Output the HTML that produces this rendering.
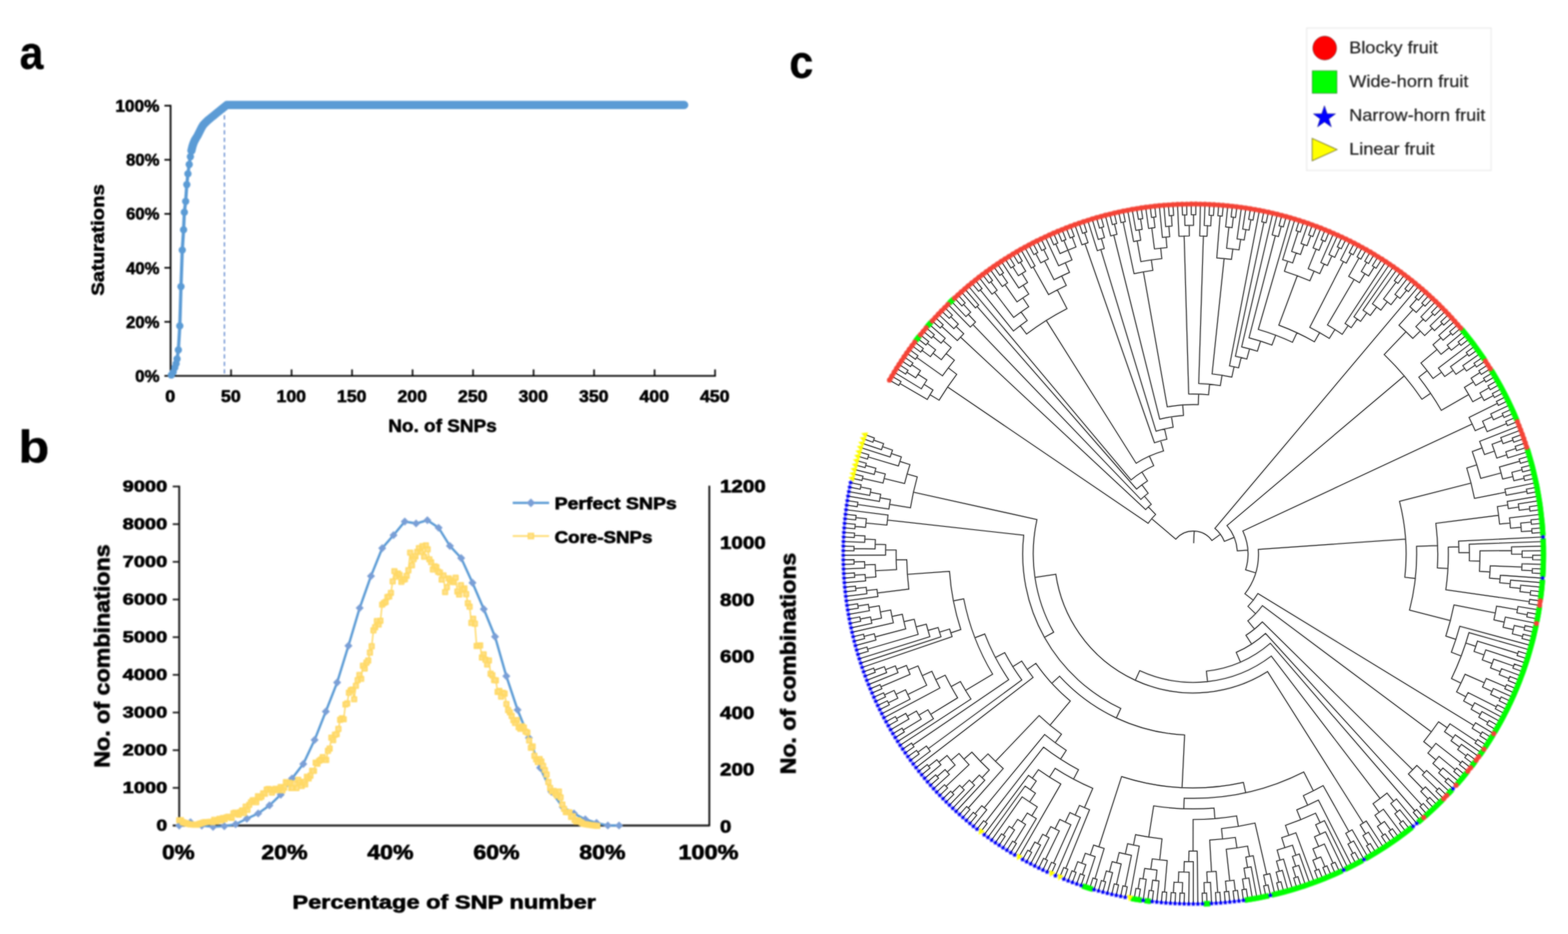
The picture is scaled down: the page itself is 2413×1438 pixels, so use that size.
<!DOCTYPE html>
<html lang="en">
<head>
<meta charset="utf-8">
<title>Figure: SNP saturation, combinations and phylogenetic tree</title>
<style>
html,body{margin:0;padding:0;background:#fff;}
body{width:2413px;height:1438px;overflow:hidden;}
svg{display:block;font-family:"Liberation Sans", Arial, Helvetica, sans-serif;}
.soft{filter:blur(0.8px);}
</style>
</head>
<body>
<svg width="2413" height="1438" viewBox="0 0 2413 1438">
<defs><path id="tl" d="M1809.4,830.1A35.4,35.4 0 0 1 1865.0,832.2M1809.4,830.1L1772.3,798.6M1766.9,805.7A84.1,84.1 0 0 1 1778.4,792.1M1766.9,805.7L1458.2,595.8M1445.2,616.1A457.4,457.4 0 0 1 1472.3,576.3M1445.2,616.1L1431.3,607.7M1427.0,615.0A473.6,473.6 0 0 1 1435.8,600.4M1427.0,615.0L1384.9,590.5M1383.2,593.4A522.3,522.3 0 0 1 1386.6,587.5M1383.2,593.4L1369.1,585.4M1386.6,587.5L1372.6,579.3M1435.8,600.4L1422.1,591.8M1417.9,598.6A489.8,489.8 0 0 1 1426.4,585.0M1417.9,598.6L1376.3,573.3M1426.4,585.0L1412.8,576.2M1409.2,581.7A506.0,506.0 0 0 1 1416.5,570.6M1409.2,581.7L1395.5,573.0M1393.7,575.9A522.3,522.3 0 0 1 1397.4,570.1M1393.7,575.9L1379.9,567.3M1397.4,570.1L1383.7,561.3M1416.5,570.6L1403.0,561.6M1401.1,564.4A522.3,522.3 0 0 1 1404.9,558.8M1401.1,564.4L1387.6,555.5M1404.9,558.8L1391.5,549.6M1472.3,576.3L1459.4,566.4M1450.4,578.6A473.6,473.6 0 0 1 1468.7,554.6M1450.4,578.6L1410.7,550.4M1408.8,553.2A522.3,522.3 0 0 1 1412.7,547.6M1408.8,553.2L1395.5,543.8M1412.7,547.6L1399.6,538.1M1468.7,554.6L1456.1,544.4M1448.6,553.8A489.8,489.8 0 0 1 1463.7,535.1M1448.6,553.8L1435.8,543.8M1431.8,549.1A506.0,506.0 0 0 1 1439.8,538.6M1431.8,549.1L1418.8,539.4M1416.8,542.1A522.3,522.3 0 0 1 1420.9,536.6M1416.8,542.1L1403.7,532.4M1420.9,536.6L1407.9,526.8M1439.8,538.6L1427.1,528.6M1425.0,531.2A522.3,522.3 0 0 1 1429.3,525.9M1425.0,531.2L1412.2,521.2M1429.3,525.9L1416.6,515.7M1463.7,535.1L1451.4,524.6M1448.2,528.4A506.0,506.0 0 0 1 1454.6,520.8M1448.2,528.4L1435.7,518.0M1433.6,520.6A522.3,522.3 0 0 1 1437.9,515.4M1433.6,520.6L1421.0,510.3M1437.9,515.4L1425.6,504.9M1454.6,520.8L1430.1,499.5M1778.4,792.1L1767.2,780.4M1763.0,784.6A100.3,100.3 0 0 1 1771.7,776.4M1763.0,784.6L1478.1,519.0M1473.2,524.3A489.8,489.8 0 0 1 1483.1,513.8M1473.2,524.3L1449.2,502.5M1446.9,505.1A522.3,522.3 0 0 1 1451.5,500.0M1446.9,505.1L1434.8,494.3M1451.5,500.0L1439.5,489.0M1483.1,513.8L1471.3,502.6M1467.9,506.1A506.0,506.0 0 0 1 1474.8,499.0M1467.9,506.1L1444.3,483.9M1474.8,499.0L1463.2,487.6M1460.8,490.1A522.3,522.3 0 0 1 1465.6,485.2M1460.8,490.1L1449.1,478.8M1465.6,485.2L1454.1,473.8M1771.7,776.4L1761.2,764.0M1755.7,768.9A116.5,116.5 0 0 1 1766.9,759.4M1755.7,768.9L1497.2,499.7M1493.2,503.6A489.8,489.8 0 0 1 1501.2,495.8M1493.2,503.6L1459.1,468.8M1501.2,495.8L1490.1,484.0M1486.5,487.4A506.0,506.0 0 0 1 1493.8,480.6M1486.5,487.4L1464.1,463.9M1493.8,480.6L1482.8,468.7M1480.3,471.0A522.3,522.3 0 0 1 1485.3,466.4M1480.3,471.0L1469.2,459.1M1485.3,466.4L1474.4,454.3M1766.9,759.4L1757.3,746.4M1749.1,753.0A132.8,132.8 0 0 1 1765.9,740.5M1749.1,753.0L1503.6,471.8M1501.1,474.0A506.0,506.0 0 0 1 1506.1,469.6M1501.1,474.0L1479.6,449.6M1506.1,469.6L1484.9,445.0M1765.9,740.5L1757.3,726.8M1740.6,738.9A149.0,149.0 0 0 1 1775.5,717.0M1740.6,738.9L1490.3,440.5M1775.5,717.0L1768.8,702.2M1748.4,713.2A165.2,165.2 0 0 1 1790.6,694.3M1748.4,713.2L1610.1,493.4M1579.8,514.3A424.9,424.9 0 0 1 1642.0,475.2M1579.8,514.3L1570.0,501.4M1559.6,509.6A441.1,441.1 0 0 1 1580.8,493.5M1559.6,509.6L1508.6,446.4M1506.0,448.5A522.3,522.3 0 0 1 1511.3,444.3M1506.0,448.5L1495.7,436.0M1511.3,444.3L1501.2,431.6M1580.8,493.5L1571.4,480.3M1559.9,488.7A457.4,457.4 0 0 1 1583.1,472.2M1559.9,488.7L1530.5,449.9M1526.6,452.9A506.0,506.0 0 0 1 1534.5,446.9M1526.6,452.9L1506.7,427.2M1534.5,446.9L1524.8,433.9M1522.1,435.9A522.3,522.3 0 0 1 1527.5,431.8M1522.1,435.9L1512.3,423.0M1527.5,431.8L1517.9,418.8M1583.1,472.2L1574.1,458.7M1565.1,464.8A473.6,473.6 0 0 1 1583.2,452.8M1565.1,464.8L1546.5,438.2M1542.5,441.1A506.0,506.0 0 0 1 1550.6,435.4M1542.5,441.1L1523.6,414.6M1550.6,435.4L1541.5,422.0M1538.6,423.9A522.3,522.3 0 0 1 1544.3,420.1M1538.6,423.9L1529.4,410.6M1544.3,420.1L1535.2,406.6M1583.2,452.8L1574.5,439.1M1567.8,443.4A489.8,489.8 0 0 1 1581.3,434.9M1567.8,443.4L1541.1,402.7M1581.3,434.9L1572.8,421.0M1567.2,424.5A506.0,506.0 0 0 1 1578.5,417.6M1567.2,424.5L1558.6,410.8M1555.7,412.6A522.3,522.3 0 0 1 1561.5,409.0M1555.7,412.6L1547.0,398.9M1561.5,409.0L1552.9,395.2M1578.5,417.6L1570.2,403.7M1567.3,405.4A522.3,522.3 0 0 1 1573.1,401.9M1567.3,405.4L1558.9,391.5M1573.1,401.9L1565.0,387.9M1642.0,475.2L1627.1,446.3M1613.7,453.6A457.4,457.4 0 0 1 1640.9,439.6M1613.7,453.6L1589.9,411.0M1587.1,412.7A506.0,506.0 0 0 1 1592.8,409.4M1587.1,412.7L1571.1,384.4M1592.8,409.4L1577.2,381.0M1640.9,439.6L1633.9,424.9M1622.1,430.7A473.6,473.6 0 0 1 1645.9,419.4M1622.1,430.7L1607.4,401.7M1601.6,404.7A506.0,506.0 0 0 1 1613.4,398.8M1601.6,404.7L1594.0,390.4M1591.0,392.0A522.3,522.3 0 0 1 1597.1,388.8M1591.0,392.0L1583.4,377.6M1597.1,388.8L1589.6,374.4M1613.4,398.8L1606.2,384.2M1603.1,385.7A522.3,522.3 0 0 1 1609.3,382.7M1603.1,385.7L1595.9,371.2M1609.3,382.7L1602.2,368.1M1645.9,419.4L1639.4,404.6M1629.2,409.2A489.8,489.8 0 0 1 1649.7,400.2M1629.2,409.2L1608.6,365.1M1649.7,400.2L1643.5,385.2M1631.3,390.4A506.0,506.0 0 0 1 1655.8,380.3M1631.3,390.4L1624.7,375.5M1621.6,376.9A522.3,522.3 0 0 1 1627.9,374.2M1621.6,376.9L1615.0,362.1M1627.9,374.2L1621.4,359.3M1643.5,385.2L1637.3,370.2M1634.1,371.5A522.3,522.3 0 0 1 1640.4,368.9M1634.1,371.5L1627.8,356.5M1640.4,368.9L1634.4,353.8M1655.8,380.3L1650.0,365.1M1646.8,366.4A522.3,522.3 0 0 1 1653.2,363.9M1646.8,366.4L1640.9,351.2M1653.2,363.9L1647.5,348.7M1790.6,694.3L1786.1,678.7M1776.6,681.7A181.4,181.4 0 0 1 1795.7,676.2M1776.6,681.7L1669.7,375.2M1665.0,376.9A506.0,506.0 0 0 1 1674.4,373.6M1665.0,376.9L1654.1,346.3M1674.4,373.6L1669.2,358.2M1666.0,359.3A522.3,522.3 0 0 1 1672.4,357.1M1666.0,359.3L1660.7,344.0M1672.4,357.1L1667.4,341.7M1795.7,676.2L1792.1,660.4M1779.0,663.9A197.7,197.7 0 0 1 1805.4,657.8M1779.0,663.9L1694.1,384.3M1688.7,386.0A489.8,489.8 0 0 1 1699.4,382.7M1688.7,386.0L1674.0,339.6M1699.4,382.7L1694.9,367.1M1690.1,368.6A506.0,506.0 0 0 1 1699.7,365.8M1690.1,368.6L1680.8,337.5M1699.7,365.8L1695.3,350.2M1692.0,351.1A522.3,522.3 0 0 1 1698.6,349.2M1692.0,351.1L1687.5,335.5M1698.6,349.2L1694.3,333.6M1805.4,657.8L1802.8,641.7M1784.7,645.4A213.9,213.9 0 0 1 1821.3,639.6M1784.7,645.4L1714.0,362.0M1709.2,363.2A506.0,506.0 0 0 1 1718.9,360.8M1709.2,363.2L1701.1,331.8M1718.9,360.8L1715.1,345.0M1711.8,345.8A522.3,522.3 0 0 1 1718.4,344.2M1711.8,345.8L1707.9,330.1M1718.4,344.2L1714.7,328.4M1821.3,639.6L1820.1,623.4M1796.3,626.4A230.1,230.1 0 0 1 1844.1,623.0M1796.3,626.4L1759.6,418.6M1745.2,421.4A441.1,441.1 0 0 1 1774.1,416.3M1745.2,421.4L1728.4,342.0M1725.1,342.7A522.3,522.3 0 0 1 1731.7,341.3M1725.1,342.7L1721.6,326.9M1731.7,341.3L1728.5,325.4M1774.1,416.3L1771.8,400.2M1755.7,402.8A457.4,457.4 0 0 1 1787.9,398.2M1755.7,402.8L1750.0,370.9M1744.5,371.9A489.8,489.8 0 0 1 1755.5,369.9M1744.5,371.9L1735.4,324.1M1755.5,369.9L1752.9,353.9M1748.0,354.7A506.0,506.0 0 0 1 1757.7,353.1M1748.0,354.7L1742.3,322.8M1757.7,353.1L1755.2,337.1M1751.9,337.6A522.3,522.3 0 0 1 1758.6,336.6M1751.9,337.6L1749.2,321.6M1758.6,336.6L1756.2,320.5M1787.9,398.2L1786.2,382.1M1776.6,383.2A473.6,473.6 0 0 1 1795.8,381.2M1776.6,383.2L1772.5,351.0M1767.6,351.7A506.0,506.0 0 0 1 1777.4,350.4M1767.6,351.7L1763.1,319.5M1777.4,350.4L1775.5,334.3M1772.1,334.7A522.3,522.3 0 0 1 1778.9,333.9M1772.1,334.7L1770.1,318.6M1778.9,333.9L1777.1,317.8M1795.8,381.2L1794.4,365.0M1788.8,365.5A489.8,489.8 0 0 1 1800.0,364.5M1788.8,365.5L1784.1,317.0M1800.0,364.5L1798.8,348.4M1793.8,348.8A506.0,506.0 0 0 1 1803.7,348.0M1793.8,348.8L1791.1,316.4M1803.7,348.0L1802.7,331.8M1799.3,332.1A522.3,522.3 0 0 1 1806.1,331.6M1799.3,332.1L1798.1,315.9M1806.1,331.6L1805.1,315.4M1844.1,623.0L1844.6,606.8M1829.3,606.7A246.4,246.4 0 0 1 1859.9,607.8M1829.3,606.7L1822.3,363.4M1814.3,363.7A489.8,489.8 0 0 1 1830.3,363.2M1814.3,363.7L1812.1,315.0M1830.3,363.2L1830.1,347.0M1823.5,347.1A506.0,506.0 0 0 1 1836.7,347.0M1823.5,347.1L1823.1,330.9M1819.7,331.0A522.3,522.3 0 0 1 1826.5,330.8M1819.7,331.0L1819.2,314.8M1826.5,330.8L1826.2,314.6M1836.7,347.0L1836.7,330.7M1833.3,330.7A522.3,522.3 0 0 1 1840.2,330.7M1833.3,330.7L1833.2,314.5M1840.2,330.7L1840.3,314.5M1859.9,607.8L1861.4,591.6M1844.7,590.5A262.6,262.6 0 0 1 1878.0,593.7M1844.7,590.5L1851.9,363.4M1846.3,363.3A489.8,489.8 0 0 1 1857.5,363.6M1846.3,363.3L1847.3,314.6M1857.5,363.6L1858.2,347.4M1853.2,347.2A506.0,506.0 0 0 1 1863.2,347.7M1853.2,347.2L1854.3,314.8M1863.2,347.7L1864.0,331.5M1860.6,331.3A522.3,522.3 0 0 1 1867.4,331.7M1860.6,331.3L1861.4,315.1M1867.4,331.7L1868.4,315.5M1878.0,593.7L1880.6,577.7M1865.3,575.7A278.8,278.8 0 0 1 1895.7,580.6M1865.3,575.7L1883.8,398.1M1872.5,397.1A457.4,457.4 0 0 1 1895.1,399.4M1872.5,397.1L1877.6,332.4M1874.2,332.1A522.3,522.3 0 0 1 1881.0,332.6M1874.2,332.1L1875.4,315.9M1881.0,332.6L1882.4,316.5M1895.1,399.4L1897.2,383.3M1887.6,382.2A473.6,473.6 0 0 1 1906.8,384.7M1887.6,382.2L1891.1,349.9M1886.2,349.4A506.0,506.0 0 0 1 1896.1,350.5M1886.2,349.4L1889.4,317.1M1896.1,350.5L1898.0,334.4M1894.6,334.0A522.3,522.3 0 0 1 1901.4,334.8M1894.6,334.0L1896.4,317.9M1901.4,334.8L1903.4,318.7M1906.8,384.7L1909.2,368.6M1903.7,367.8A489.8,489.8 0 0 1 1914.7,369.5M1903.7,367.8L1910.4,319.6M1914.7,369.5L1917.3,353.5M1912.4,352.7A506.0,506.0 0 0 1 1922.2,354.3M1912.4,352.7L1917.3,320.6M1922.2,354.3L1925.0,338.3M1921.6,337.7A522.3,522.3 0 0 1 1928.3,338.9M1921.6,337.7L1924.3,321.7M1928.3,338.9L1931.2,322.9M1895.7,580.6L1899.1,564.7M1892.1,563.3A295.0,295.0 0 0 1 1906.1,566.3M1892.1,563.3L1938.1,324.2M1906.1,566.3L1910.0,550.5M1901.2,548.5A311.3,311.3 0 0 1 1918.7,552.8M1901.2,548.5L1945.1,342.2M1941.7,341.5A522.3,522.3 0 0 1 1948.4,342.9M1941.7,341.5L1945.0,325.6M1948.4,342.9L1951.9,327.0M1918.7,552.8L1923.0,537.1M1910.8,534.1A327.5,327.5 0 0 1 1935.0,540.7M1910.8,534.1L1958.7,328.6M1935.0,540.7L1939.9,525.2M1922.1,520.1A343.7,343.7 0 0 1 1957.4,531.3M1922.1,520.1L1962.6,363.0M1957.8,361.7A506.0,506.0 0 0 1 1967.4,364.2M1957.8,361.7L1965.6,330.2M1967.4,364.2L1971.6,348.5M1968.3,347.7A522.3,522.3 0 0 1 1974.9,349.4M1968.3,347.7L1972.4,332.0M1974.9,349.4L1979.2,333.8M1957.4,531.3L1963.1,516.1M1936.4,507.2A360.0,360.0 0 0 1 1989.0,527.0M1936.4,507.2L1986.0,335.7M1989.0,527.0L1995.9,512.3M1968.0,500.6A376.2,376.2 0 0 1 2022.8,526.2M1968.0,500.6L1996.4,424.5M1976.6,417.7A457.4,457.4 0 0 1 2015.8,432.3M1976.6,417.7L1981.6,402.2M1973.9,399.8A473.6,473.6 0 0 1 1989.3,404.8M1973.9,399.8L1992.7,337.7M1989.3,404.8L1994.6,389.4M1987.7,387.2A489.8,489.8 0 0 1 2001.4,391.8M1987.7,387.2L1997.8,356.3M1994.5,355.2A522.3,522.3 0 0 1 2001.0,357.3M1994.5,355.2L1999.4,339.8M2001.0,357.3L2006.1,341.9M2001.4,391.8L2006.8,376.5M2002.1,374.9A506.0,506.0 0 0 1 2011.5,378.2M2002.1,374.9L2012.8,344.2M2011.5,378.2L2017.1,363.0M2013.9,361.8A522.3,522.3 0 0 1 2020.3,364.2M2013.9,361.8L2019.4,346.5M2020.3,364.2L2026.0,349.0M2015.8,432.3L2022.2,417.4M2013.2,413.7A473.6,473.6 0 0 1 2031.0,421.3M2013.2,413.7L2025.4,383.6M2020.7,381.7A506.0,506.0 0 0 1 2029.9,385.4M2020.7,381.7L2032.6,351.5M2029.9,385.4L2036.1,370.4M2033.0,369.1A522.3,522.3 0 0 1 2039.3,371.8M2033.0,369.1L2039.1,354.1M2039.3,371.8L2045.6,356.8M2031.0,421.3L2037.7,406.5M2032.6,404.2A489.8,489.8 0 0 1 2042.8,408.8M2032.6,404.2L2052.1,359.6M2042.8,408.8L2049.6,394.1M2045.1,392.0A506.0,506.0 0 0 1 2054.1,396.2M2045.1,392.0L2058.5,362.4M2054.1,396.2L2061.1,381.5M2058.0,380.1A522.3,522.3 0 0 1 2064.1,383.0M2058.0,380.1L2064.9,365.4M2064.1,383.0L2071.2,368.4M2022.8,526.2L2030.8,512.1M2015.6,503.9A392.4,392.4 0 0 1 2045.7,521.0M2015.6,503.9L2067.4,402.8M2063.0,400.5A506.0,506.0 0 0 1 2071.8,405.1M2063.0,400.5L2077.5,371.5M2071.8,405.1L2079.4,390.7M2076.3,389.1A522.3,522.3 0 0 1 2082.4,392.3M2076.3,389.1L2083.8,374.7M2082.4,392.3L2090.0,378.0M2045.7,521.0L2054.3,507.3M2042.8,500.3A408.7,408.7 0 0 1 2065.6,514.7M2042.8,500.3L2083.8,430.3M2075.5,425.5A489.8,489.8 0 0 1 2092.1,435.2M2075.5,425.5L2091.4,397.2M2088.4,395.5A522.3,522.3 0 0 1 2094.3,398.9M2088.4,395.5L2096.2,381.3M2094.3,398.9L2102.3,384.8M2092.1,435.2L2100.5,421.4M2094.9,418.0A506.0,506.0 0 0 1 2106.2,424.9M2094.9,418.0L2103.2,404.0M2100.2,402.3A522.3,522.3 0 0 1 2106.1,405.8M2100.2,402.3L2108.4,388.3M2106.1,405.8L2114.5,391.9M2106.2,424.9L2114.8,411.1M2111.9,409.3A522.3,522.3 0 0 1 2117.7,413.0M2111.9,409.3L2120.5,395.5M2117.7,413.0L2126.4,399.3M2065.6,514.7L2074.7,501.2M2069.9,498.0A424.9,424.9 0 0 1 2079.4,504.5M2069.9,498.0L2132.3,403.1M2079.4,504.5L2088.7,491.2M2083.6,487.7A441.1,441.1 0 0 1 2093.8,494.8M2083.6,487.7L2138.2,407.0M2093.8,494.8L2103.3,481.6M2097.6,477.6A457.4,457.4 0 0 1 2108.8,485.7M2097.6,477.6L2144.0,411.0M2108.8,485.7L2118.5,472.6M2112.0,467.8A473.6,473.6 0 0 1 2125.0,477.5M2112.0,467.8L2149.7,415.0M2125.0,477.5L2134.9,464.6M2129.1,460.3A489.8,489.8 0 0 1 2140.6,469.1M2129.1,460.3L2148.5,434.3M2145.8,432.2A522.3,522.3 0 0 1 2151.3,436.3M2145.8,432.2L2155.4,419.2M2151.3,436.3L2161.1,423.4M2140.6,469.1L2150.6,456.4M2146.7,453.3A506.0,506.0 0 0 1 2154.5,459.4M2146.7,453.3L2166.6,427.7M2154.5,459.4L2164.7,446.8M2162.1,444.7A522.3,522.3 0 0 1 2167.4,449.0M2162.1,444.7L2172.2,432.0M2167.4,449.0L2177.6,436.4M1865.0,832.2L1878.1,822.6M1869.6,813.5A51.6,51.6 0 0 1 1884.2,833.5M1869.6,813.5L2183.1,440.9M1884.2,833.5L1899.2,827.4M1888.2,809.2A67.8,67.8 0 0 1 1904.1,848.1M1888.2,809.2L2161.0,578.8M2130.1,545.9A424.9,424.9 0 0 1 2188.2,614.7M2130.1,545.9L2163.7,510.7M2152.9,500.7A473.6,473.6 0 0 1 2174.2,521.0M2152.9,500.7L2174.6,476.6M2169.7,472.2A506.0,506.0 0 0 1 2179.5,481.0M2169.7,472.2L2180.4,460.0M2177.8,457.8A522.3,522.3 0 0 1 2182.9,462.3M2177.8,457.8L2188.4,445.5M2182.9,462.3L2193.7,450.1M2179.5,481.0L2190.5,469.1M2188.0,466.8A522.3,522.3 0 0 1 2193.0,471.4M2188.0,466.8L2198.9,454.8M2193.0,471.4L2204.1,459.6M2174.2,521.0L2185.7,509.7M2178.9,502.9A489.8,489.8 0 0 1 2192.4,516.6M2178.9,502.9L2190.3,491.3M2186.7,487.8A506.0,506.0 0 0 1 2193.8,494.8M2186.7,487.8L2209.2,464.4M2193.8,494.8L2205.3,483.3M2202.9,480.9A522.3,522.3 0 0 1 2207.7,485.7M2202.9,480.9L2214.2,469.3M2207.7,485.7L2219.2,474.3M2192.4,516.6L2204.2,505.4M2200.8,501.8A506.0,506.0 0 0 1 2207.6,509.0M2200.8,501.8L2224.1,479.3M2207.6,509.0L2219.5,498.0M2217.2,495.5A522.3,522.3 0 0 1 2221.8,500.5M2217.2,495.5L2229.0,484.4M2221.8,500.5L2233.8,489.6M2188.2,614.7L2201.6,605.6M2183.4,580.7A441.1,441.1 0 0 1 2218.0,631.8M2183.4,580.7L2196.2,570.7M2186.7,558.9A457.4,457.4 0 0 1 2205.3,582.7M2186.7,558.9L2211.5,538.1M2205.3,530.8A489.8,489.8 0 0 1 2217.6,545.5M2205.3,530.8L2217.5,520.1M2214.2,516.4A506.0,506.0 0 0 1 2220.8,523.8M2214.2,516.4L2238.5,494.8M2220.8,523.8L2233.1,513.3M2230.9,510.7A522.3,522.3 0 0 1 2235.3,515.9M2230.9,510.7L2243.1,500.1M2235.3,515.9L2247.7,505.4M2217.6,545.5L2230.3,535.3M2227.1,531.4A506.0,506.0 0 0 1 2233.4,539.2M2227.1,531.4L2252.2,510.8M2233.4,539.2L2246.1,529.1M2244.0,526.4A522.3,522.3 0 0 1 2248.2,531.8M2244.0,526.4L2256.6,516.3M2248.2,531.8L2261.0,521.8M2205.3,582.7L2218.4,573.1M2213.6,566.6A473.6,473.6 0 0 1 2223.2,579.7M2213.6,566.6L2265.3,527.4M2223.2,579.7L2236.4,570.4M2232.2,564.5A489.8,489.8 0 0 1 2240.5,576.3M2232.2,564.5L2258.5,545.4M2256.4,542.6A522.3,522.3 0 0 1 2260.5,548.1M2256.4,542.6L2269.5,533.0M2260.5,548.1L2273.6,538.7M2240.5,576.3L2253.9,567.1M2251.1,563.0A506.0,506.0 0 0 1 2256.7,571.2M2251.1,563.0L2277.7,544.4M2256.7,571.2L2270.2,562.2M2268.3,559.3A522.3,522.3 0 0 1 2272.1,565.0M2268.3,559.3L2281.7,550.2M2272.1,565.0L2285.6,556.0M2218.0,631.8L2260.2,607.4M2253.6,596.4A489.8,489.8 0 0 1 2266.4,618.5M2253.6,596.4L2267.4,587.9M2263.9,582.3A506.0,506.0 0 0 1 2270.9,593.5M2263.9,582.3L2277.6,573.6M2275.8,570.7A522.3,522.3 0 0 1 2279.5,576.5M2275.8,570.7L2289.5,561.9M2279.5,576.5L2293.2,567.9M2270.9,593.5L2284.8,585.2M2283.0,582.3A522.3,522.3 0 0 1 2286.5,588.1M2283.0,582.3L2296.9,573.9M2286.5,588.1L2300.5,579.9M2266.4,618.5L2280.7,610.7M2277.5,605.0A506.0,506.0 0 0 1 2283.8,616.6M2277.5,605.0L2291.6,597.0M2289.9,594.0A522.3,522.3 0 0 1 2293.3,600.0M2289.9,594.0L2304.0,586.0M2293.3,600.0L2307.5,592.1M2283.8,616.6L2298.2,609.0M2296.6,606.0A522.3,522.3 0 0 1 2299.7,612.0M2296.6,606.0L2310.9,598.3M2299.7,612.0L2314.1,604.5M1904.1,848.1L1920.2,847.0M1912.6,817.5A84.1,84.1 0 0 1 1916.9,877.3M1912.6,817.5L2265.6,652.8M2260.7,642.7A473.6,473.6 0 0 1 2270.2,663.1M2260.7,642.7L2304.4,621.1M2302.8,618.1A522.3,522.3 0 0 1 2305.9,624.2M2302.8,618.1L2317.3,610.8M2305.9,624.2L2320.5,617.1M2270.2,663.1L2285.1,656.5M2281.5,648.5A489.8,489.8 0 0 1 2288.5,664.6M2281.5,648.5L2296.2,641.7M2294.1,637.3A506.0,506.0 0 0 1 2298.3,646.3M2294.1,637.3L2323.5,623.4M2298.3,646.3L2313.1,639.6M2311.7,636.5A522.3,522.3 0 0 1 2314.5,642.8M2311.7,636.5L2326.5,629.8M2314.5,642.8L2329.3,636.2M2288.5,664.6L2318.5,652.2M2317.2,649.0A522.3,522.3 0 0 1 2319.8,655.3M2317.2,649.0L2332.1,642.7M2319.8,655.3L2334.8,649.2M1916.9,877.3L1932.4,882.0M1936.4,845.9A100.3,100.3 0 0 1 1915.8,914.2M1936.4,845.9L2163.1,830.0M2153.7,771.9A327.5,327.5 0 0 1 2161.9,888.8M2153.7,771.9L2263.8,743.8M2257.2,720.6A441.1,441.1 0 0 1 2269.1,767.3M2257.2,720.6L2272.6,715.7M2265.7,695.2A457.4,457.4 0 0 1 2278.7,736.5M2265.7,695.2L2280.9,689.6M2277.0,679.5A473.6,473.6 0 0 1 2284.5,699.8M2277.0,679.5L2337.5,655.7M2284.5,699.8L2299.9,694.5M2296.1,684.0A489.8,489.8 0 0 1 2303.4,705.2M2296.1,684.0L2311.4,678.4M2309.6,673.7A506.0,506.0 0 0 1 2313.0,683.1M2309.6,673.7L2340.0,662.3M2313.0,683.1L2328.3,677.6M2327.2,674.4A522.3,522.3 0 0 1 2329.5,680.8M2327.2,674.4L2342.4,668.8M2329.5,680.8L2344.8,675.5M2303.4,705.2L2318.8,700.3M2317.3,695.6A506.0,506.0 0 0 1 2320.3,705.0M2317.3,695.6L2332.8,690.5M2331.7,687.3A522.3,522.3 0 0 1 2333.8,693.8M2331.7,687.3L2347.1,682.1M2333.8,693.8L2349.3,688.8M2320.3,705.0L2351.4,695.5M2278.7,736.5L2310.0,728.2M2307.5,719.0A489.8,489.8 0 0 1 2312.4,737.5M2307.5,719.0L2338.7,710.1M2337.8,706.8A522.3,522.3 0 0 1 2339.7,713.4M2337.8,706.8L2353.4,702.3M2339.7,713.4L2355.3,709.0M2312.4,737.5L2328.2,733.7M2326.6,727.3A506.0,506.0 0 0 1 2329.7,740.1M2326.6,727.3L2342.3,723.2M2341.4,719.9A522.3,522.3 0 0 1 2343.1,726.6M2341.4,719.9L2357.1,715.8M2343.1,726.6L2358.9,722.6M2329.7,740.1L2345.5,736.5M2344.7,733.2A522.3,522.3 0 0 1 2346.3,739.8M2344.7,733.2L2360.5,729.5M2346.3,739.8L2362.1,736.3M2269.1,767.3L2316.9,757.8M2315.9,753.1A489.8,489.8 0 0 1 2317.8,762.5M2315.9,753.1L2363.6,743.2M2317.8,762.5L2349.7,756.5M2349.0,753.2A522.3,522.3 0 0 1 2350.3,759.9M2349.0,753.2L2365.0,750.1M2350.3,759.9L2366.3,757.0M2161.9,888.8L2178.1,890.6M2179.9,841.1A343.7,343.7 0 0 1 2169.1,939.3M2179.9,841.1L2212.4,840.0M2209.6,805.7A376.2,376.2 0 0 1 2212.0,874.4M2209.6,805.7L2306.2,793.4M2304.3,780.0A473.6,473.6 0 0 1 2307.7,806.8M2304.3,780.0L2320.4,777.5M2319.5,772.0A489.8,489.8 0 0 1 2321.2,783.0M2319.5,772.0L2367.5,763.9M2321.2,783.0L2337.3,780.7M2336.5,775.8A506.0,506.0 0 0 1 2337.9,785.6M2336.5,775.8L2368.6,770.9M2337.9,785.6L2354.0,783.5M2353.6,780.1A522.3,522.3 0 0 1 2354.5,786.9M2353.6,780.1L2369.6,777.8M2354.5,786.9L2370.6,784.8M2307.7,806.8L2323.9,805.3M2323.0,797.3A489.8,489.8 0 0 1 2324.6,813.2M2323.0,797.3L2371.4,791.8M2324.6,813.2L2340.8,811.9M2340.2,805.3A506.0,506.0 0 0 1 2341.3,818.5M2340.2,805.3L2356.3,803.8M2356.0,800.4A522.3,522.3 0 0 1 2356.7,807.2M2356.0,800.4L2372.2,798.8M2356.7,807.2L2372.8,805.8M2341.3,818.5L2357.5,817.4M2357.2,814.0A522.3,522.3 0 0 1 2357.7,820.8M2357.2,814.0L2373.4,812.8M2357.7,820.8L2373.9,819.8M2212.0,874.4L2228.2,875.3M2228.7,842.4A392.4,392.4 0 0 1 2225.0,908.0M2228.7,842.4L2244.9,841.9M2244.6,833.1A408.7,408.7 0 0 1 2245.1,850.8M2244.6,833.1L2374.3,826.8M2245.1,850.8L2261.3,850.7M2261.0,837.9A424.9,424.9 0 0 1 2261.2,863.5M2261.0,837.9L2374.6,833.8M2261.2,863.5L2277.4,863.9M2277.5,848.1A441.1,441.1 0 0 1 2276.7,879.6M2277.5,848.1L2326.2,847.6M2326.1,842.0A489.8,489.8 0 0 1 2326.2,853.2M2326.1,842.0L2374.8,840.9M2326.2,853.2L2342.4,853.2M2342.4,848.2A506.0,506.0 0 0 1 2342.4,858.1M2342.4,848.2L2374.9,847.9M2342.4,858.1L2358.6,858.3M2358.7,854.9A522.3,522.3 0 0 1 2358.6,861.7M2358.7,854.9L2374.9,854.9M2358.6,861.7L2374.8,862.0M2276.7,879.6L2292.9,880.6M2293.4,871.1A457.4,457.4 0 0 1 2292.2,890.1M2293.4,871.1L2342.0,873.0M2342.2,868.0A506.0,506.0 0 0 1 2341.8,877.9M2342.2,868.0L2374.7,869.0M2341.8,877.9L2358.0,878.7M2358.2,875.3A522.3,522.3 0 0 1 2357.9,882.2M2358.2,875.3L2374.4,876.0M2357.9,882.2L2374.1,883.1M2292.2,890.1L2308.4,891.4M2308.9,885.6A473.6,473.6 0 0 1 2307.9,897.2M2308.9,885.6L2373.6,890.1M2307.9,897.2L2324.1,898.7M2324.6,893.1A489.8,489.8 0 0 1 2323.5,904.2M2324.6,893.1L2373.1,897.1M2323.5,904.2L2339.7,905.9M2340.2,901.0A506.0,506.0 0 0 1 2339.1,910.9M2340.2,901.0L2372.5,904.1M2339.1,910.9L2355.2,912.7M2355.6,909.3A522.3,522.3 0 0 1 2354.8,916.1M2355.6,909.3L2371.8,911.1M2354.8,916.1L2371.0,918.1M2225.0,908.0L2353.5,926.3M2354.0,922.9A522.3,522.3 0 0 1 2353.0,929.6M2354.0,922.9L2370.1,925.1M2353.0,929.6L2369.1,932.0M2169.1,939.3L2232.0,955.5M2237.5,931.4A408.7,408.7 0 0 1 2225.0,979.3M2237.5,931.4L2301.2,943.8M2303.1,933.2A473.6,473.6 0 0 1 2299.0,954.4M2303.1,933.2L2335.1,938.7M2336.0,933.8A506.0,506.0 0 0 1 2334.3,943.6M2336.0,933.8L2368.0,939.0M2334.3,943.6L2350.2,946.5M2350.8,943.1A522.3,522.3 0 0 1 2349.6,949.8M2350.8,943.1L2366.8,945.9M2349.6,949.8L2365.6,952.8M2299.0,954.4L2314.8,957.9M2316.5,950.1A489.8,489.8 0 0 1 2313.1,965.7M2316.5,950.1L2364.2,959.7M2313.1,965.7L2328.9,969.4M2330.3,963.0A506.0,506.0 0 0 1 2327.3,975.8M2330.3,963.0L2346.2,966.5M2346.9,963.2A522.3,522.3 0 0 1 2345.4,969.8M2346.9,963.2L2362.8,966.6M2345.4,969.8L2361.3,973.5M2327.3,975.8L2343.0,979.8M2343.9,976.5A522.3,522.3 0 0 1 2342.2,983.1M2343.9,976.5L2359.6,980.3M2342.2,983.1L2357.9,987.1M2225.0,979.3L2240.5,984.4M2246.5,964.2A424.9,424.9 0 0 1 2233.5,1004.2M2246.5,964.2L2356.1,993.9M2233.5,1004.2L2248.7,1010.0M2260.6,974.0A441.1,441.1 0 0 1 2233.7,1044.7M2260.6,974.0L2354.2,1000.7M2255.7,990.0L2271.1,995.1M2273.7,987.0A457.4,457.4 0 0 1 2268.4,1003.0M2273.7,987.0L2335.7,1006.1M2336.7,1002.8A522.3,522.3 0 0 1 2334.7,1009.3M2336.7,1002.8L2352.3,1007.5M2334.7,1009.3L2350.2,1014.2M2268.4,1003.0L2283.8,1008.3M2286.4,1000.6A473.6,473.6 0 0 1 2281.1,1016.0M2286.4,1000.6L2348.1,1020.9M2281.1,1016.0L2296.3,1021.6M2298.7,1014.8A489.8,489.8 0 0 1 2293.8,1028.3M2298.7,1014.8L2329.4,1025.5M2330.5,1022.3A522.3,522.3 0 0 1 2328.2,1028.7M2330.5,1022.3L2345.8,1027.6M2328.2,1028.7L2343.5,1034.2M2293.8,1028.3L2308.9,1034.1M2310.7,1029.5A506.0,506.0 0 0 1 2307.1,1038.7M2310.7,1029.5L2341.1,1040.8M2307.1,1038.7L2322.2,1044.7M2323.5,1041.5A522.3,522.3 0 0 1 2321.0,1047.9M2323.5,1041.5L2338.6,1047.4M2321.0,1047.9L2336.0,1053.9M2233.7,1044.7L2248.3,1051.8M2254.6,1038.1A457.4,457.4 0 0 1 2241.5,1065.3M2254.6,1038.1L2284.3,1051.2M2287.2,1044.6A489.8,489.8 0 0 1 2281.4,1057.8M2287.2,1044.6L2317.0,1057.3M2318.4,1054.2A522.3,522.3 0 0 1 2315.7,1060.4M2318.4,1054.2L2333.3,1060.4M2315.7,1060.4L2330.6,1066.9M2281.4,1057.8L2296.1,1064.6M2298.1,1060.0A506.0,506.0 0 0 1 2294.0,1069.1M2298.1,1060.0L2327.8,1073.3M2294.0,1069.1L2308.7,1076.0M2310.1,1072.9A522.3,522.3 0 0 1 2307.2,1079.1M2310.1,1072.9L2324.8,1079.7M2307.2,1079.1L2321.8,1086.1M2241.5,1065.3L2255.9,1072.8M2259.2,1066.3A473.6,473.6 0 0 1 2252.4,1079.3M2259.2,1066.3L2302.7,1088.2M2304.2,1085.2A522.3,522.3 0 0 1 2301.1,1091.3M2304.2,1085.2L2318.8,1092.4M2301.1,1091.3L2315.6,1098.7M2252.4,1079.3L2266.7,1087.1M2269.3,1082.1A489.8,489.8 0 0 1 2264.0,1092.0M2269.3,1082.1L2312.3,1104.9M2264.0,1092.0L2278.1,1099.9M2280.5,1095.6A506.0,506.0 0 0 1 2275.7,1104.2M2280.5,1095.6L2309.0,1111.1M2275.7,1104.2L2289.8,1112.3M2291.5,1109.3A522.3,522.3 0 0 1 2288.1,1115.2M2291.5,1109.3L2305.6,1117.3M2288.1,1115.2L2302.1,1123.4M1915.8,914.2L1928.7,924.1M1935.8,913.8A116.5,116.5 0 0 1 1920.5,933.6M1935.8,913.8L2268.1,1117.0M2270.7,1112.8A506.0,506.0 0 0 1 2265.5,1121.2M2270.7,1112.8L2298.5,1129.4M2265.5,1121.2L2279.3,1129.8M2281.1,1126.9A522.3,522.3 0 0 1 2277.5,1132.7M2281.1,1126.9L2294.9,1135.4M2277.5,1132.7L2291.2,1141.4M1920.5,933.6L1932.2,944.9M1942.7,932.5A132.8,132.8 0 0 1 1920.3,955.9M1942.7,932.5L2202.7,1126.8M2213.8,1111.3A457.4,457.4 0 0 1 2191.0,1141.8M2213.8,1111.3L2227.2,1120.5M2231.3,1114.4A473.6,473.6 0 0 1 2223.0,1126.5M2231.3,1114.4L2271.9,1141.3M2273.8,1138.5A522.3,522.3 0 0 1 2270.0,1144.1M2273.8,1138.5L2287.4,1147.3M2270.0,1144.1L2283.5,1153.2M2223.0,1126.5L2236.2,1135.9M2239.4,1131.3A489.8,489.8 0 0 1 2233.0,1140.5M2239.4,1131.3L2279.5,1159.0M2233.0,1140.5L2246.1,1150.0M2249.0,1146.0A506.0,506.0 0 0 1 2243.2,1154.0M2249.0,1146.0L2275.5,1164.8M2243.2,1154.0L2256.2,1163.6M2258.3,1160.9A522.3,522.3 0 0 1 2254.2,1166.4M2258.3,1160.9L2271.4,1170.5M2254.2,1166.4L2267.2,1176.1M2191.0,1141.8L2203.6,1152.1M2209.6,1144.5A473.6,473.6 0 0 1 2197.4,1159.5M2209.6,1144.5L2248.0,1174.5M2250.1,1171.8A522.3,522.3 0 0 1 2245.9,1177.2M2250.1,1171.8L2262.9,1181.7M2245.9,1177.2L2258.6,1187.3M2197.4,1159.5L2209.8,1170.0M2214.4,1164.5A489.8,489.8 0 0 1 2205.1,1175.5M2214.4,1164.5L2239.4,1185.1M2241.6,1182.5A522.3,522.3 0 0 1 2237.3,1187.8M2241.6,1182.5L2254.2,1192.7M2237.3,1187.8L2249.7,1198.2M2205.1,1175.5L2217.3,1186.2M2220.5,1182.4A506.0,506.0 0 0 1 2214.0,1189.9M2220.5,1182.4L2245.2,1203.5M2214.0,1189.9L2226.1,1200.7M2228.4,1198.1A522.3,522.3 0 0 1 2223.8,1203.2M2228.4,1198.1L2240.6,1208.9M2223.8,1203.2L2235.9,1214.1M1920.3,955.9L1930.5,968.5M1942.6,957.5A149.0,149.0 0 0 1 1917.4,978.1M1942.6,957.5L2173.9,1185.2M2180.4,1178.5A473.6,473.6 0 0 1 2167.4,1191.7M2180.4,1178.5L2192.2,1189.7M2195.4,1186.2A489.8,489.8 0 0 1 2188.9,1193.1M2195.4,1186.2L2231.1,1219.3M2188.9,1193.1L2212.2,1215.7M2214.6,1213.2A522.3,522.3 0 0 1 2209.8,1218.1M2214.6,1213.2L2226.3,1224.4M2209.8,1218.1L2221.4,1229.5M2167.4,1191.7L2190.0,1215.0M2193.6,1211.5A506.0,506.0 0 0 1 2186.5,1218.4M2193.6,1211.5L2216.5,1234.5M2186.5,1218.4L2197.7,1230.1M2200.2,1227.8A522.3,522.3 0 0 1 2195.2,1232.5M2200.2,1227.8L2211.5,1239.4M2195.2,1232.5L2206.4,1244.3M1917.4,978.1L1926.2,991.7M1947.5,975.2A165.2,165.2 0 0 1 1902.4,1004.4M1947.5,975.2L2187.7,1239.4M2190.3,1237.1A522.3,522.3 0 0 1 2185.2,1241.7M2190.3,1237.1L2201.3,1249.1M2185.2,1241.7L2196.0,1253.8M1902.4,1004.4L1908.9,1019.3M1954.9,990.4A181.4,181.4 0 0 1 1856.5,1033.3M1954.9,990.4L2177.5,1248.5M2180.1,1246.2A522.3,522.3 0 0 1 2174.9,1250.7M2180.1,1246.2L2190.8,1258.5M2174.9,1250.7L2185.5,1263.0M1856.5,1033.3L1858.3,1049.5M1956.4,1010.1A197.7,197.7 0 0 1 1753.9,1032.6M1956.4,1010.1L2123.8,1229.4M2134.5,1221.0A473.6,473.6 0 0 1 2113.0,1237.4M2134.5,1221.0L2144.7,1233.6M2149.0,1230.1A489.8,489.8 0 0 1 2140.3,1237.1M2149.0,1230.1L2180.1,1267.6M2140.3,1237.1L2150.4,1249.9M2154.2,1246.8A506.0,506.0 0 0 1 2146.5,1252.9M2154.2,1246.8L2174.6,1272.0M2146.5,1252.9L2156.4,1265.7M2159.1,1263.6A522.3,522.3 0 0 1 2153.7,1267.8M2159.1,1263.6L2169.1,1276.4M2153.7,1267.8L2163.6,1280.7M2113.0,1237.4L2122.4,1250.6M2128.9,1245.9A489.8,489.8 0 0 1 2115.9,1255.2M2128.9,1245.9L2158.0,1285.0M2115.9,1255.2L2125.2,1268.6M2130.6,1264.8A506.0,506.0 0 0 1 2119.7,1272.3M2130.6,1264.8L2140.0,1278.0M2142.8,1276.0A522.3,522.3 0 0 1 2137.2,1279.9M2142.8,1276.0L2152.3,1289.1M2137.2,1279.9L2146.6,1293.2M2119.7,1272.3L2128.8,1285.7M2131.6,1283.8A522.3,522.3 0 0 1 2126.0,1287.6M2131.6,1283.8L2140.8,1297.2M2126.0,1287.6L2135.0,1301.2M1753.9,1032.6L1747.1,1047.4M1950.6,1033.9A213.9,213.9 0 0 1 1624.8,884.2M1950.6,1033.9L2097.9,1267.2M2102.6,1264.1A489.8,489.8 0 0 1 2093.2,1270.1M2102.6,1264.1L2129.1,1305.0M2093.2,1270.1L2101.7,1283.9M2105.9,1281.3A506.0,506.0 0 0 1 2097.4,1286.5M2105.9,1281.3L2123.2,1308.8M2097.4,1286.5L2105.8,1300.4M2108.7,1298.7A522.3,522.3 0 0 1 2102.9,1302.2M2108.7,1298.7L2117.2,1312.5M2102.9,1302.2L2111.2,1316.1M1624.8,884.2L1592.7,889.0M1621.5,973.4A246.4,246.4 0 0 1 1595.8,799.9M1621.5,973.4L1607.3,981.3M1724.8,1090.7A262.6,262.6 0 0 1 1575.4,824.0M1724.8,1090.7L1717.9,1105.4M1823.0,1131.5A278.8,278.8 0 0 1 1630.6,1041.1M1823.0,1131.5L1819.1,1212.6M1913.5,1204.6A360.0,360.0 0 0 1 1726.0,1195.6M1913.5,1204.6L1917.0,1220.5M2006.4,1188.6A376.2,376.2 0 0 1 1822.4,1228.9M2006.4,1188.6L2021.1,1217.5M2036.2,1209.5A408.7,408.7 0 0 1 2005.7,1225.0M2036.2,1209.5L2075.9,1280.3M2080.8,1277.5A489.8,489.8 0 0 1 2071.0,1283.0M2080.8,1277.5L2105.1,1319.7M2071.0,1283.0L2078.8,1297.2M2083.1,1294.8A506.0,506.0 0 0 1 2074.4,1299.6M2083.1,1294.8L2099.0,1323.2M2074.4,1299.6L2082.1,1313.9M2085.1,1312.3A522.3,522.3 0 0 1 2079.1,1315.5M2085.1,1312.3L2092.8,1326.5M2079.1,1315.5L2086.6,1329.8M2005.7,1225.0L2012.4,1239.7M2028.9,1231.8A424.9,424.9 0 0 1 1995.6,1246.9M2028.9,1231.8L2080.3,1333.1M1995.6,1246.9L2001.7,1262.0M2024.6,1252.0A441.1,441.1 0 0 1 1978.2,1270.7M2024.6,1252.0L2031.5,1266.6M2038.2,1263.4A457.4,457.4 0 0 1 2024.7,1269.8M2038.2,1263.4L2074.1,1336.2M2024.7,1269.8L2031.4,1284.6M2039.8,1280.7A473.6,473.6 0 0 1 2022.9,1288.3M2039.8,1280.7L2067.7,1339.3M2022.9,1288.3L2029.3,1303.2M2038.1,1299.4A489.8,489.8 0 0 1 2020.5,1306.9M2038.1,1299.4L2051.5,1328.9M2054.6,1327.5A522.3,522.3 0 0 1 2048.4,1330.3M2054.6,1327.5L2061.4,1342.3M2048.4,1330.3L2054.9,1345.2M2020.5,1306.9L2026.6,1321.9M2032.7,1319.4A506.0,506.0 0 0 1 2020.4,1324.4M2032.7,1319.4L2039.0,1334.4M2042.1,1333.1A522.3,522.3 0 0 1 2035.8,1335.7M2042.1,1333.1L2048.5,1348.0M2035.8,1335.7L2042.0,1350.7M2020.4,1324.4L2026.3,1339.5M2029.5,1338.3A522.3,522.3 0 0 1 2023.1,1340.7M2029.5,1338.3L2035.5,1353.3M2023.1,1340.7L2028.9,1355.9M1978.2,1270.7L1983.4,1286.1M1994.3,1282.2A457.4,457.4 0 0 1 1972.4,1289.7M1994.3,1282.2L2022.4,1358.4M1972.4,1289.7L1977.3,1305.1M1989.0,1301.3A473.6,473.6 0 0 1 1965.4,1308.7M1989.0,1301.3L1994.2,1316.7M1999.5,1314.8A489.8,489.8 0 0 1 1988.9,1318.5M1999.5,1314.8L2015.7,1360.8M1988.9,1318.5L1994.0,1333.9M1998.7,1332.3A506.0,506.0 0 0 1 1989.3,1335.4M1998.7,1332.3L2009.1,1363.1M1989.3,1335.4L1994.2,1350.9M1997.4,1349.8A522.3,522.3 0 0 1 1990.9,1351.9M1997.4,1349.8L2002.4,1365.3M1990.9,1351.9L1995.7,1367.4M1965.4,1308.7L1969.8,1324.3M1975.2,1322.7A489.8,489.8 0 0 1 1964.4,1325.8M1975.2,1322.7L1989.0,1369.4M1964.4,1325.8L1968.7,1341.4M1973.4,1340.1A506.0,506.0 0 0 1 1963.9,1342.7M1973.4,1340.1L1982.2,1371.4M1963.9,1342.7L1968.0,1358.4M1971.3,1357.6A522.3,522.3 0 0 1 1964.7,1359.3M1971.3,1357.6L1975.5,1373.2M1964.7,1359.3L1968.6,1375.0M1822.4,1228.9L1821.7,1245.2M1868.3,1244.1A392.4,392.4 0 0 1 1775.4,1240.7M1868.3,1244.1L1869.6,1260.3M1903.0,1256.2A408.7,408.7 0 0 1 1836.1,1261.7M1903.0,1256.2L1905.7,1272.2M1931.3,1267.2A424.9,424.9 0 0 1 1879.8,1275.7M1931.3,1267.2L1949.4,1346.3M1954.3,1345.1A506.0,506.0 0 0 1 1944.6,1347.3M1954.3,1345.1L1961.8,1376.7M1944.6,1347.3L1948.1,1363.2M1951.4,1362.5A522.3,522.3 0 0 1 1944.7,1363.9M1951.4,1362.5L1955.0,1378.3M1944.7,1363.9L1948.1,1379.8M1879.8,1275.7L1881.4,1291.8M1901.1,1289.3A441.1,441.1 0 0 1 1861.6,1293.4M1901.1,1289.3L1903.5,1305.4M1919.9,1302.7A457.4,457.4 0 0 1 1887.1,1307.5M1919.9,1302.7L1922.9,1318.6M1928.6,1317.5A473.6,473.6 0 0 1 1917.2,1319.6M1928.6,1317.5L1941.2,1381.2M1917.2,1319.6L1919.9,1335.6M1925.4,1334.6A489.8,489.8 0 0 1 1914.4,1336.6M1925.4,1334.6L1934.3,1382.5M1914.4,1336.6L1917.0,1352.6M1921.9,1351.8A506.0,506.0 0 0 1 1912.1,1353.3M1921.9,1351.8L1927.4,1383.8M1912.1,1353.3L1914.5,1369.4M1917.9,1368.9A522.3,522.3 0 0 1 1911.2,1369.9M1917.9,1368.9L1920.4,1384.9M1911.2,1369.9L1913.5,1386.0M1887.1,1307.5L1892.4,1355.9M1899.0,1355.2A506.0,506.0 0 0 1 1885.9,1356.6M1899.0,1355.2L1901.0,1371.3M1904.4,1370.8A522.3,522.3 0 0 1 1897.6,1371.7M1904.4,1370.8L1906.5,1386.9M1897.6,1371.7L1899.5,1387.8M1885.9,1356.6L1887.5,1372.8M1890.9,1372.4A522.3,522.3 0 0 1 1884.1,1373.1M1890.9,1372.4L1892.5,1388.6M1884.1,1373.1L1885.5,1389.3M1861.6,1293.4L1864.4,1342.0M1871.5,1341.5A489.8,489.8 0 0 1 1857.2,1342.4M1871.5,1341.5L1873.9,1373.9M1877.3,1373.7A522.3,522.3 0 0 1 1870.5,1374.2M1877.3,1373.7L1878.5,1389.8M1870.5,1374.2L1871.5,1390.4M1857.2,1342.4L1857.9,1358.6M1862.8,1358.4A506.0,506.0 0 0 1 1852.9,1358.8M1862.8,1358.4L1864.5,1390.8M1852.9,1358.8L1853.4,1375.0M1856.8,1374.9A522.3,522.3 0 0 1 1850.0,1375.1M1856.8,1374.9L1857.5,1391.1M1850.0,1375.1L1850.5,1391.3M1836.1,1261.7L1836.0,1310.3M1842.4,1310.3A457.4,457.4 0 0 1 1829.7,1310.3M1842.4,1310.3L1843.4,1391.5M1829.7,1310.3L1829.4,1326.5M1836.4,1326.6A473.6,473.6 0 0 1 1822.5,1326.4M1836.4,1326.6L1836.4,1391.5M1822.5,1326.4L1822.0,1342.6M1830.0,1342.8A489.8,489.8 0 0 1 1814.0,1342.3M1830.0,1342.8L1829.4,1391.5M1814.0,1342.3L1813.3,1358.5M1819.9,1358.8A506.0,506.0 0 0 1 1806.7,1358.2M1819.9,1358.8L1819.3,1375.0M1822.7,1375.1A522.3,522.3 0 0 1 1815.9,1374.9M1822.7,1375.1L1822.3,1391.3M1815.9,1374.9L1815.3,1391.1M1806.7,1358.2L1805.7,1374.4M1809.1,1374.6A522.3,522.3 0 0 1 1802.3,1374.2M1809.1,1374.6L1808.3,1390.8M1802.3,1374.2L1801.2,1390.4M1775.4,1240.7L1767.8,1288.8M1788.2,1291.5A441.1,441.1 0 0 1 1747.5,1285.1M1788.2,1291.5L1784.7,1323.7M1796.2,1324.9A473.6,473.6 0 0 1 1773.2,1322.3M1796.2,1324.9L1792.1,1373.4M1795.5,1373.7A522.3,522.3 0 0 1 1788.7,1373.1M1795.5,1373.7L1794.2,1389.8M1788.7,1373.1L1787.2,1389.3M1773.2,1322.3L1771.0,1338.4M1780.5,1339.6A489.8,489.8 0 0 1 1761.5,1337.1M1780.5,1339.6L1778.7,1355.7M1783.6,1356.3A506.0,506.0 0 0 1 1773.8,1355.1M1783.6,1356.3L1780.2,1388.6M1773.8,1355.1L1771.8,1371.3M1775.1,1371.7A522.3,522.3 0 0 1 1768.4,1370.8M1775.1,1371.7L1773.2,1387.8M1768.4,1370.8L1766.3,1386.9M1761.5,1337.1L1759.0,1353.1M1763.9,1353.8A506.0,506.0 0 0 1 1754.1,1352.3M1763.9,1353.8L1759.3,1386.0M1754.1,1352.3L1751.5,1368.3M1754.9,1368.9A522.3,522.3 0 0 1 1748.1,1367.8M1754.9,1368.9L1752.3,1384.9M1748.1,1367.8L1745.4,1383.8M1747.5,1285.1L1744.3,1301.0M1753.2,1302.7A457.4,457.4 0 0 1 1735.3,1299.0M1753.2,1302.7L1738.5,1382.5M1735.3,1299.0L1731.7,1314.9M1741.2,1316.9A473.6,473.6 0 0 1 1722.3,1312.6M1741.2,1316.9L1731.4,1364.6M1734.7,1365.3A522.3,522.3 0 0 1 1728.0,1363.9M1734.7,1365.3L1731.6,1381.2M1728.0,1363.9L1724.7,1379.8M1722.3,1312.6L1718.4,1328.4M1725.4,1330.1A489.8,489.8 0 0 1 1711.4,1326.6M1725.4,1330.1L1718.1,1361.7M1721.4,1362.4A522.3,522.3 0 0 1 1714.7,1360.9M1721.4,1362.4L1717.8,1378.3M1714.7,1360.9L1711.0,1376.7M1711.4,1326.6L1707.3,1342.3M1712.1,1343.5A506.0,506.0 0 0 1 1702.5,1341.0M1712.1,1343.5L1704.1,1375.0M1702.5,1341.0L1698.2,1356.7M1701.5,1357.6A522.3,522.3 0 0 1 1694.9,1355.7M1701.5,1357.6L1697.3,1373.2M1694.9,1355.7L1690.5,1371.4M1726.0,1195.6L1691.1,1303.7M1699.2,1306.3A473.6,473.6 0 0 1 1683.0,1301.1M1699.2,1306.3L1685.1,1352.9M1688.4,1353.9A522.3,522.3 0 0 1 1681.9,1351.9M1688.4,1353.9L1683.8,1369.4M1681.9,1351.9L1677.1,1367.4M1683.0,1301.1L1677.8,1316.4M1685.4,1318.9A489.8,489.8 0 0 1 1670.2,1313.8M1685.4,1318.9L1670.3,1365.3M1670.2,1313.8L1664.7,1329.0M1671.0,1331.2A506.0,506.0 0 0 1 1658.5,1326.7M1671.0,1331.2L1665.7,1346.6M1668.9,1347.7A522.3,522.3 0 0 1 1662.4,1345.4M1668.9,1347.7L1663.7,1363.0M1662.4,1345.4L1657.0,1360.7M1658.5,1326.7L1652.8,1341.9M1656.0,1343.1A522.3,522.3 0 0 1 1649.6,1340.7M1656.0,1343.1L1650.4,1358.4M1649.6,1340.7L1643.8,1355.9M1630.6,1041.1L1618.6,1052.1M1647.1,1079.3A295.0,295.0 0 0 1 1594.1,1021.3M1647.1,1079.3L1615.8,1116.6M1633.5,1130.4A343.7,343.7 0 0 1 1599.1,1101.7M1633.5,1130.4L1623.9,1143.5M1640.9,1155.2A360.0,360.0 0 0 1 1607.6,1130.9M1640.9,1155.2L1632.1,1168.9M1659.7,1185.1A376.2,376.2 0 0 1 1605.9,1150.3M1659.7,1185.1L1652.1,1199.5M1681.7,1213.7A392.4,392.4 0 0 1 1623.8,1182.9M1681.7,1213.7L1668.9,1243.5M1676.7,1246.7A424.9,424.9 0 0 1 1661.2,1240.1M1676.7,1246.7L1640.1,1337.0M1643.3,1338.3A522.3,522.3 0 0 1 1637.0,1335.7M1643.3,1338.3L1637.3,1353.3M1637.0,1335.7L1630.8,1350.7M1661.2,1240.1L1654.5,1254.9M1662.6,1258.5A441.1,441.1 0 0 1 1646.4,1251.1M1662.6,1258.5L1624.3,1348.0M1646.4,1251.1L1639.4,1265.8M1648.0,1269.8A457.4,457.4 0 0 1 1630.9,1261.6M1648.0,1269.8L1621.3,1328.9M1624.4,1330.3A522.3,522.3 0 0 1 1618.2,1327.5M1624.4,1330.3L1617.8,1345.1M1618.2,1327.5L1611.4,1342.3M1630.9,1261.6L1623.6,1276.1M1630.2,1279.3A473.6,473.6 0 0 1 1617.0,1272.7M1630.2,1279.3L1608.9,1323.1M1612.0,1324.6A522.3,522.3 0 0 1 1605.9,1321.6M1612.0,1324.6L1605.1,1339.3M1605.9,1321.6L1598.7,1336.2M1617.0,1272.7L1609.5,1287.1M1614.5,1289.7A489.8,489.8 0 0 1 1604.6,1284.5M1614.5,1289.7L1592.4,1333.1M1604.6,1284.5L1596.9,1298.8M1601.3,1301.1A506.0,506.0 0 0 1 1592.5,1296.4M1601.3,1301.1L1586.2,1329.8M1592.5,1296.4L1584.7,1310.6M1587.7,1312.3A522.3,522.3 0 0 1 1581.7,1309.0M1587.7,1312.3L1580.0,1326.5M1581.7,1309.0L1573.8,1323.1M1623.8,1182.9L1615.0,1196.5M1632.5,1207.1A408.7,408.7 0 0 1 1598.1,1185.0M1632.5,1207.1L1567.7,1319.7M1598.1,1185.0L1588.7,1198.2M1594.7,1202.5A424.9,424.9 0 0 1 1582.7,1193.8M1594.7,1202.5L1585.5,1215.8M1593.5,1221.2A441.1,441.1 0 0 1 1577.6,1210.2M1593.5,1221.2L1584.5,1234.7M1596.3,1242.3A457.4,457.4 0 0 1 1573.0,1226.9M1596.3,1242.3L1587.8,1256.1M1594.8,1260.3A473.6,473.6 0 0 1 1580.9,1251.8M1594.8,1260.3L1561.6,1316.1M1580.9,1251.8L1572.2,1265.4M1578.3,1269.3A489.8,489.8 0 0 1 1566.1,1261.5M1578.3,1269.3L1561.2,1296.9M1564.1,1298.6A522.3,522.3 0 0 1 1558.3,1295.0M1564.1,1298.6L1555.6,1312.5M1558.3,1295.0L1549.6,1308.8M1566.1,1261.5L1557.2,1275.0M1561.3,1277.8A506.0,506.0 0 0 1 1553.1,1272.3M1561.3,1277.8L1543.7,1305.0M1553.1,1272.3L1544.0,1285.7M1546.8,1287.6A522.3,522.3 0 0 1 1541.2,1283.8M1546.8,1287.6L1537.8,1301.1M1541.2,1283.8L1532.0,1297.2M1573.0,1226.9L1526.2,1293.2M1577.6,1210.2L1520.5,1289.1M1582.7,1193.8L1514.8,1284.9M1605.9,1150.3L1516.4,1265.7M1519.1,1267.8A522.3,522.3 0 0 1 1513.7,1263.6M1519.1,1267.8L1509.2,1280.7M1513.7,1263.6L1503.7,1276.4M1607.6,1130.9L1514.7,1243.6M1518.5,1246.8A506.0,506.0 0 0 1 1510.9,1240.5M1518.5,1246.8L1498.2,1272.0M1510.9,1240.5L1500.4,1252.9M1503.1,1255.1A522.3,522.3 0 0 1 1497.8,1250.7M1503.1,1255.1L1492.7,1267.6M1497.8,1250.7L1487.3,1263.0M1599.1,1101.7L1531.9,1172.2M1543.9,1183.2A441.1,441.1 0 0 1 1520.4,1160.7M1543.9,1183.2L1490.1,1244.0M1492.7,1246.2A522.3,522.3 0 0 1 1487.6,1241.7M1492.7,1246.2L1482.0,1258.4M1487.6,1241.7L1476.7,1253.8M1520.4,1160.7L1508.7,1172.1M1522.4,1185.5A457.4,457.4 0 0 1 1495.6,1158.0M1522.4,1185.5L1511.3,1197.3M1515.5,1201.3A473.6,473.6 0 0 1 1507.1,1193.3M1515.5,1201.3L1471.5,1249.0M1507.1,1193.3L1495.8,1205.0M1499.8,1208.9A489.8,489.8 0 0 1 1491.8,1201.1M1499.8,1208.9L1466.4,1244.2M1491.8,1201.1L1480.4,1212.6M1483.9,1216.1A506.0,506.0 0 0 1 1476.9,1209.1M1483.9,1216.1L1461.3,1239.4M1476.9,1209.1L1465.3,1220.5M1467.8,1223.0A522.3,522.3 0 0 1 1463.0,1218.1M1467.8,1223.0L1456.3,1234.4M1463.0,1218.1L1451.3,1229.5M1495.6,1158.0L1483.5,1168.8M1491.3,1177.4A473.6,473.6 0 0 1 1475.9,1160.1M1491.3,1177.4L1455.9,1210.7M1458.2,1213.2A522.3,522.3 0 0 1 1453.5,1208.2M1458.2,1213.2L1446.5,1224.4M1453.5,1208.2L1441.6,1219.3M1475.9,1160.1L1463.5,1170.6M1469.8,1177.9A489.8,489.8 0 0 1 1457.4,1163.2M1469.8,1177.9L1457.7,1188.6M1461.0,1192.3A506.0,506.0 0 0 1 1454.4,1184.9M1461.0,1192.3L1436.9,1214.1M1454.4,1184.9L1442.2,1195.5M1444.4,1198.1A522.3,522.3 0 0 1 1439.9,1193.0M1444.4,1198.1L1432.2,1208.8M1439.9,1193.0L1427.6,1203.5M1457.4,1163.2L1444.8,1173.5M1448.0,1177.4A506.0,506.0 0 0 1 1441.7,1169.7M1448.0,1177.4L1423.1,1198.2M1441.7,1169.7L1429.0,1179.8M1431.2,1182.5A522.3,522.3 0 0 1 1426.9,1177.2M1431.2,1182.5L1418.6,1192.7M1426.9,1177.2L1414.2,1187.2M1594.1,1021.3L1580.8,1030.6M1589.8,1043.0A311.3,311.3 0 0 1 1572.3,1017.8M1589.8,1043.0L1409.9,1181.7M1572.3,1017.8L1558.5,1026.4M1572.5,1046.9A327.5,327.5 0 0 1 1546.2,1004.8M1572.5,1046.9L1428.6,1152.6M1431.6,1156.6A506.0,506.0 0 0 1 1425.7,1148.6M1431.6,1156.6L1405.6,1176.1M1425.7,1148.6L1412.5,1158.1M1414.5,1160.9A522.3,522.3 0 0 1 1410.5,1155.3M1414.5,1160.9L1401.4,1170.4M1410.5,1155.3L1397.3,1164.7M1546.2,1004.8L1531.8,1012.3M1552.3,1046.5A343.7,343.7 0 0 1 1515.5,976.1M1552.3,1046.5L1404.7,1146.9M1406.6,1149.8A522.3,522.3 0 0 1 1402.8,1144.1M1406.6,1149.8L1393.3,1159.0M1402.8,1144.1L1389.3,1153.2M1515.5,976.1L1500.3,981.9M1527.6,1038.0A360.0,360.0 0 0 1 1483.1,922.0M1527.6,1038.0L1485.8,1063.0M1494.2,1076.3A408.7,408.7 0 0 1 1478.0,1049.3M1494.2,1076.3L1385.4,1147.3M1478.0,1049.3L1463.8,1057.1M1473.7,1074.4A424.9,424.9 0 0 1 1454.6,1039.5M1473.7,1074.4L1432.2,1099.7M1436.5,1106.6A473.6,473.6 0 0 1 1428.0,1092.8M1436.5,1106.6L1381.6,1141.4M1428.0,1092.8L1414.0,1101.0M1417.7,1107.2A489.8,489.8 0 0 1 1410.4,1094.7M1417.7,1107.2L1389.9,1124.0M1391.7,1126.9A522.3,522.3 0 0 1 1388.2,1121.1M1391.7,1126.9L1377.9,1135.4M1388.2,1121.1L1374.3,1129.4M1410.4,1094.7L1396.3,1102.8M1398.8,1107.1A506.0,506.0 0 0 1 1393.9,1098.4M1398.8,1107.1L1370.7,1123.4M1393.9,1098.4L1379.7,1106.3M1381.3,1109.3A522.3,522.3 0 0 1 1378.0,1103.3M1381.3,1109.3L1367.2,1117.2M1378.0,1103.3L1363.8,1111.1M1454.6,1039.5L1440.0,1046.6M1446.5,1059.3A441.1,441.1 0 0 1 1434.0,1033.6M1446.5,1059.3L1360.5,1104.9M1434.0,1033.6L1419.2,1040.3M1426.1,1055.0A457.4,457.4 0 0 1 1412.8,1025.3M1426.1,1055.0L1396.9,1069.3M1400.5,1076.5A489.8,489.8 0 0 1 1393.5,1062.1M1400.5,1076.5L1357.2,1098.7M1393.5,1062.1L1378.8,1069.0M1381.7,1075.0A506.0,506.0 0 0 1 1376.0,1063.0M1381.7,1075.0L1367.1,1082.1M1368.6,1085.2A522.3,522.3 0 0 1 1365.6,1079.0M1368.6,1085.2L1354.0,1092.4M1365.6,1079.0L1350.9,1086.1M1376.0,1063.0L1361.2,1069.8M1362.7,1072.9A522.3,522.3 0 0 1 1359.8,1066.7M1362.7,1072.9L1347.9,1079.7M1359.8,1066.7L1345.0,1073.3M1412.8,1025.3L1397.7,1031.5M1400.6,1038.2A473.6,473.6 0 0 1 1395.0,1024.6M1400.6,1038.2L1355.7,1057.3M1357.1,1060.4A522.3,522.3 0 0 1 1354.4,1054.1M1357.1,1060.4L1342.2,1066.9M1354.4,1054.1L1339.4,1060.4M1395.0,1024.6L1379.9,1030.5M1382.0,1035.7A489.8,489.8 0 0 1 1377.9,1025.3M1382.0,1035.7L1336.8,1053.9M1377.9,1025.3L1362.7,1031.0M1364.5,1035.6A506.0,506.0 0 0 1 1361.0,1026.4M1364.5,1035.6L1334.2,1047.3M1361.0,1026.4L1345.7,1031.9M1346.9,1035.1A522.3,522.3 0 0 1 1344.6,1028.7M1346.9,1035.1L1331.7,1040.8M1344.6,1028.7L1329.3,1034.2M1483.1,922.0L1467.2,925.1M1478.6,969.3A376.2,376.2 0 0 1 1461.2,879.7M1478.6,969.3L1463.2,974.4M1465.2,980.2A392.4,392.4 0 0 1 1461.4,968.5M1465.2,980.2L1327.0,1027.5M1461.4,968.5L1445.8,973.3M1448.1,980.4A408.7,408.7 0 0 1 1443.7,966.1M1448.1,980.4L1324.7,1020.9M1443.7,966.1L1428.1,970.6M1431.0,980.2A424.9,424.9 0 0 1 1425.5,961.0M1431.0,980.2L1322.6,1014.2M1425.5,961.0L1409.8,965.1M1413.0,976.7A441.1,441.1 0 0 1 1406.9,953.4M1413.0,976.7L1335.1,999.5M1336.1,1002.8A522.3,522.3 0 0 1 1334.2,996.2M1336.1,1002.8L1320.5,1007.4M1334.2,996.2L1318.5,1000.7M1406.9,953.4L1391.1,957.1M1393.8,968.3A457.4,457.4 0 0 1 1388.6,945.8M1393.8,968.3L1346.7,980.6M1348.0,985.4A506.0,506.0 0 0 1 1345.5,975.8M1348.0,985.4L1316.7,993.9M1345.5,975.8L1329.7,979.8M1330.6,983.1A522.3,522.3 0 0 1 1328.9,976.5M1330.6,983.1L1314.9,987.1M1328.9,976.5L1313.2,980.3M1388.6,945.8L1372.7,949.1M1374.8,958.9A473.6,473.6 0 0 1 1370.7,939.2M1374.8,958.9L1311.5,973.4M1370.7,939.2L1354.8,942.2M1356.6,951.6A489.8,489.8 0 0 1 1353.1,932.7M1356.6,951.6L1340.7,954.9M1341.7,959.7A506.0,506.0 0 0 1 1339.7,950.0M1341.7,959.7L1310.0,966.6M1339.7,950.0L1323.8,953.1M1324.5,956.5A522.3,522.3 0 0 1 1323.2,949.8M1324.5,956.5L1308.6,959.7M1323.2,949.8L1307.2,952.8M1353.1,932.7L1337.1,935.4M1337.9,940.3A506.0,506.0 0 0 1 1336.3,930.5M1337.9,940.3L1306.0,945.9M1336.3,930.5L1320.3,933.0M1320.8,936.4A522.3,522.3 0 0 1 1319.8,929.6M1320.8,936.4L1304.8,938.9M1319.8,929.6L1303.7,932.0M1461.2,879.7L1396.4,884.3M1398.6,907.0A441.1,441.1 0 0 1 1395.4,861.6M1398.6,907.0L1350.3,913.0M1351.0,918.5A489.8,489.8 0 0 1 1349.6,907.4M1351.0,918.5L1302.7,925.0M1349.6,907.4L1333.5,909.2M1334.1,914.1A506.0,506.0 0 0 1 1333.0,904.3M1334.1,914.1L1301.8,918.1M1333.0,904.3L1316.8,905.9M1317.2,909.3A522.3,522.3 0 0 1 1316.5,902.5M1317.2,909.3L1301.0,911.1M1316.5,902.5L1300.3,904.1M1395.4,861.6L1379.1,861.9M1379.7,877.0A457.4,457.4 0 0 1 1379.1,846.8M1379.7,877.0L1347.3,878.7M1347.9,888.3A489.8,489.8 0 0 1 1346.9,869.1M1347.9,888.3L1331.7,889.5M1332.1,894.4A506.0,506.0 0 0 1 1331.3,884.5M1332.1,894.4L1299.7,897.1M1331.3,884.5L1315.1,885.5M1315.4,888.9A522.3,522.3 0 0 1 1314.9,882.1M1315.4,888.9L1299.2,890.1M1314.9,882.1L1298.7,883.0M1346.9,869.1L1330.6,869.7M1330.8,874.6A506.0,506.0 0 0 1 1330.5,864.7M1330.8,874.6L1298.4,876.0M1330.5,864.7L1314.3,865.1M1314.4,868.5A522.3,522.3 0 0 1 1314.2,861.7M1314.4,868.5L1298.1,869.0M1314.2,861.7L1298.0,861.9M1379.1,846.8L1362.9,846.6M1362.8,854.7A473.6,473.6 0 0 1 1363.0,838.5M1362.8,854.7L1297.9,854.9M1363.0,838.5L1346.8,838.0M1346.7,845.1A489.8,489.8 0 0 1 1347.1,830.8M1346.7,845.1L1314.2,844.6M1314.2,848.0A522.3,522.3 0 0 1 1314.3,841.2M1314.2,848.0L1297.9,847.9M1314.3,841.2L1298.0,840.9M1347.1,830.8L1330.9,830.0M1330.7,835.0A506.0,506.0 0 0 1 1331.1,825.1M1330.7,835.0L1298.2,833.8M1331.1,825.1L1314.9,824.2M1314.7,827.6A522.3,522.3 0 0 1 1315.1,820.8M1314.7,827.6L1298.5,826.8M1315.1,820.8L1298.9,819.8M1575.4,824.0L1365.7,800.7M1364.9,808.4A473.6,473.6 0 0 1 1366.6,793.0M1364.9,808.4L1332.6,805.3M1332.0,811.9A506.0,506.0 0 0 1 1333.3,798.7M1332.0,811.9L1315.9,810.6M1315.6,814.0A522.3,522.3 0 0 1 1316.1,807.2M1315.6,814.0L1299.4,812.8M1316.1,807.2L1300.0,805.7M1333.3,798.7L1317.1,797.0M1316.8,800.4A522.3,522.3 0 0 1 1317.5,793.6M1316.8,800.4L1300.6,798.7M1317.5,793.6L1301.4,791.8M1366.6,793.0L1302.2,784.8M1595.8,799.9L1405.7,757.8M1401.1,781.8A441.1,441.1 0 0 1 1411.6,734.2M1401.1,781.8L1369.0,776.5M1367.9,783.8A473.6,473.6 0 0 1 1370.3,769.3M1367.9,783.8L1319.7,776.7M1319.2,780.1A522.3,522.3 0 0 1 1320.2,773.3M1319.2,780.1L1303.2,777.8M1320.2,773.3L1304.2,770.8M1370.3,769.3L1354.3,766.4M1353.3,772.0A489.8,489.8 0 0 1 1355.3,760.9M1353.3,772.0L1305.3,763.9M1355.3,760.9L1339.4,757.9M1338.5,762.8A506.0,506.0 0 0 1 1340.3,753.0M1338.5,762.8L1306.5,757.0M1340.3,753.0L1324.4,749.8M1323.8,753.2A522.3,522.3 0 0 1 1325.1,746.5M1323.8,753.2L1307.8,750.1M1325.1,746.5L1309.2,743.2M1411.6,734.2L1396.0,729.8M1392.1,744.4A457.4,457.4 0 0 1 1400.3,715.3M1392.1,744.4L1360.6,736.7M1358.9,743.7A489.8,489.8 0 0 1 1362.4,729.7M1358.9,743.7L1327.3,736.5M1326.5,739.8A522.3,522.3 0 0 1 1328.1,733.2M1326.5,739.8L1310.7,736.3M1328.1,733.2L1312.3,729.4M1362.4,729.7L1346.6,725.7M1345.4,730.5A506.0,506.0 0 0 1 1347.9,720.9M1345.4,730.5L1313.9,722.6M1347.9,720.9L1332.2,716.6M1331.4,719.9A522.3,522.3 0 0 1 1333.1,713.3M1331.4,719.9L1315.7,715.8M1333.1,713.3L1317.5,709.0M1400.3,715.3L1384.8,710.4M1382.6,717.4A473.6,473.6 0 0 1 1387.1,703.4M1382.6,717.4L1336.0,703.5M1335.0,706.8A522.3,522.3 0 0 1 1337.0,700.2M1335.0,706.8L1319.4,702.2M1337.0,700.2L1321.4,695.5M1387.1,703.4L1371.7,698.3M1369.9,703.6A489.8,489.8 0 0 1 1373.5,693.0M1369.9,703.6L1323.5,688.8M1373.5,693.0L1358.1,687.7M1356.5,692.4A506.0,506.0 0 0 1 1359.8,683.0M1356.5,692.4L1325.7,682.1M1359.8,683.0L1344.5,677.6M1343.3,680.8A522.3,522.3 0 0 1 1345.6,674.4M1343.3,680.8L1328.0,675.4M1345.6,674.4L1330.4,668.8M1837.7,817.7L1837.0,835.6" fill="none" stroke-linecap="square"/></defs>
<rect width="2413" height="1438" fill="#fff"/>
<g class="soft">
<line x1="345.4" y1="166" x2="345.4" y2="578" stroke="#4472c4" stroke-width="1.6" stroke-dasharray="6.5,5"/>
<path d="M262.5,161.60000000000002 V579.9000000000001 M261.3,578.7 H1101.6000000000001" stroke="#000" stroke-width="2.6" fill="none"/>
<path d="M253.0,578.7 H262.5 M253.0,495.5 H262.5 M253.0,412.3 H262.5 M253.0,329.2 H262.5 M253.0,246.0 H262.5 M253.0,162.8 H262.5 M355.6,568.7 V578.7 M448.7,568.7 V578.7 M541.8,568.7 V578.7 M634.9,568.7 V578.7 M728.0,568.7 V578.7 M821.1,568.7 V578.7 M914.2,568.7 V578.7 M1007.3,568.7 V578.7 M1100.4,568.7 V578.7" stroke="#000" stroke-width="2.4" fill="none"/>
<path d="M263.7,577.5 L266.5,573.0 L269.0,566.0 L271.0,560.0 L272.5,552.5 L274.5,538.7 L276.7,501.7 L278.5,441.2 L280.5,385.0 L282.5,353.7 L283.7,326.7 L285.7,310.0 L287.5,284.2 L289.2,267.5 L291.2,253.2 L293.0,241.2 L294.6,232.0 L296.0,226.0 L297.6,221.0 L299.5,216.5 L301.5,213.0 L304.0,209.0 L306.0,205.0 L308.0,201.0 L310.0,197.0 L312.5,192.8 L315.0,190.0 L318.0,187.0 L321.0,184.3 L325.0,181.0 L329.0,177.8 L333.0,174.5 L337.0,171.3 L341.0,168.0 L345.0,164.8 L349.0,161.6 L1053,161.6" stroke="#5b9bd5" stroke-width="5" fill="none" stroke-linejoin="round" stroke-linecap="round"/>
<circle cx="263.7" cy="577.5" r="5.6" fill="#5b9bd5"/>
<circle cx="266.5" cy="573.0" r="5.6" fill="#5b9bd5"/>
<circle cx="269.0" cy="566.0" r="5.6" fill="#5b9bd5"/>
<circle cx="271.0" cy="560.0" r="5.6" fill="#5b9bd5"/>
<circle cx="272.5" cy="552.5" r="5.6" fill="#5b9bd5"/>
<circle cx="274.5" cy="538.7" r="5.6" fill="#5b9bd5"/>
<circle cx="276.7" cy="501.7" r="5.6" fill="#5b9bd5"/>
<circle cx="278.5" cy="441.2" r="5.6" fill="#5b9bd5"/>
<circle cx="280.5" cy="385.0" r="5.6" fill="#5b9bd5"/>
<circle cx="282.5" cy="353.7" r="5.6" fill="#5b9bd5"/>
<circle cx="283.7" cy="326.7" r="5.6" fill="#5b9bd5"/>
<circle cx="285.7" cy="310.0" r="5.6" fill="#5b9bd5"/>
<circle cx="287.5" cy="284.2" r="5.6" fill="#5b9bd5"/>
<circle cx="289.2" cy="267.5" r="5.6" fill="#5b9bd5"/>
<circle cx="291.2" cy="253.2" r="5.6" fill="#5b9bd5"/>
<circle cx="293.0" cy="241.2" r="5.6" fill="#5b9bd5"/>
<circle cx="294.6" cy="232.0" r="5.6" fill="#5b9bd5"/>
<circle cx="296.0" cy="226.0" r="5.6" fill="#5b9bd5"/>
<circle cx="297.6" cy="221.0" r="5.6" fill="#5b9bd5"/>
<circle cx="299.5" cy="216.5" r="5.6" fill="#5b9bd5"/>
<circle cx="301.5" cy="213.0" r="5.6" fill="#5b9bd5"/>
<circle cx="304.0" cy="209.0" r="5.6" fill="#5b9bd5"/>
<path d="M294.6,232.0 L296.0,226.0 L297.6,221.0 L299.5,216.5 L301.5,213.0 L304.0,209.0 L306.0,205.0 L308.0,201.0 L310.0,197.0 L312.5,192.8 L315.0,190.0 L318.0,187.0 L321.0,184.3 L325.0,181.0 L329.0,177.8 L333.0,174.5 L337.0,171.3 L341.0,168.0 L345.0,164.8 L349.0,161.6 L1053,161.6" stroke="#5b9bd5" stroke-width="12.6" fill="none" stroke-linejoin="round" stroke-linecap="round"/>
<text x="208.0" y="588.0" font-size="25" font-weight="bold" fill="#000" textLength="37.5" lengthAdjust="spacingAndGlyphs" stroke="#000" stroke-width="0.85" stroke-linejoin="round">0%</text>
<text x="194.0" y="504.8" font-size="25" font-weight="bold" fill="#000" textLength="51.5" lengthAdjust="spacingAndGlyphs" stroke="#000" stroke-width="0.85" stroke-linejoin="round">20%</text>
<text x="194.0" y="421.6" font-size="25" font-weight="bold" fill="#000" textLength="51.5" lengthAdjust="spacingAndGlyphs" stroke="#000" stroke-width="0.85" stroke-linejoin="round">40%</text>
<text x="194.0" y="338.4" font-size="25" font-weight="bold" fill="#000" textLength="51.5" lengthAdjust="spacingAndGlyphs" stroke="#000" stroke-width="0.85" stroke-linejoin="round">60%</text>
<text x="194.0" y="255.2" font-size="25" font-weight="bold" fill="#000" textLength="51.5" lengthAdjust="spacingAndGlyphs" stroke="#000" stroke-width="0.85" stroke-linejoin="round">80%</text>
<text x="177.5" y="172.1" font-size="25" font-weight="bold" fill="#000" textLength="68.0" lengthAdjust="spacingAndGlyphs" stroke="#000" stroke-width="0.85" stroke-linejoin="round">100%</text>
<text x="254.2" y="619.2" font-size="25" font-weight="bold" fill="#000" textLength="15.5" lengthAdjust="spacingAndGlyphs" stroke="#000" stroke-width="0.85" stroke-linejoin="round">0</text>
<text x="339.9" y="619.2" font-size="25" font-weight="bold" fill="#000" textLength="30.5" lengthAdjust="spacingAndGlyphs" stroke="#000" stroke-width="0.85" stroke-linejoin="round">50</text>
<text x="425.5" y="619.2" font-size="25" font-weight="bold" fill="#000" textLength="45.5" lengthAdjust="spacingAndGlyphs" stroke="#000" stroke-width="0.85" stroke-linejoin="round">100</text>
<text x="518.5" y="619.2" font-size="25" font-weight="bold" fill="#000" textLength="45.5" lengthAdjust="spacingAndGlyphs" stroke="#000" stroke-width="0.85" stroke-linejoin="round">150</text>
<text x="611.7" y="619.2" font-size="25" font-weight="bold" fill="#000" textLength="45.5" lengthAdjust="spacingAndGlyphs" stroke="#000" stroke-width="0.85" stroke-linejoin="round">200</text>
<text x="704.8" y="619.2" font-size="25" font-weight="bold" fill="#000" textLength="45.5" lengthAdjust="spacingAndGlyphs" stroke="#000" stroke-width="0.85" stroke-linejoin="round">250</text>
<text x="797.9" y="619.2" font-size="25" font-weight="bold" fill="#000" textLength="45.5" lengthAdjust="spacingAndGlyphs" stroke="#000" stroke-width="0.85" stroke-linejoin="round">300</text>
<text x="891.0" y="619.2" font-size="25" font-weight="bold" fill="#000" textLength="45.5" lengthAdjust="spacingAndGlyphs" stroke="#000" stroke-width="0.85" stroke-linejoin="round">350</text>
<text x="984.1" y="619.2" font-size="25" font-weight="bold" fill="#000" textLength="45.5" lengthAdjust="spacingAndGlyphs" stroke="#000" stroke-width="0.85" stroke-linejoin="round">400</text>
<text x="1077.2" y="619.2" font-size="25" font-weight="bold" fill="#000" textLength="45.5" lengthAdjust="spacingAndGlyphs" stroke="#000" stroke-width="0.85" stroke-linejoin="round">450</text>
<text x="597.5" y="665.3" font-size="28" font-weight="bold" fill="#000" textLength="167.0" lengthAdjust="spacingAndGlyphs" stroke="#000" stroke-width="0.85" stroke-linejoin="round">No. of SNPs</text>
<text x="160.3" y="455.2" font-size="28" font-weight="bold" fill="#000" textLength="171.5" lengthAdjust="spacingAndGlyphs" transform="rotate(-90 160.3 455.2)" stroke="#000" stroke-width="0.85" stroke-linejoin="round">Saturations</text>
<path d="M275.8,747.7 V1271.0 M265.8,1271.0 H1091.6 M1091.6,747.7 V1272.3" stroke="#111" stroke-width="2.8" fill="none"/>
<path d="M265.8,1213.0 H275.8 M265.8,1155.0 H275.8 M265.8,1097.0 H275.8 M265.8,1039.0 H275.8 M265.8,981.0 H275.8 M265.8,923.0 H275.8 M265.8,865.0 H275.8 M265.8,807.0 H275.8 M265.8,749.0 H275.8" stroke="#111" stroke-width="2.6" fill="none"/>
<path d="M275.8,1271.0 L293.2,1266.0 L310.5,1271.0 L327.9,1273.0 L345.2,1272.0 L362.6,1269.0 L379.9,1260.5 L397.3,1252.4 L414.7,1240.0 L432.0,1223.5 L449.4,1198.6 L466.7,1176.2 L484.1,1139.3 L501.4,1095.4 L518.8,1050.8 L536.2,994.3 L553.5,936.1 L570.9,886.9 L588.2,844.0 L605.6,823.9 L622.9,803.0 L640.3,805.9 L657.7,800.9 L675.0,812.6 L692.4,840.6 L709.7,859.3 L727.1,897.2 L744.5,937.7 L761.8,980.2 L779.2,1041.0 L796.5,1092.9 L813.9,1136.0 L831.2,1182.0 L848.6,1219.0 L866.0,1242.5 L883.3,1252.5 L900.7,1261.5 L918.0,1267.0 L935.4,1270.9 L952.7,1270.9" stroke="#5b9bd5" stroke-width="3.6" fill="none" stroke-linejoin="round"/>
<path d="M269.6,1271.0 L275.8,1264.8 L282.0,1271.0 L275.8,1277.2Z M287.0,1266.0 L293.2,1259.8 L299.4,1266.0 L293.2,1272.2Z M304.3,1271.0 L310.5,1264.8 L316.7,1271.0 L310.5,1277.2Z M321.7,1273.0 L327.9,1266.8 L334.1,1273.0 L327.9,1279.2Z M339.0,1272.0 L345.2,1265.8 L351.4,1272.0 L345.2,1278.2Z M356.4,1269.0 L362.6,1262.8 L368.8,1269.0 L362.6,1275.2Z M373.7,1260.5 L379.9,1254.3 L386.1,1260.5 L379.9,1266.7Z M391.1,1252.4 L397.3,1246.2 L403.5,1252.4 L397.3,1258.6Z M408.5,1240.0 L414.7,1233.8 L420.9,1240.0 L414.7,1246.2Z M425.8,1223.5 L432.0,1217.3 L438.2,1223.5 L432.0,1229.7Z M443.2,1198.6 L449.4,1192.4 L455.6,1198.6 L449.4,1204.8Z M460.5,1176.2 L466.7,1170.0 L472.9,1176.2 L466.7,1182.4Z M477.9,1139.3 L484.1,1133.1 L490.3,1139.3 L484.1,1145.5Z M495.2,1095.4 L501.4,1089.2 L507.6,1095.4 L501.4,1101.6Z M512.6,1050.8 L518.8,1044.6 L525.0,1050.8 L518.8,1057.0Z M530.0,994.3 L536.2,988.1 L542.4,994.3 L536.2,1000.5Z M547.3,936.1 L553.5,929.9 L559.7,936.1 L553.5,942.3Z M564.7,886.9 L570.9,880.7 L577.1,886.9 L570.9,893.1Z M582.0,844.0 L588.2,837.8 L594.4,844.0 L588.2,850.2Z M599.4,823.9 L605.6,817.7 L611.8,823.9 L605.6,830.1Z M616.7,803.0 L622.9,796.8 L629.1,803.0 L622.9,809.2Z M634.1,805.9 L640.3,799.7 L646.5,805.9 L640.3,812.1Z M651.5,800.9 L657.7,794.7 L663.9,800.9 L657.7,807.1Z M668.8,812.6 L675.0,806.4 L681.2,812.6 L675.0,818.8Z M686.2,840.6 L692.4,834.4 L698.6,840.6 L692.4,846.8Z M703.5,859.3 L709.7,853.1 L715.9,859.3 L709.7,865.5Z M720.9,897.2 L727.1,891.0 L733.3,897.2 L727.1,903.4Z M738.3,937.7 L744.5,931.5 L750.7,937.7 L744.5,943.9Z M755.6,980.2 L761.8,974.0 L768.0,980.2 L761.8,986.4Z M773.0,1041.0 L779.2,1034.8 L785.4,1041.0 L779.2,1047.2Z M790.3,1092.9 L796.5,1086.7 L802.7,1092.9 L796.5,1099.1Z M807.7,1136.0 L813.9,1129.8 L820.1,1136.0 L813.9,1142.2Z M825.0,1182.0 L831.2,1175.8 L837.4,1182.0 L831.2,1188.2Z M842.4,1219.0 L848.6,1212.8 L854.8,1219.0 L848.6,1225.2Z M859.8,1242.5 L866.0,1236.3 L872.2,1242.5 L866.0,1248.7Z M877.1,1252.5 L883.3,1246.3 L889.5,1252.5 L883.3,1258.7Z M894.5,1261.5 L900.7,1255.3 L906.9,1261.5 L900.7,1267.7Z M911.8,1267.0 L918.0,1260.8 L924.2,1267.0 L918.0,1273.2Z M929.2,1270.9 L935.4,1264.7 L941.6,1270.9 L935.4,1277.1Z M946.5,1270.9 L952.7,1264.7 L958.9,1270.9 L952.7,1277.1Z" fill="#7a9fd6"/>
<path d="M275.8,1262.9 L278.5,1262.8 L281.2,1265.8 L283.9,1266.7 L286.6,1267.5 L289.3,1268.4 L292.0,1269.1 L294.6,1269.3 L297.3,1269.6 L300.0,1269.8 L302.7,1269.8 L305.4,1268.9 L308.1,1268.0 L310.8,1267.1 L313.5,1266.2 L316.2,1265.8 L318.9,1265.6 L321.6,1265.4 L324.3,1265.2 L327.0,1265.9 L329.6,1262.1 L332.3,1264.8 L335.0,1263.2 L337.7,1260.7 L340.4,1263.0 L343.1,1259.4 L345.8,1261.4 L348.5,1258.4 L351.2,1257.4 L353.9,1258.0 L356.6,1259.2 L359.3,1252.1 L362.0,1251.1 L364.6,1252.8 L367.3,1254.4 L370.0,1250.3 L372.7,1247.8 L375.4,1251.8 L378.1,1241.9 L380.8,1246.8 L383.5,1239.1 L386.2,1235.1 L388.9,1232.3 L391.6,1231.9 L394.3,1235.0 L397.0,1226.0 L399.7,1228.1 L402.3,1226.5 L405.0,1221.4 L407.7,1222.0 L410.4,1215.7 L413.1,1214.8 L415.8,1215.7 L418.5,1220.4 L421.2,1216.7 L423.9,1214.5 L426.6,1216.8 L429.3,1214.4 L432.0,1211.6 L434.7,1216.7 L437.3,1212.8 L440.0,1204.2 L442.7,1205.4 L445.4,1205.2 L448.1,1213.2 L450.8,1213.3 L453.5,1206.3 L456.2,1213.3 L458.9,1200.8 L461.6,1204.7 L464.3,1210.1 L467.0,1203.7 L469.7,1207.5 L472.3,1196.0 L475.0,1198.6 L477.7,1194.3 L480.4,1186.8 L483.1,1186.9 L485.8,1174.3 L488.5,1175.7 L491.2,1171.4 L493.9,1169.5 L496.6,1165.8 L499.3,1170.1 L502.0,1170.0 L504.7,1156.0 L507.3,1152.5 L510.0,1135.7 L512.7,1139.5 L515.4,1131.3 L518.1,1130.4 L520.8,1122.3 L523.5,1108.2 L526.2,1106.0 L528.9,1107.4 L531.6,1084.6 L534.3,1083.0 L537.0,1066.5 L539.7,1062.9 L542.3,1061.7 L545.0,1076.6 L547.7,1055.9 L550.4,1047.2 L553.1,1039.2 L555.8,1045.1 L558.5,1025.0 L561.2,1029.3 L563.9,1020.3 L566.6,1017.0 L569.3,1004.8 L572.0,995.0 L574.7,970.5 L577.3,965.8 L580.0,956.2 L582.7,961.5 L585.4,955.8 L588.1,930.9 L590.8,928.4 L593.5,926.7 L596.2,919.1 L598.9,918.4 L601.6,912.9 L604.3,895.1 L607.0,879.4 L609.7,887.9 L612.4,883.0 L615.0,885.2 L617.7,895.9 L620.4,892.5 L623.1,891.8 L625.8,886.6 L628.5,878.0 L631.2,850.9 L633.9,870.4 L636.6,860.8 L639.3,856.5 L642.0,849.7 L644.7,844.0 L647.4,849.9 L650.0,840.9 L652.7,857.1 L655.4,839.6 L658.1,845.8 L660.8,861.1 L663.5,865.6 L666.2,876.8 L668.9,871.9 L671.6,873.1 L674.3,880.2 L677.0,881.5 L679.7,892.4 L682.4,885.9 L685.0,911.6 L687.7,904.0 L690.4,890.5 L693.1,893.3 L695.8,895.9 L698.5,896.2 L701.2,889.4 L703.9,910.8 L706.6,915.4 L709.3,900.9 L712.0,908.1 L714.7,905.9 L717.4,914.7 L720.0,928.7 L722.7,934.0 L725.4,959.0 L728.1,952.7 L730.8,960.2 L733.5,994.5 L736.2,994.4 L738.9,993.8 L741.6,1012.2 L744.3,1007.5 L747.0,1015.8 L749.7,1023.1 L752.4,1016.9 L755.0,1037.3 L757.7,1039.8 L760.4,1047.0 L763.1,1047.5 L765.8,1065.3 L768.5,1063.7 L771.2,1072.6 L773.9,1066.6 L776.6,1068.0 L779.3,1083.9 L782.0,1093.3 L784.7,1096.9 L787.4,1102.2 L790.1,1108.7 L792.7,1113.1 L795.4,1108.7 L798.1,1119.6 L800.8,1122.0 L803.5,1118.2 L806.2,1120.1 L808.9,1126.4 L811.6,1127.9 L814.3,1140.1 L817.0,1151.2 L819.7,1149.3 L822.4,1163.7 L825.1,1169.1 L827.7,1173.2 L830.4,1168.7 L833.1,1172.4 L835.8,1179.3 L838.5,1185.6 L841.2,1192.5 L843.9,1204.0 L846.6,1213.2 L849.3,1218.2 L852.0,1217.7 L854.7,1221.5 L857.4,1225.0 L860.1,1218.8 L862.7,1227.8 L865.4,1238.6 L868.1,1245.4 L870.8,1250.4 L873.5,1250.5 L876.2,1250.6 L878.9,1257.8 L881.6,1256.8 L884.3,1262.4 L887.0,1265.1 L889.7,1262.9 L892.4,1265.2 L895.1,1266.8 L897.7,1268.4 L900.4,1268.9 L903.1,1269.3 L905.8,1269.7 L908.5,1270.1 L911.2,1270.5 L913.9,1270.9 L916.6,1271.2 L919.3,1271.6" stroke="#ffd966" stroke-width="2.2" fill="none" stroke-linejoin="round"/>
<path d="M272.1,1259.2h7.4v7.4h-7.4z M274.8,1259.1h7.4v7.4h-7.4z M277.5,1262.1h7.4v7.4h-7.4z M280.2,1263.0h7.4v7.4h-7.4z M282.9,1263.8h7.4v7.4h-7.4z M285.6,1264.7h7.4v7.4h-7.4z M288.3,1265.4h7.4v7.4h-7.4z M290.9,1265.6h7.4v7.4h-7.4z M293.6,1265.9h7.4v7.4h-7.4z M296.3,1266.1h7.4v7.4h-7.4z M299.0,1266.1h7.4v7.4h-7.4z M301.7,1265.2h7.4v7.4h-7.4z M304.4,1264.3h7.4v7.4h-7.4z M307.1,1263.4h7.4v7.4h-7.4z M309.8,1262.5h7.4v7.4h-7.4z M312.5,1262.1h7.4v7.4h-7.4z M315.2,1261.9h7.4v7.4h-7.4z M317.9,1261.7h7.4v7.4h-7.4z M320.6,1261.5h7.4v7.4h-7.4z M323.3,1262.2h7.4v7.4h-7.4z M325.9,1258.4h7.4v7.4h-7.4z M328.6,1261.1h7.4v7.4h-7.4z M331.3,1259.5h7.4v7.4h-7.4z M334.0,1257.0h7.4v7.4h-7.4z M336.7,1259.3h7.4v7.4h-7.4z M339.4,1255.7h7.4v7.4h-7.4z M342.1,1257.7h7.4v7.4h-7.4z M344.8,1254.7h7.4v7.4h-7.4z M347.5,1253.7h7.4v7.4h-7.4z M350.2,1254.3h7.4v7.4h-7.4z M352.9,1255.5h7.4v7.4h-7.4z M355.6,1248.4h7.4v7.4h-7.4z M358.3,1247.4h7.4v7.4h-7.4z M360.9,1249.1h7.4v7.4h-7.4z M363.6,1250.7h7.4v7.4h-7.4z M366.3,1246.6h7.4v7.4h-7.4z M369.0,1244.1h7.4v7.4h-7.4z M371.7,1248.1h7.4v7.4h-7.4z M374.4,1238.2h7.4v7.4h-7.4z M377.1,1243.1h7.4v7.4h-7.4z M379.8,1235.4h7.4v7.4h-7.4z M382.5,1231.4h7.4v7.4h-7.4z M385.2,1228.6h7.4v7.4h-7.4z M387.9,1228.2h7.4v7.4h-7.4z M390.6,1231.3h7.4v7.4h-7.4z M393.3,1222.3h7.4v7.4h-7.4z M396.0,1224.4h7.4v7.4h-7.4z M398.6,1222.8h7.4v7.4h-7.4z M401.3,1217.7h7.4v7.4h-7.4z M404.0,1218.3h7.4v7.4h-7.4z M406.7,1212.0h7.4v7.4h-7.4z M409.4,1211.1h7.4v7.4h-7.4z M412.1,1212.0h7.4v7.4h-7.4z M414.8,1216.7h7.4v7.4h-7.4z M417.5,1213.0h7.4v7.4h-7.4z M420.2,1210.8h7.4v7.4h-7.4z M422.9,1213.1h7.4v7.4h-7.4z M425.6,1210.7h7.4v7.4h-7.4z M428.3,1207.9h7.4v7.4h-7.4z M431.0,1213.0h7.4v7.4h-7.4z M433.6,1209.1h7.4v7.4h-7.4z M436.3,1200.5h7.4v7.4h-7.4z M439.0,1201.7h7.4v7.4h-7.4z M441.7,1201.5h7.4v7.4h-7.4z M444.4,1209.5h7.4v7.4h-7.4z M447.1,1209.6h7.4v7.4h-7.4z M449.8,1202.6h7.4v7.4h-7.4z M452.5,1209.6h7.4v7.4h-7.4z M455.2,1197.1h7.4v7.4h-7.4z M457.9,1201.0h7.4v7.4h-7.4z M460.6,1206.4h7.4v7.4h-7.4z M463.3,1200.0h7.4v7.4h-7.4z M466.0,1203.8h7.4v7.4h-7.4z M468.6,1192.3h7.4v7.4h-7.4z M471.3,1194.9h7.4v7.4h-7.4z M474.0,1190.6h7.4v7.4h-7.4z M476.7,1183.1h7.4v7.4h-7.4z M479.4,1183.2h7.4v7.4h-7.4z M482.1,1170.6h7.4v7.4h-7.4z M484.8,1172.0h7.4v7.4h-7.4z M487.5,1167.7h7.4v7.4h-7.4z M490.2,1165.8h7.4v7.4h-7.4z M492.9,1162.1h7.4v7.4h-7.4z M495.6,1166.4h7.4v7.4h-7.4z M498.3,1166.3h7.4v7.4h-7.4z M501.0,1152.3h7.4v7.4h-7.4z M503.6,1148.8h7.4v7.4h-7.4z M506.3,1132.0h7.4v7.4h-7.4z M509.0,1135.8h7.4v7.4h-7.4z M511.7,1127.6h7.4v7.4h-7.4z M514.4,1126.7h7.4v7.4h-7.4z M517.1,1118.6h7.4v7.4h-7.4z M519.8,1104.5h7.4v7.4h-7.4z M522.5,1102.3h7.4v7.4h-7.4z M525.2,1103.7h7.4v7.4h-7.4z M527.9,1080.9h7.4v7.4h-7.4z M530.6,1079.3h7.4v7.4h-7.4z M533.3,1062.8h7.4v7.4h-7.4z M536.0,1059.2h7.4v7.4h-7.4z M538.6,1058.0h7.4v7.4h-7.4z M541.3,1072.9h7.4v7.4h-7.4z M544.0,1052.2h7.4v7.4h-7.4z M546.7,1043.5h7.4v7.4h-7.4z M549.4,1035.5h7.4v7.4h-7.4z M552.1,1041.4h7.4v7.4h-7.4z M554.8,1021.3h7.4v7.4h-7.4z M557.5,1025.6h7.4v7.4h-7.4z M560.2,1016.6h7.4v7.4h-7.4z M562.9,1013.3h7.4v7.4h-7.4z M565.6,1001.1h7.4v7.4h-7.4z M568.3,991.3h7.4v7.4h-7.4z M571.0,966.8h7.4v7.4h-7.4z M573.6,962.1h7.4v7.4h-7.4z M576.3,952.5h7.4v7.4h-7.4z M579.0,957.8h7.4v7.4h-7.4z M581.7,952.1h7.4v7.4h-7.4z M584.4,927.2h7.4v7.4h-7.4z M587.1,924.7h7.4v7.4h-7.4z M589.8,923.0h7.4v7.4h-7.4z M592.5,915.4h7.4v7.4h-7.4z M595.2,914.7h7.4v7.4h-7.4z M597.9,909.2h7.4v7.4h-7.4z M600.6,891.4h7.4v7.4h-7.4z M603.3,875.7h7.4v7.4h-7.4z M606.0,884.2h7.4v7.4h-7.4z M608.7,879.3h7.4v7.4h-7.4z M611.3,881.5h7.4v7.4h-7.4z M614.0,892.2h7.4v7.4h-7.4z M616.7,888.8h7.4v7.4h-7.4z M619.4,888.1h7.4v7.4h-7.4z M622.1,882.9h7.4v7.4h-7.4z M624.8,874.3h7.4v7.4h-7.4z M627.5,847.2h7.4v7.4h-7.4z M630.2,866.7h7.4v7.4h-7.4z M632.9,857.1h7.4v7.4h-7.4z M635.6,852.8h7.4v7.4h-7.4z M638.3,846.0h7.4v7.4h-7.4z M641.0,840.3h7.4v7.4h-7.4z M643.7,846.2h7.4v7.4h-7.4z M646.3,837.2h7.4v7.4h-7.4z M649.0,853.4h7.4v7.4h-7.4z M651.7,835.9h7.4v7.4h-7.4z M654.4,842.1h7.4v7.4h-7.4z M657.1,857.4h7.4v7.4h-7.4z M659.8,861.9h7.4v7.4h-7.4z M662.5,873.1h7.4v7.4h-7.4z M665.2,868.2h7.4v7.4h-7.4z M667.9,869.4h7.4v7.4h-7.4z M670.6,876.5h7.4v7.4h-7.4z M673.3,877.8h7.4v7.4h-7.4z M676.0,888.7h7.4v7.4h-7.4z M678.7,882.2h7.4v7.4h-7.4z M681.3,907.9h7.4v7.4h-7.4z M684.0,900.3h7.4v7.4h-7.4z M686.7,886.8h7.4v7.4h-7.4z M689.4,889.6h7.4v7.4h-7.4z M692.1,892.2h7.4v7.4h-7.4z M694.8,892.5h7.4v7.4h-7.4z M697.5,885.7h7.4v7.4h-7.4z M700.2,907.1h7.4v7.4h-7.4z M702.9,911.7h7.4v7.4h-7.4z M705.6,897.2h7.4v7.4h-7.4z M708.3,904.4h7.4v7.4h-7.4z M711.0,902.2h7.4v7.4h-7.4z M713.7,911.0h7.4v7.4h-7.4z M716.3,925.0h7.4v7.4h-7.4z M719.0,930.3h7.4v7.4h-7.4z M721.7,955.3h7.4v7.4h-7.4z M724.4,949.0h7.4v7.4h-7.4z M727.1,956.5h7.4v7.4h-7.4z M729.8,990.8h7.4v7.4h-7.4z M732.5,990.7h7.4v7.4h-7.4z M735.2,990.1h7.4v7.4h-7.4z M737.9,1008.5h7.4v7.4h-7.4z M740.6,1003.8h7.4v7.4h-7.4z M743.3,1012.1h7.4v7.4h-7.4z M746.0,1019.4h7.4v7.4h-7.4z M748.7,1013.2h7.4v7.4h-7.4z M751.3,1033.6h7.4v7.4h-7.4z M754.0,1036.1h7.4v7.4h-7.4z M756.7,1043.3h7.4v7.4h-7.4z M759.4,1043.8h7.4v7.4h-7.4z M762.1,1061.6h7.4v7.4h-7.4z M764.8,1060.0h7.4v7.4h-7.4z M767.5,1068.9h7.4v7.4h-7.4z M770.2,1062.9h7.4v7.4h-7.4z M772.9,1064.3h7.4v7.4h-7.4z M775.6,1080.2h7.4v7.4h-7.4z M778.3,1089.6h7.4v7.4h-7.4z M781.0,1093.2h7.4v7.4h-7.4z M783.7,1098.5h7.4v7.4h-7.4z M786.4,1105.0h7.4v7.4h-7.4z M789.0,1109.4h7.4v7.4h-7.4z M791.7,1105.0h7.4v7.4h-7.4z M794.4,1115.9h7.4v7.4h-7.4z M797.1,1118.3h7.4v7.4h-7.4z M799.8,1114.5h7.4v7.4h-7.4z M802.5,1116.4h7.4v7.4h-7.4z M805.2,1122.7h7.4v7.4h-7.4z M807.9,1124.2h7.4v7.4h-7.4z M810.6,1136.4h7.4v7.4h-7.4z M813.3,1147.5h7.4v7.4h-7.4z M816.0,1145.6h7.4v7.4h-7.4z M818.7,1160.0h7.4v7.4h-7.4z M821.4,1165.4h7.4v7.4h-7.4z M824.0,1169.5h7.4v7.4h-7.4z M826.7,1165.0h7.4v7.4h-7.4z M829.4,1168.7h7.4v7.4h-7.4z M832.1,1175.6h7.4v7.4h-7.4z M834.8,1181.9h7.4v7.4h-7.4z M837.5,1188.8h7.4v7.4h-7.4z M840.2,1200.3h7.4v7.4h-7.4z M842.9,1209.5h7.4v7.4h-7.4z M845.6,1214.5h7.4v7.4h-7.4z M848.3,1214.0h7.4v7.4h-7.4z M851.0,1217.8h7.4v7.4h-7.4z M853.7,1221.3h7.4v7.4h-7.4z M856.4,1215.1h7.4v7.4h-7.4z M859.0,1224.1h7.4v7.4h-7.4z M861.7,1234.9h7.4v7.4h-7.4z M864.4,1241.7h7.4v7.4h-7.4z M867.1,1246.7h7.4v7.4h-7.4z M869.8,1246.8h7.4v7.4h-7.4z M872.5,1246.9h7.4v7.4h-7.4z M875.2,1254.1h7.4v7.4h-7.4z M877.9,1253.1h7.4v7.4h-7.4z M880.6,1258.7h7.4v7.4h-7.4z M883.3,1261.4h7.4v7.4h-7.4z M886.0,1259.2h7.4v7.4h-7.4z M888.7,1261.5h7.4v7.4h-7.4z M891.4,1263.1h7.4v7.4h-7.4z M894.0,1264.7h7.4v7.4h-7.4z M896.7,1265.2h7.4v7.4h-7.4z M899.4,1265.6h7.4v7.4h-7.4z M902.1,1266.0h7.4v7.4h-7.4z M904.8,1266.4h7.4v7.4h-7.4z M907.5,1266.8h7.4v7.4h-7.4z M910.2,1267.2h7.4v7.4h-7.4z M912.9,1267.5h7.4v7.4h-7.4z M915.6,1267.9h7.4v7.4h-7.4z" fill="#ffe08a" stroke="#ffd966" stroke-width="2" stroke-linejoin="round"/>
<path d="M789,774.3 H845" stroke="#5b9bd5" stroke-width="3.6"/>
<path d="M810.3,774.3 L817,767.6 L823.7,774.3 L817,781 Z" fill="#7a9fd6"/>
<path d="M789,825.3 H845" stroke="#ffd966" stroke-width="2.6"/>
<rect x="813" y="821.3" width="8" height="8" fill="#ffe08a" stroke="#ffd966" stroke-width="2"/>
<text x="853.5" y="783.9" font-size="25.5" font-weight="bold" fill="#000" textLength="188.0" lengthAdjust="spacingAndGlyphs" stroke="#000" stroke-width="1.0" stroke-linejoin="round">Perfect SNPs</text>
<text x="853.5" y="836.1" font-size="25.5" font-weight="bold" fill="#000" textLength="150.5" lengthAdjust="spacingAndGlyphs" stroke="#000" stroke-width="1.0" stroke-linejoin="round">Core-SNPs</text>
<text x="240.8" y="1279.0" font-size="24.5" font-weight="bold" fill="#000" textLength="16.5" lengthAdjust="spacingAndGlyphs" stroke="#000" stroke-width="1.0" stroke-linejoin="round">0</text>
<text x="188.8" y="1221.0" font-size="24.5" font-weight="bold" fill="#000" textLength="68.5" lengthAdjust="spacingAndGlyphs" stroke="#000" stroke-width="1.0" stroke-linejoin="round">1000</text>
<text x="188.8" y="1163.0" font-size="24.5" font-weight="bold" fill="#000" textLength="68.5" lengthAdjust="spacingAndGlyphs" stroke="#000" stroke-width="1.0" stroke-linejoin="round">2000</text>
<text x="188.8" y="1105.0" font-size="24.5" font-weight="bold" fill="#000" textLength="68.5" lengthAdjust="spacingAndGlyphs" stroke="#000" stroke-width="1.0" stroke-linejoin="round">3000</text>
<text x="188.8" y="1047.0" font-size="24.5" font-weight="bold" fill="#000" textLength="68.5" lengthAdjust="spacingAndGlyphs" stroke="#000" stroke-width="1.0" stroke-linejoin="round">4000</text>
<text x="188.8" y="989.0" font-size="24.5" font-weight="bold" fill="#000" textLength="68.5" lengthAdjust="spacingAndGlyphs" stroke="#000" stroke-width="1.0" stroke-linejoin="round">5000</text>
<text x="188.8" y="931.0" font-size="24.5" font-weight="bold" fill="#000" textLength="68.5" lengthAdjust="spacingAndGlyphs" stroke="#000" stroke-width="1.0" stroke-linejoin="round">6000</text>
<text x="188.8" y="873.0" font-size="24.5" font-weight="bold" fill="#000" textLength="68.5" lengthAdjust="spacingAndGlyphs" stroke="#000" stroke-width="1.0" stroke-linejoin="round">7000</text>
<text x="188.8" y="815.0" font-size="24.5" font-weight="bold" fill="#000" textLength="68.5" lengthAdjust="spacingAndGlyphs" stroke="#000" stroke-width="1.0" stroke-linejoin="round">8000</text>
<text x="188.8" y="757.0" font-size="24.5" font-weight="bold" fill="#000" textLength="68.5" lengthAdjust="spacingAndGlyphs" stroke="#000" stroke-width="1.0" stroke-linejoin="round">9000</text>
<text x="1108.0" y="1281.7" font-size="27" font-weight="bold" fill="#000" textLength="17.5" lengthAdjust="spacingAndGlyphs" stroke="#000" stroke-width="1.0" stroke-linejoin="round">0</text>
<text x="1108.0" y="1194.4" font-size="27" font-weight="bold" fill="#000" textLength="53.0" lengthAdjust="spacingAndGlyphs" stroke="#000" stroke-width="1.0" stroke-linejoin="round">200</text>
<text x="1108.0" y="1107.1" font-size="27" font-weight="bold" fill="#000" textLength="53.0" lengthAdjust="spacingAndGlyphs" stroke="#000" stroke-width="1.0" stroke-linejoin="round">400</text>
<text x="1108.0" y="1019.8" font-size="27" font-weight="bold" fill="#000" textLength="53.0" lengthAdjust="spacingAndGlyphs" stroke="#000" stroke-width="1.0" stroke-linejoin="round">600</text>
<text x="1108.0" y="932.5" font-size="27" font-weight="bold" fill="#000" textLength="53.0" lengthAdjust="spacingAndGlyphs" stroke="#000" stroke-width="1.0" stroke-linejoin="round">800</text>
<text x="1108.0" y="845.2" font-size="27" font-weight="bold" fill="#000" textLength="70.5" lengthAdjust="spacingAndGlyphs" stroke="#000" stroke-width="1.0" stroke-linejoin="round">1000</text>
<text x="1108.0" y="758.0" font-size="27" font-weight="bold" fill="#000" textLength="70.5" lengthAdjust="spacingAndGlyphs" stroke="#000" stroke-width="1.0" stroke-linejoin="round">1200</text>
<text x="249.5" y="1323.2" font-size="30.5" font-weight="bold" fill="#000" textLength="50.0" lengthAdjust="spacingAndGlyphs" stroke="#000" stroke-width="1.0" stroke-linejoin="round">0%</text>
<text x="402.2" y="1323.2" font-size="30.5" font-weight="bold" fill="#000" textLength="71.0" lengthAdjust="spacingAndGlyphs" stroke="#000" stroke-width="1.0" stroke-linejoin="round">20%</text>
<text x="565.3" y="1323.2" font-size="30.5" font-weight="bold" fill="#000" textLength="71.0" lengthAdjust="spacingAndGlyphs" stroke="#000" stroke-width="1.0" stroke-linejoin="round">40%</text>
<text x="728.5" y="1323.2" font-size="30.5" font-weight="bold" fill="#000" textLength="71.0" lengthAdjust="spacingAndGlyphs" stroke="#000" stroke-width="1.0" stroke-linejoin="round">60%</text>
<text x="891.6" y="1323.2" font-size="30.5" font-weight="bold" fill="#000" textLength="71.0" lengthAdjust="spacingAndGlyphs" stroke="#000" stroke-width="1.0" stroke-linejoin="round">80%</text>
<text x="1044.0" y="1323.2" font-size="30.5" font-weight="bold" fill="#000" textLength="92.5" lengthAdjust="spacingAndGlyphs" stroke="#000" stroke-width="1.0" stroke-linejoin="round">100%</text>
<text x="450.0" y="1399.0" font-size="30" font-weight="bold" fill="#000" textLength="467.0" lengthAdjust="spacingAndGlyphs" stroke="#000" stroke-width="1.0" stroke-linejoin="round">Percentage of SNP number</text>
<text x="168.5" y="1182.0" font-size="33.5" font-weight="bold" fill="#000" textLength="344.0" lengthAdjust="spacingAndGlyphs" transform="rotate(-90 168.5 1182.0)" stroke="#000" stroke-width="1.0" stroke-linejoin="round">No. of combinations</text>
<text x="1224.3" y="1192.0" font-size="33" font-weight="bold" fill="#000" textLength="341.0" lengthAdjust="spacingAndGlyphs" transform="rotate(-90 1224.3 1192.0)" stroke="#000" stroke-width="1.0" stroke-linejoin="round">No. of combinations</text>
<text x="30.2" y="105.6" font-size="72.4" font-weight="bold" fill="#000" textLength="36.4" lengthAdjust="spacingAndGlyphs" stroke="#000" stroke-width="0.6" stroke-linejoin="round">a</text>
<text x="28.6" y="712.2" font-size="70" font-weight="bold" fill="#000" textLength="47.3" lengthAdjust="spacingAndGlyphs" stroke="#000" stroke-width="0.6" stroke-linejoin="round">b</text>
<text x="1214.8" y="120.3" font-size="71.4" font-weight="bold" fill="#000" textLength="36.8" lengthAdjust="spacingAndGlyphs" stroke="#000" stroke-width="0.6" stroke-linejoin="round">c</text>
<use href="#tl" stroke="#2a2a2a" stroke-width="1.3" opacity="0.7"/>
</g>
<use href="#tl" stroke="#484848" stroke-width="1.15"/>
<g class="soft">
<path d="M1408.9,525.1A538.8,538.8 0 0 1 1415.1,517.1M1426.6,503.2A538.8,538.8 0 0 1 1433.3,495.5M1460.3,467.2A538.8,538.8 0 0 1 1467.6,460.2M2249.2,506.7A538.8,538.8 0 0 1 2284.8,554.2M2294.5,569.4A538.8,538.8 0 0 1 2334.4,647.2M2350.1,690.6A538.8,538.8 0 0 1 2374.5,824.8M2374.7,828.8A538.8,538.8 0 0 1 2374.1,888.1M2373.8,892.1A538.8,538.8 0 0 1 2370.6,923.1M2369.1,934.0A538.8,538.8 0 0 1 2364.9,957.8M2364.1,961.7A538.8,538.8 0 0 1 2299.8,1127.9M2297.8,1131.3A538.8,538.8 0 0 1 2284.8,1151.7M2282.6,1155.0A538.8,538.8 0 0 1 2276.9,1163.3M2270.4,1172.2A538.8,538.8 0 0 1 2264.4,1180.3M2257.6,1189.0A538.8,538.8 0 0 1 2242.1,1207.6M2234.8,1215.8A538.8,538.8 0 0 1 2227.9,1223.2M2220.3,1231.1A538.8,538.8 0 0 1 2192.5,1257.4M2189.5,1260.0A538.8,538.8 0 0 1 2181.8,1266.5M2173.3,1273.5A538.8,538.8 0 0 1 2100.8,1322.4M2097.4,1324.4A538.8,538.8 0 0 1 2069.6,1338.7M2066.1,1340.4A538.8,538.8 0 0 1 1957.0,1378.1M1953.1,1379.0A538.8,538.8 0 0 1 1915.5,1386.0M1862.6,1391.2A538.8,538.8 0 0 1 1852.4,1391.6M1771.2,1387.8A538.8,538.8 0 0 1 1761.2,1386.5M1757.3,1386.0A538.8,538.8 0 0 1 1740.4,1383.2M1681.8,1369.1A538.8,538.8 0 0 1 1665.4,1364.0" fill="none" stroke="#00ff00" stroke-width="8.2"/>
<path d="M1368.2,586.5A538.8,538.8 0 0 1 1408.6,525.5M1415.5,516.6A538.8,538.8 0 0 1 1426.2,503.6M1433.6,495.1A538.8,538.8 0 0 1 1459.9,467.6M1468.0,459.8A538.8,538.8 0 0 1 2248.8,506.3M2285.1,554.7A538.8,538.8 0 0 1 2294.2,568.9M2334.6,647.7A538.8,538.8 0 0 1 2350.0,690.1M2370.5,923.7A538.8,538.8 0 0 1 2369.2,933.5M2364.8,958.4A538.8,538.8 0 0 1 2364.2,961.2M2299.5,1128.4A538.8,538.8 0 0 1 2298.1,1130.8M2284.5,1152.2A538.8,538.8 0 0 1 2282.9,1154.5M2276.5,1163.8A538.8,538.8 0 0 1 2270.8,1171.8M2264.0,1180.8A538.8,538.8 0 0 1 2258.0,1188.5M2241.7,1208.0A538.8,538.8 0 0 1 2239.9,1210.1M2227.5,1223.6A538.8,538.8 0 0 1 2220.7,1230.7M2192.0,1257.8A538.8,538.8 0 0 1 2189.9,1259.6" fill="none" stroke="#f44336" stroke-width="6.8"/>
<path d="M1411.3,515.4L1406.4,521.7L1412.7,526.7L1417.6,520.4ZM1429.5,493.7L1424.3,499.7L1430.3,505.0L1435.6,499.0ZM1464.0,458.1L1458.2,463.6L1463.8,469.4L1469.6,463.8ZM2258.1,511.2L2253.0,505.0L2246.8,510.1L2251.9,516.3ZM2262.5,516.7L2257.5,510.5L2251.2,515.5L2256.2,521.7ZM2266.8,522.3L2261.9,516.0L2255.6,520.9L2260.5,527.2ZM2271.1,527.9L2266.3,521.6L2259.9,526.4L2264.8,532.8ZM2275.3,533.7L2270.6,527.2L2264.1,532.0L2268.9,538.4ZM2279.5,539.4L2274.8,532.9L2268.3,537.6L2273.0,544.1ZM2283.5,545.2L2278.9,538.7L2272.4,543.3L2277.0,549.8ZM2287.5,551.1L2283.0,544.5L2276.4,549.0L2280.9,555.6ZM2302.7,575.1L2298.5,568.2L2291.7,572.4L2295.8,579.2ZM2306.2,581.2L2302.2,574.3L2295.3,578.3L2299.4,585.2ZM2309.8,587.3L2305.8,580.4L2298.8,584.4L2302.8,591.3ZM2313.2,593.5L2309.3,586.5L2302.3,590.4L2306.2,597.4ZM2316.5,599.8L2312.8,592.7L2305.7,596.5L2309.5,603.6ZM2319.8,606.1L2316.1,599.0L2309.0,602.7L2312.7,609.8ZM2323.0,612.4L2319.4,605.3L2312.2,608.9L2315.8,616.0ZM2326.1,618.8L2322.6,611.6L2315.4,615.1L2318.9,622.3ZM2329.1,625.2L2325.7,618.0L2318.5,621.4L2321.9,628.6ZM2332.0,631.7L2328.7,624.4L2321.4,627.7L2324.8,635.0ZM2334.9,638.1L2331.7,630.8L2324.3,634.0L2327.6,641.4ZM2337.6,644.7L2334.5,637.3L2327.2,640.4L2330.3,647.8ZM2356.6,698.1L2354.3,690.4L2346.7,692.8L2349.0,700.4ZM2358.6,704.9L2356.4,697.2L2348.7,699.5L2350.9,707.1ZM2360.5,711.7L2358.4,704.0L2350.7,706.2L2352.8,713.9ZM2362.3,718.6L2360.3,710.8L2352.5,712.9L2354.6,720.6ZM2364.0,725.5L2362.1,717.7L2354.3,719.6L2356.3,727.4ZM2365.6,732.4L2363.8,724.6L2356.0,726.4L2357.9,734.2ZM2367.2,739.3L2365.4,731.5L2357.6,733.2L2359.4,741.0ZM2368.6,746.2L2367.0,738.4L2359.1,740.0L2360.8,747.9ZM2370.0,753.2L2368.4,745.3L2360.6,746.9L2362.1,754.7ZM2371.2,760.2L2369.8,752.3L2361.9,753.7L2363.3,761.6ZM2372.4,767.2L2371.1,759.3L2363.2,760.6L2364.5,768.5ZM2373.5,774.2L2372.2,766.3L2364.3,767.5L2365.6,775.4ZM2374.4,781.2L2373.3,773.3L2365.4,774.4L2366.5,782.3ZM2375.3,788.2L2374.3,780.3L2366.4,781.3L2367.4,789.2ZM2376.1,795.3L2375.2,787.3L2367.3,788.2L2368.2,796.2ZM2376.8,802.3L2376.0,794.4L2368.1,795.2L2368.9,803.1ZM2377.5,809.4L2376.8,801.4L2368.8,802.1L2369.5,810.1ZM2378.0,816.4L2377.4,808.5L2369.4,809.1L2370.0,817.0ZM2378.4,823.5L2377.9,815.5L2369.9,816.0L2370.4,824.0ZM2379.0,837.7L2378.7,829.7L2370.7,830.0L2371.0,838.0ZM2379.2,844.8L2379.0,836.8L2371.0,837.0L2371.2,845.0ZM2379.2,851.9L2379.1,843.9L2371.1,843.9L2371.2,851.9ZM2379.2,859.0L2379.2,851.0L2371.2,850.9L2371.2,858.9ZM2379.1,866.0L2379.2,858.0L2371.2,857.9L2371.1,865.9ZM2378.8,873.1L2379.1,865.1L2371.1,864.9L2370.8,872.9ZM2378.5,880.2L2378.9,872.2L2370.9,871.9L2370.5,879.9ZM2378.1,887.3L2378.6,879.3L2370.6,878.9L2370.1,886.8ZM2377.1,901.4L2377.7,893.5L2369.7,892.8L2369.1,900.8ZM2376.4,908.5L2377.1,900.5L2369.2,899.8L2368.4,907.7ZM2375.6,915.5L2376.5,907.6L2368.5,906.7L2367.6,914.7ZM2374.7,922.6L2375.7,914.6L2367.8,913.7L2366.8,921.6ZM2371.6,943.6L2372.9,935.7L2365.0,934.4L2363.7,942.3ZM2370.4,950.6L2371.8,942.7L2363.9,941.3L2362.5,949.2ZM2369.1,957.5L2370.5,949.7L2362.7,948.2L2361.2,956.1ZM2366.1,971.4L2367.8,963.6L2360.0,961.9L2358.3,969.7ZM2364.5,978.3L2366.3,970.5L2358.5,968.7L2356.8,976.5ZM2362.9,985.2L2364.8,977.4L2357.0,975.6L2355.1,983.3ZM2361.1,992.1L2363.1,984.3L2355.3,982.3L2353.3,990.1ZM2359.2,998.9L2361.3,991.2L2353.6,989.1L2351.5,996.8ZM2357.3,1005.7L2359.5,998.0L2351.8,995.9L2349.6,1003.5ZM2355.2,1012.5L2357.5,1004.9L2349.9,1002.6L2347.6,1010.2ZM2353.1,1019.3L2355.5,1011.7L2347.9,1009.3L2345.5,1016.9ZM2350.9,1026.0L2353.4,1018.4L2345.8,1015.9L2343.3,1023.5ZM2348.6,1032.7L2351.2,1025.2L2343.6,1022.6L2341.0,1030.1ZM2346.2,1039.4L2348.9,1031.9L2341.4,1029.2L2338.7,1036.7ZM2343.7,1046.0L2346.5,1038.5L2339.0,1035.8L2336.2,1043.3ZM2341.2,1052.7L2344.1,1045.2L2336.6,1042.3L2333.7,1049.8ZM2338.5,1059.2L2341.5,1051.8L2334.1,1048.8L2331.1,1056.2ZM2335.8,1065.8L2338.9,1058.4L2331.5,1055.3L2328.4,1062.7ZM2333.0,1072.3L2336.1,1064.9L2328.8,1061.8L2325.6,1069.1ZM2330.0,1078.7L2333.3,1071.4L2326.0,1068.2L2322.7,1075.5ZM2327.1,1085.2L2330.4,1077.9L2323.2,1074.5L2319.8,1081.8ZM2324.0,1091.6L2327.4,1084.3L2320.2,1080.9L2316.8,1088.1ZM2320.8,1097.9L2324.4,1090.7L2317.2,1087.2L2313.7,1094.3ZM2317.6,1104.2L2321.2,1097.1L2314.1,1093.4L2310.5,1100.6ZM2314.3,1110.5L2318.0,1103.4L2310.9,1099.7L2307.2,1106.7ZM2310.9,1116.7L2314.7,1109.7L2307.7,1105.8L2303.8,1112.9ZM2307.4,1122.9L2311.3,1115.9L2304.3,1112.0L2300.4,1118.9ZM2303.8,1129.0L2307.8,1122.1L2300.9,1118.1L2296.9,1125.0ZM2296.4,1141.1L2300.6,1134.3L2293.8,1130.1L2289.6,1136.9ZM2292.6,1147.1L2296.9,1140.3L2290.2,1136.0L2285.9,1142.8ZM2288.8,1153.0L2293.1,1146.3L2286.4,1141.9L2282.1,1148.6ZM2280.8,1164.7L2285.3,1158.2L2278.7,1153.6L2274.2,1160.2ZM2268.2,1181.9L2273.0,1175.5L2266.6,1170.7L2261.8,1177.1ZM2255.0,1198.6L2260.1,1192.4L2253.9,1187.3L2248.8,1193.5ZM2250.5,1204.0L2255.6,1197.9L2249.4,1192.7L2244.3,1198.9ZM2245.8,1209.4L2251.0,1203.3L2245.0,1198.1L2239.8,1204.2ZM2231.6,1225.1L2237.0,1219.3L2231.1,1213.8L2225.7,1219.7ZM2216.7,1240.3L2222.4,1234.7L2216.7,1229.0L2211.0,1234.7ZM2211.6,1245.3L2217.3,1239.7L2211.8,1234.0L2206.0,1239.5ZM2206.4,1250.1L2212.3,1244.6L2206.8,1238.8L2200.9,1244.3ZM2201.2,1254.9L2207.1,1249.5L2201.7,1243.6L2195.8,1249.1ZM2195.9,1259.7L2201.9,1254.3L2196.6,1248.4L2190.6,1253.7ZM2185.2,1268.9L2191.3,1263.7L2186.1,1257.6L2180.0,1262.8ZM2168.6,1282.3L2174.9,1277.3L2170.0,1271.0L2163.7,1276.0ZM2163.0,1286.6L2169.4,1281.7L2164.5,1275.3L2158.1,1280.2ZM2157.3,1290.8L2163.7,1286.0L2159.0,1279.6L2152.5,1284.4ZM2151.6,1294.9L2158.1,1290.3L2153.4,1283.8L2146.9,1288.5ZM2145.8,1299.0L2152.3,1294.4L2147.7,1287.9L2141.2,1292.5ZM2139.9,1303.0L2146.5,1298.5L2142.0,1291.9L2135.4,1296.4ZM2134.0,1307.0L2140.7,1302.5L2136.2,1295.9L2129.6,1300.3ZM2128.1,1310.8L2134.8,1306.5L2130.4,1299.7L2123.7,1304.1ZM2122.1,1314.6L2128.8,1310.3L2124.6,1303.5L2117.8,1307.8ZM2116.0,1318.3L2122.8,1314.1L2118.7,1307.3L2111.8,1311.4ZM2109.9,1321.9L2116.8,1317.8L2112.7,1310.9L2105.8,1315.0ZM2103.8,1325.4L2110.7,1321.4L2106.7,1314.5L2099.8,1318.5ZM2091.3,1332.2L2098.4,1328.4L2094.6,1321.4L2087.5,1325.2ZM2085.1,1335.5L2092.1,1331.8L2088.4,1324.7L2081.3,1328.4ZM2078.7,1338.7L2085.9,1335.1L2082.2,1328.0L2075.1,1331.6ZM2072.4,1341.8L2079.5,1338.3L2076.0,1331.1L2068.8,1334.7ZM2059.5,1347.8L2066.8,1344.5L2063.4,1337.2L2056.2,1340.6ZM2053.0,1350.7L2060.3,1347.5L2057.1,1340.2L2049.8,1343.4ZM2046.5,1353.5L2053.9,1350.3L2050.7,1343.0L2043.4,1346.1ZM2040.0,1356.2L2047.4,1353.1L2044.3,1345.8L2036.9,1348.8ZM2033.4,1358.8L2040.8,1355.9L2037.8,1348.4L2030.4,1351.4ZM2026.8,1361.3L2034.2,1358.5L2031.4,1351.0L2023.9,1353.9ZM2020.1,1363.8L2027.6,1361.0L2024.8,1353.5L2017.3,1356.3ZM2013.4,1366.1L2021.0,1363.5L2018.3,1355.9L2010.7,1358.6ZM2006.7,1368.4L2014.3,1365.8L2011.7,1358.3L2004.1,1360.8ZM1999.9,1370.6L2007.6,1368.1L2005.1,1360.5L1997.5,1363.0ZM1993.2,1372.7L2000.8,1370.3L1998.4,1362.7L1990.8,1365.0ZM1986.4,1374.7L1994.0,1372.4L1991.8,1364.7L1984.1,1367.0ZM1979.5,1376.6L1987.2,1374.4L1985.1,1366.7L1977.4,1368.9ZM1972.7,1378.4L1980.4,1376.4L1978.4,1368.6L1970.6,1370.7ZM1965.8,1380.2L1973.6,1378.2L1971.6,1370.4L1963.9,1372.4ZM1958.9,1381.8L1966.7,1379.9L1964.8,1372.2L1957.1,1374.0ZM1945.1,1384.8L1952.9,1383.2L1951.2,1375.3L1943.4,1377.0ZM1938.1,1386.2L1946.0,1384.6L1944.4,1376.8L1936.6,1378.4ZM1931.1,1387.5L1939.0,1386.0L1937.6,1378.2L1929.7,1379.6ZM1924.2,1388.7L1932.0,1387.3L1930.7,1379.4L1922.8,1380.8ZM1917.2,1389.8L1925.1,1388.5L1923.8,1380.6L1915.9,1381.9ZM1853.7,1395.5L1861.6,1395.2L1861.3,1387.2L1853.3,1387.5ZM1761.7,1390.7L1769.7,1391.7L1770.7,1383.8L1762.8,1382.7ZM1747.7,1388.5L1755.6,1389.8L1756.9,1381.9L1749.0,1380.6ZM1740.7,1387.3L1748.6,1388.7L1750.0,1380.8L1742.1,1379.4ZM1672.0,1370.3L1679.6,1372.7L1682.0,1365.0L1674.3,1362.7ZM1665.2,1368.1L1672.8,1370.6L1675.3,1363.0L1667.7,1360.5Z" fill="#00ff00"/>
<path d="M2374.56,822.80 L2375.86,825.02 L2378.37,825.57 L2376.66,827.48 L2376.91,830.04 L2374.56,829.00 L2372.21,830.04 L2372.47,827.48 L2370.76,825.57 L2373.27,825.02ZM2373.92,886.10 L2375.21,888.32 L2377.73,888.86 L2376.01,890.78 L2376.27,893.33 L2373.92,892.30 L2371.57,893.33 L2371.83,890.78 L2370.12,888.86 L2372.63,888.32ZM2236.11,1210.30 L2237.40,1212.52 L2239.91,1213.06 L2238.20,1214.98 L2238.46,1217.54 L2236.11,1216.50 L2233.76,1217.54 L2234.02,1214.98 L2232.30,1213.06 L2234.82,1212.52ZM2180.26,1263.80 L2181.56,1266.02 L2184.07,1266.57 L2182.36,1268.48 L2182.62,1271.04 L2180.26,1270.00 L2177.91,1271.04 L2178.17,1268.48 L2176.46,1266.57 L2178.97,1266.02ZM2174.82,1268.26 L2176.11,1270.48 L2178.62,1271.02 L2176.91,1272.94 L2177.17,1275.50 L2174.82,1274.46 L2172.47,1275.50 L2172.73,1272.94 L2171.01,1271.02 L2173.53,1270.48ZM2099.11,1319.41 L2100.40,1321.63 L2102.92,1322.18 L2101.20,1324.09 L2101.46,1326.65 L2099.11,1325.61 L2096.76,1326.65 L2097.02,1324.09 L2095.31,1322.18 L2097.82,1321.63ZM2067.86,1335.55 L2069.15,1337.77 L2071.66,1338.32 L2069.95,1340.23 L2070.21,1342.79 L2067.86,1341.75 L2065.50,1342.79 L2065.76,1340.23 L2064.05,1338.32 L2066.56,1337.77ZM1955.03,1374.58 L1956.33,1376.80 L1958.84,1377.34 L1957.13,1379.26 L1957.38,1381.81 L1955.03,1380.78 L1952.68,1381.81 L1952.94,1379.26 L1951.23,1377.34 L1953.74,1376.80ZM1913.53,1382.25 L1914.82,1384.47 L1917.33,1385.02 L1915.62,1386.93 L1915.88,1389.49 L1913.53,1388.45 L1911.18,1389.49 L1911.43,1386.93 L1909.72,1385.02 L1912.23,1384.47ZM1906.56,1383.21 L1907.85,1385.43 L1910.36,1385.98 L1908.65,1387.89 L1908.91,1390.45 L1906.56,1389.41 L1904.21,1390.45 L1904.46,1387.89 L1902.75,1385.98 L1905.26,1385.43ZM1899.57,1384.08 L1900.87,1386.30 L1903.38,1386.85 L1901.67,1388.76 L1901.92,1391.32 L1899.57,1390.28 L1897.22,1391.32 L1897.48,1388.76 L1895.77,1386.85 L1898.28,1386.30ZM1892.58,1384.86 L1893.87,1387.08 L1896.38,1387.63 L1894.67,1389.54 L1894.93,1392.10 L1892.58,1391.06 L1890.23,1392.10 L1890.49,1389.54 L1888.78,1387.63 L1891.29,1387.08ZM1885.58,1385.55 L1886.87,1387.77 L1889.38,1388.32 L1887.67,1390.23 L1887.93,1392.79 L1885.58,1391.75 L1883.23,1392.79 L1883.48,1390.23 L1881.77,1388.32 L1884.28,1387.77ZM1878.57,1386.15 L1879.86,1388.37 L1882.37,1388.91 L1880.66,1390.83 L1880.92,1393.38 L1878.57,1392.35 L1876.21,1393.38 L1876.47,1390.83 L1874.76,1388.91 L1877.27,1388.37ZM1871.55,1386.65 L1872.84,1388.87 L1875.35,1389.42 L1873.64,1391.33 L1873.90,1393.89 L1871.55,1392.85 L1869.20,1393.89 L1869.45,1391.33 L1867.74,1389.42 L1870.25,1388.87ZM1864.52,1387.07 L1865.82,1389.29 L1868.33,1389.83 L1866.61,1391.75 L1866.87,1394.30 L1864.52,1393.27 L1862.17,1394.30 L1862.43,1391.75 L1860.72,1389.83 L1863.23,1389.29ZM1850.46,1387.62 L1851.75,1389.84 L1854.26,1390.38 L1852.55,1392.30 L1852.81,1394.85 L1850.46,1393.82 L1848.11,1394.85 L1848.37,1392.30 L1846.66,1390.38 L1849.17,1389.84ZM1843.42,1387.75 L1844.72,1389.97 L1847.23,1390.52 L1845.52,1392.43 L1845.78,1394.99 L1843.42,1393.95 L1841.07,1394.99 L1841.33,1392.43 L1839.62,1390.52 L1842.13,1389.97ZM1836.39,1387.80 L1837.68,1390.02 L1840.19,1390.56 L1838.48,1392.48 L1838.74,1395.04 L1836.39,1394.00 L1834.04,1395.04 L1834.30,1392.48 L1832.58,1390.56 L1835.09,1390.02ZM1829.35,1387.75 L1830.64,1389.97 L1833.16,1390.52 L1831.44,1392.43 L1831.70,1394.99 L1829.35,1393.95 L1827.00,1394.99 L1827.26,1392.43 L1825.55,1390.52 L1828.06,1389.97ZM1822.32,1387.62 L1823.61,1389.84 L1826.12,1390.38 L1824.41,1392.30 L1824.67,1394.85 L1822.32,1393.82 L1819.96,1394.85 L1820.22,1392.30 L1818.51,1390.38 L1821.02,1389.84ZM1815.28,1387.39 L1816.58,1389.61 L1819.09,1390.15 L1817.38,1392.07 L1817.63,1394.62 L1815.28,1393.59 L1812.93,1394.62 L1813.19,1392.07 L1811.48,1390.15 L1813.99,1389.61ZM1808.25,1387.06 L1809.55,1389.28 L1812.06,1389.83 L1810.35,1391.74 L1810.60,1394.30 L1808.25,1393.26 L1805.90,1394.30 L1806.16,1391.74 L1804.45,1389.83 L1806.96,1389.28ZM1801.23,1386.65 L1802.52,1388.87 L1805.03,1389.41 L1803.32,1391.33 L1803.58,1393.89 L1801.23,1392.85 L1798.88,1393.89 L1799.14,1391.33 L1797.42,1389.41 L1799.94,1388.87ZM1794.21,1386.15 L1795.50,1388.37 L1798.01,1388.91 L1796.30,1390.83 L1796.56,1393.38 L1794.21,1392.35 L1791.86,1393.38 L1792.12,1390.83 L1790.41,1388.91 L1792.92,1388.37ZM1787.20,1385.55 L1788.49,1387.77 L1791.00,1388.31 L1789.29,1390.23 L1789.55,1392.78 L1787.20,1391.75 L1784.85,1392.78 L1785.11,1390.23 L1783.39,1388.31 L1785.91,1387.77ZM1780.20,1384.86 L1781.49,1387.08 L1784.00,1387.62 L1782.29,1389.54 L1782.55,1392.10 L1780.20,1391.06 L1777.84,1392.10 L1778.10,1389.54 L1776.39,1387.62 L1778.90,1387.08ZM1773.20,1384.08 L1774.50,1386.30 L1777.01,1386.84 L1775.29,1388.76 L1775.55,1391.32 L1773.20,1390.28 L1770.85,1391.32 L1771.11,1388.76 L1769.40,1386.84 L1771.91,1386.30ZM1759.25,1382.25 L1760.54,1384.47 L1763.05,1385.01 L1761.34,1386.93 L1761.60,1389.48 L1759.25,1388.45 L1756.90,1389.48 L1757.16,1386.93 L1755.45,1385.01 L1757.96,1384.47ZM1731.51,1377.49 L1732.80,1379.71 L1735.31,1380.26 L1733.60,1382.17 L1733.86,1384.73 L1731.51,1383.69 L1729.16,1384.73 L1729.42,1382.17 L1727.71,1380.26 L1730.22,1379.71ZM1724.62,1376.08 L1725.91,1378.30 L1728.42,1378.84 L1726.71,1380.76 L1726.97,1383.31 L1724.62,1382.28 L1722.27,1383.31 L1722.52,1380.76 L1720.81,1378.84 L1723.32,1378.30ZM1717.74,1374.57 L1719.04,1376.79 L1721.55,1377.34 L1719.84,1379.25 L1720.09,1381.81 L1717.74,1380.77 L1715.39,1381.81 L1715.65,1379.25 L1713.94,1377.34 L1716.45,1376.79ZM1710.89,1372.98 L1712.18,1375.20 L1714.69,1375.74 L1712.98,1377.66 L1713.24,1380.21 L1710.89,1379.18 L1708.54,1380.21 L1708.80,1377.66 L1707.09,1375.74 L1709.60,1375.20ZM1704.06,1371.29 L1705.35,1373.51 L1707.86,1374.06 L1706.15,1375.97 L1706.41,1378.53 L1704.06,1377.49 L1701.71,1378.53 L1701.96,1375.97 L1700.25,1374.06 L1702.76,1373.51ZM1697.25,1369.52 L1698.54,1371.74 L1701.05,1372.28 L1699.34,1374.20 L1699.60,1376.76 L1697.25,1375.72 L1694.90,1376.76 L1695.15,1374.20 L1693.44,1372.28 L1695.95,1371.74ZM1690.46,1367.66 L1691.75,1369.88 L1694.27,1370.42 L1692.55,1372.34 L1692.81,1374.90 L1690.46,1373.86 L1688.11,1374.90 L1688.37,1372.34 L1686.66,1370.42 L1689.17,1369.88ZM1683.70,1365.71 L1684.99,1367.93 L1687.50,1368.47 L1685.79,1370.39 L1686.05,1372.95 L1683.70,1371.91 L1681.35,1372.95 L1681.61,1370.39 L1679.90,1368.47 L1682.41,1367.93ZM1663.58,1359.33 L1664.87,1361.55 L1667.38,1362.10 L1665.67,1364.01 L1665.93,1366.57 L1663.58,1365.53 L1661.23,1366.57 L1661.49,1364.01 L1659.77,1362.10 L1662.28,1361.55ZM1656.93,1357.03 L1658.22,1359.25 L1660.73,1359.79 L1659.02,1361.71 L1659.28,1364.27 L1656.93,1363.23 L1654.58,1364.27 L1654.84,1361.71 L1653.12,1359.79 L1655.63,1359.25ZM1650.31,1354.64 L1651.60,1356.86 L1654.11,1357.41 L1652.40,1359.32 L1652.66,1361.88 L1650.31,1360.84 L1647.96,1361.88 L1648.22,1359.32 L1646.50,1357.41 L1649.01,1356.86ZM1643.72,1352.17 L1645.01,1354.39 L1647.52,1354.93 L1645.81,1356.85 L1646.07,1359.41 L1643.72,1358.37 L1641.37,1359.41 L1641.63,1356.85 L1639.92,1354.93 L1642.43,1354.39ZM1637.17,1349.61 L1638.46,1351.83 L1640.97,1352.37 L1639.26,1354.29 L1639.52,1356.85 L1637.17,1355.81 L1634.81,1356.85 L1635.07,1354.29 L1633.36,1352.37 L1635.87,1351.83ZM1624.16,1344.24 L1625.45,1346.46 L1627.96,1347.00 L1626.25,1348.92 L1626.51,1351.47 L1624.16,1350.44 L1621.81,1351.47 L1622.07,1348.92 L1620.35,1347.00 L1622.87,1346.46ZM1611.30,1338.52 L1612.59,1340.74 L1615.10,1341.29 L1613.39,1343.20 L1613.65,1345.76 L1611.30,1344.72 L1608.95,1345.76 L1609.20,1343.20 L1607.49,1341.29 L1610.00,1340.74ZM1604.92,1335.54 L1606.22,1337.76 L1608.73,1338.31 L1607.02,1340.22 L1607.27,1342.78 L1604.92,1341.74 L1602.57,1342.78 L1602.83,1340.22 L1601.12,1338.31 L1603.63,1337.76ZM1598.59,1332.48 L1599.88,1334.70 L1602.39,1335.24 L1600.68,1337.16 L1600.94,1339.71 L1598.59,1338.68 L1596.24,1339.71 L1596.50,1337.16 L1594.78,1335.24 L1597.30,1334.70ZM1592.29,1329.33 L1593.59,1331.55 L1596.10,1332.10 L1594.39,1334.01 L1594.65,1336.57 L1592.29,1335.53 L1589.94,1336.57 L1590.20,1334.01 L1588.49,1332.10 L1591.00,1331.55ZM1586.04,1326.10 L1587.34,1328.32 L1589.85,1328.87 L1588.14,1330.78 L1588.39,1333.34 L1586.04,1332.30 L1583.69,1333.34 L1583.95,1330.78 L1582.24,1328.87 L1584.75,1328.32ZM1579.83,1322.79 L1581.13,1325.01 L1583.64,1325.56 L1581.93,1327.47 L1582.18,1330.03 L1579.83,1328.99 L1577.48,1330.03 L1577.74,1327.47 L1576.03,1325.56 L1578.54,1325.01ZM1573.67,1319.40 L1574.96,1321.62 L1577.47,1322.16 L1575.76,1324.08 L1576.02,1326.64 L1573.67,1325.60 L1571.32,1326.64 L1571.58,1324.08 L1569.86,1322.16 L1572.37,1321.62ZM1561.47,1312.38 L1562.76,1314.60 L1565.28,1315.14 L1563.56,1317.06 L1563.82,1319.61 L1561.47,1318.58 L1559.12,1319.61 L1559.38,1317.06 L1557.67,1315.14 L1560.18,1314.60ZM1555.44,1308.75 L1556.74,1310.97 L1559.25,1311.51 L1557.54,1313.43 L1557.79,1315.98 L1555.44,1314.95 L1553.09,1315.98 L1553.35,1313.43 L1551.64,1311.51 L1554.15,1310.97ZM1549.46,1305.04 L1550.76,1307.26 L1553.27,1307.80 L1551.56,1309.72 L1551.81,1312.28 L1549.46,1311.24 L1547.11,1312.28 L1547.37,1309.72 L1545.66,1307.80 L1548.17,1307.26ZM1543.53,1301.25 L1544.82,1303.47 L1547.34,1304.02 L1545.62,1305.93 L1545.88,1308.49 L1543.53,1307.45 L1541.18,1308.49 L1541.44,1305.93 L1539.73,1304.02 L1542.24,1303.47ZM1537.65,1297.39 L1538.94,1299.61 L1541.45,1300.15 L1539.74,1302.07 L1540.00,1304.63 L1537.65,1303.59 L1535.30,1304.63 L1535.56,1302.07 L1533.85,1300.15 L1536.36,1299.61ZM1531.82,1293.45 L1533.11,1295.67 L1535.62,1296.21 L1533.91,1298.13 L1534.17,1300.69 L1531.82,1299.65 L1529.47,1300.69 L1529.73,1298.13 L1528.02,1296.21 L1530.53,1295.67ZM1526.04,1289.44 L1527.33,1291.66 L1529.85,1292.20 L1528.13,1294.11 L1528.39,1296.67 L1526.04,1295.64 L1523.69,1296.67 L1523.95,1294.11 L1522.24,1292.20 L1524.75,1291.66ZM1520.32,1285.34 L1521.61,1287.56 L1524.12,1288.11 L1522.41,1290.02 L1522.67,1292.58 L1520.32,1291.54 L1517.96,1292.58 L1518.22,1290.02 L1516.51,1288.11 L1519.02,1287.56ZM1514.64,1281.18 L1515.94,1283.40 L1518.45,1283.94 L1516.74,1285.86 L1517.00,1288.42 L1514.64,1287.38 L1512.29,1288.42 L1512.55,1285.86 L1510.84,1283.94 L1513.35,1283.40ZM1503.47,1272.63 L1504.76,1274.85 L1507.27,1275.39 L1505.56,1277.31 L1505.82,1279.86 L1503.47,1278.83 L1501.12,1279.86 L1501.37,1277.31 L1499.66,1275.39 L1502.17,1274.85ZM1497.96,1268.24 L1499.26,1270.46 L1501.77,1271.01 L1500.06,1272.92 L1500.31,1275.48 L1497.96,1274.44 L1495.61,1275.48 L1495.87,1272.92 L1494.16,1271.01 L1496.67,1270.46ZM1492.52,1263.79 L1493.81,1266.01 L1496.32,1266.55 L1494.61,1268.47 L1494.87,1271.02 L1492.52,1269.99 L1490.17,1271.02 L1490.42,1268.47 L1488.71,1266.55 L1491.22,1266.01ZM1487.13,1259.26 L1488.42,1261.48 L1490.93,1262.03 L1489.22,1263.94 L1489.48,1266.50 L1487.13,1265.46 L1484.78,1266.50 L1485.04,1263.94 L1483.32,1262.03 L1485.84,1261.48ZM1481.80,1254.67 L1483.09,1256.89 L1485.60,1257.43 L1483.89,1259.35 L1484.15,1261.90 L1481.80,1260.87 L1479.45,1261.90 L1479.71,1259.35 L1478.00,1257.43 L1480.51,1256.89ZM1476.53,1250.00 L1477.83,1252.22 L1480.34,1252.76 L1478.63,1254.68 L1478.88,1257.24 L1476.53,1256.20 L1474.18,1257.24 L1474.44,1254.68 L1472.73,1252.76 L1475.24,1252.22ZM1471.33,1245.27 L1472.62,1247.49 L1475.13,1248.03 L1473.42,1249.95 L1473.68,1252.50 L1471.33,1251.47 L1468.98,1252.50 L1469.23,1249.95 L1467.52,1248.03 L1470.03,1247.49ZM1466.18,1240.46 L1467.48,1242.68 L1469.99,1243.23 L1468.27,1245.14 L1468.53,1247.70 L1466.18,1246.66 L1463.83,1247.70 L1464.09,1245.14 L1462.38,1243.23 L1464.89,1242.68ZM1461.10,1235.60 L1462.39,1237.82 L1464.91,1238.36 L1463.19,1240.28 L1463.45,1242.83 L1461.10,1241.80 L1458.75,1242.83 L1459.01,1240.28 L1457.30,1238.36 L1459.81,1237.82ZM1456.08,1230.66 L1457.38,1232.88 L1459.89,1233.43 L1458.18,1235.34 L1458.44,1237.90 L1456.08,1236.86 L1453.73,1237.90 L1453.99,1235.34 L1452.28,1233.43 L1454.79,1232.88ZM1451.13,1225.66 L1452.43,1227.88 L1454.94,1228.43 L1453.23,1230.34 L1453.48,1232.90 L1451.13,1231.86 L1448.78,1232.90 L1449.04,1230.34 L1447.33,1228.43 L1449.84,1227.88ZM1446.25,1220.60 L1447.54,1222.82 L1450.05,1223.36 L1448.34,1225.28 L1448.60,1227.84 L1446.25,1226.80 L1443.90,1227.84 L1444.15,1225.28 L1442.44,1223.36 L1444.95,1222.82ZM1441.43,1215.47 L1442.72,1217.69 L1445.23,1218.24 L1443.52,1220.15 L1443.78,1222.71 L1441.43,1221.67 L1439.08,1222.71 L1439.33,1220.15 L1437.62,1218.24 L1440.13,1217.69ZM1436.67,1210.28 L1437.97,1212.50 L1440.48,1213.05 L1438.77,1214.96 L1439.03,1217.52 L1436.67,1216.48 L1434.32,1217.52 L1434.58,1214.96 L1432.87,1213.05 L1435.38,1212.50ZM1431.99,1205.03 L1433.28,1207.25 L1435.79,1207.80 L1434.08,1209.71 L1434.34,1212.27 L1431.99,1211.23 L1429.64,1212.27 L1429.90,1209.71 L1428.19,1207.80 L1430.70,1207.25ZM1427.38,1199.72 L1428.67,1201.94 L1431.18,1202.48 L1429.47,1204.40 L1429.73,1206.96 L1427.38,1205.92 L1425.02,1206.96 L1425.28,1204.40 L1423.57,1202.48 L1426.08,1201.94ZM1422.83,1194.35 L1424.12,1196.57 L1426.63,1197.11 L1424.92,1199.03 L1425.18,1201.58 L1422.83,1200.55 L1420.48,1201.58 L1420.74,1199.03 L1419.03,1197.11 L1421.54,1196.57ZM1418.35,1188.92 L1419.65,1191.14 L1422.16,1191.68 L1420.45,1193.60 L1420.71,1196.15 L1418.35,1195.12 L1416.00,1196.15 L1416.26,1193.60 L1414.55,1191.68 L1417.06,1191.14ZM1413.95,1183.43 L1415.24,1185.65 L1417.76,1186.19 L1416.04,1188.11 L1416.30,1190.66 L1413.95,1189.63 L1411.60,1190.66 L1411.86,1188.11 L1410.15,1186.19 L1412.66,1185.65ZM1409.62,1177.88 L1410.91,1180.10 L1413.42,1180.65 L1411.71,1182.56 L1411.97,1185.12 L1409.62,1184.08 L1407.27,1185.12 L1407.53,1182.56 L1405.82,1180.65 L1408.33,1180.10ZM1405.36,1172.28 L1406.65,1174.50 L1409.17,1175.05 L1407.45,1176.96 L1407.71,1179.52 L1405.36,1178.48 L1403.01,1179.52 L1403.27,1176.96 L1401.56,1175.05 L1404.07,1174.50ZM1401.18,1166.62 L1402.47,1168.84 L1404.98,1169.39 L1403.27,1171.30 L1403.53,1173.86 L1401.18,1172.82 L1398.82,1173.86 L1399.08,1171.30 L1397.37,1169.39 L1399.88,1168.84ZM1397.06,1160.91 L1398.36,1163.13 L1400.87,1163.68 L1399.16,1165.59 L1399.42,1168.15 L1397.06,1167.11 L1394.71,1168.15 L1394.97,1165.59 L1393.26,1163.68 L1395.77,1163.13ZM1393.03,1155.15 L1394.32,1157.37 L1396.83,1157.91 L1395.12,1159.83 L1395.38,1162.39 L1393.03,1161.35 L1390.68,1162.39 L1390.94,1159.83 L1389.22,1157.91 L1391.74,1157.37ZM1389.07,1149.33 L1390.36,1151.55 L1392.87,1152.10 L1391.16,1154.01 L1391.42,1156.57 L1389.07,1155.53 L1386.72,1156.57 L1386.98,1154.01 L1385.26,1152.10 L1387.78,1151.55ZM1385.18,1143.47 L1386.48,1145.69 L1388.99,1146.23 L1387.28,1148.15 L1387.54,1150.70 L1385.18,1149.67 L1382.83,1150.70 L1383.09,1148.15 L1381.38,1146.23 L1383.89,1145.69ZM1381.38,1137.55 L1382.67,1139.77 L1385.18,1140.31 L1383.47,1142.23 L1383.73,1144.78 L1381.38,1143.75 L1379.03,1144.78 L1379.28,1142.23 L1377.57,1140.31 L1380.08,1139.77ZM1377.65,1131.58 L1378.94,1133.80 L1381.45,1134.34 L1379.74,1136.26 L1380.00,1138.82 L1377.65,1137.78 L1375.30,1138.82 L1375.56,1136.26 L1373.84,1134.34 L1376.35,1133.80ZM1374.00,1125.56 L1375.29,1127.79 L1377.80,1128.33 L1376.09,1130.24 L1376.35,1132.80 L1374.00,1131.76 L1371.65,1132.80 L1371.90,1130.24 L1370.19,1128.33 L1372.70,1127.79ZM1370.42,1119.50 L1371.72,1121.72 L1374.23,1122.27 L1372.52,1124.18 L1372.77,1126.74 L1370.42,1125.70 L1368.07,1126.74 L1368.33,1124.18 L1366.62,1122.27 L1369.13,1121.72ZM1366.93,1113.39 L1368.22,1115.61 L1370.74,1116.16 L1369.02,1118.07 L1369.28,1120.63 L1366.93,1119.59 L1364.58,1120.63 L1364.84,1118.07 L1363.13,1116.16 L1365.64,1115.61ZM1363.52,1107.24 L1364.81,1109.46 L1367.32,1110.00 L1365.61,1111.92 L1365.87,1114.48 L1363.52,1113.44 L1361.17,1114.48 L1361.43,1111.92 L1359.71,1110.00 L1362.22,1109.46ZM1360.19,1101.04 L1361.48,1103.26 L1363.99,1103.81 L1362.28,1105.72 L1362.54,1108.28 L1360.19,1107.24 L1357.83,1108.28 L1358.09,1105.72 L1356.38,1103.81 L1358.89,1103.26ZM1356.93,1094.80 L1358.23,1097.02 L1360.74,1097.57 L1359.03,1099.48 L1359.29,1102.04 L1356.93,1101.00 L1354.58,1102.04 L1354.84,1099.48 L1353.13,1097.57 L1355.64,1097.02ZM1353.77,1088.52 L1355.06,1090.74 L1357.57,1091.28 L1355.86,1093.20 L1356.12,1095.76 L1353.77,1094.72 L1351.41,1095.76 L1351.67,1093.20 L1349.96,1091.28 L1352.47,1090.74ZM1350.68,1082.20 L1351.97,1084.42 L1354.48,1084.96 L1352.77,1086.88 L1353.03,1089.43 L1350.68,1088.40 L1348.33,1089.43 L1348.59,1086.88 L1346.87,1084.96 L1349.39,1084.42ZM1347.67,1075.83 L1348.97,1078.05 L1351.48,1078.60 L1349.77,1080.51 L1350.03,1083.07 L1347.67,1082.03 L1345.32,1083.07 L1345.58,1080.51 L1343.87,1078.60 L1346.38,1078.05ZM1344.75,1069.43 L1346.05,1071.65 L1348.56,1072.19 L1346.85,1074.11 L1347.10,1076.67 L1344.75,1075.63 L1342.40,1076.67 L1342.66,1074.11 L1340.95,1072.19 L1343.46,1071.65ZM1341.92,1062.99 L1343.21,1065.21 L1345.72,1065.75 L1344.01,1067.67 L1344.27,1070.23 L1341.92,1069.19 L1339.57,1070.23 L1339.82,1067.67 L1338.11,1065.75 L1340.62,1065.21ZM1339.16,1056.51 L1340.46,1058.73 L1342.97,1059.28 L1341.26,1061.19 L1341.52,1063.75 L1339.16,1062.71 L1336.81,1063.75 L1337.07,1061.19 L1335.36,1059.28 L1337.87,1058.73ZM1336.50,1050.00 L1337.79,1052.22 L1340.30,1052.77 L1338.59,1054.68 L1338.85,1057.24 L1336.50,1056.20 L1334.15,1057.24 L1334.40,1054.68 L1332.69,1052.77 L1335.20,1052.22ZM1333.91,1043.46 L1335.21,1045.68 L1337.72,1046.22 L1336.01,1048.14 L1336.27,1050.69 L1333.91,1049.66 L1331.56,1050.69 L1331.82,1048.14 L1330.11,1046.22 L1332.62,1045.68ZM1331.42,1036.88 L1332.71,1039.10 L1335.22,1039.64 L1333.51,1041.56 L1333.77,1044.11 L1331.42,1043.08 L1329.07,1044.11 L1329.33,1041.56 L1327.61,1039.64 L1330.12,1039.10ZM1329.01,1030.27 L1330.30,1032.49 L1332.81,1033.03 L1331.10,1034.95 L1331.36,1037.50 L1329.01,1036.47 L1326.66,1037.50 L1326.91,1034.95 L1325.20,1033.03 L1327.71,1032.49ZM1326.68,1023.63 L1327.98,1025.85 L1330.49,1026.39 L1328.78,1028.31 L1329.03,1030.86 L1326.68,1029.83 L1324.33,1030.86 L1324.59,1028.31 L1322.88,1026.39 L1325.39,1025.85ZM1324.45,1016.95 L1325.74,1019.17 L1328.25,1019.72 L1326.54,1021.63 L1326.80,1024.19 L1324.45,1023.15 L1322.09,1024.19 L1322.35,1021.63 L1320.64,1019.72 L1323.15,1019.17ZM1322.30,1010.25 L1323.59,1012.47 L1326.10,1013.02 L1324.39,1014.93 L1324.65,1017.49 L1322.30,1016.45 L1319.95,1017.49 L1320.20,1014.93 L1318.49,1013.02 L1321.00,1012.47ZM1320.23,1003.53 L1321.53,1005.75 L1324.04,1006.29 L1322.33,1008.21 L1322.59,1010.76 L1320.23,1009.73 L1317.88,1010.76 L1318.14,1008.21 L1316.43,1006.29 L1318.94,1005.75ZM1318.26,996.77 L1319.55,998.99 L1322.06,999.54 L1320.35,1001.45 L1320.61,1004.01 L1318.26,1002.97 L1315.91,1004.01 L1316.17,1001.45 L1314.46,999.54 L1316.97,998.99ZM1316.37,989.99 L1317.67,992.21 L1320.18,992.76 L1318.47,994.67 L1318.73,997.23 L1316.37,996.19 L1314.02,997.23 L1314.28,994.67 L1312.57,992.76 L1315.08,992.21ZM1314.58,983.19 L1315.87,985.41 L1318.38,985.95 L1316.67,987.87 L1316.93,990.42 L1314.58,989.39 L1312.23,990.42 L1312.49,987.87 L1310.77,985.95 L1313.28,985.41ZM1312.87,976.36 L1314.16,978.58 L1316.67,979.13 L1314.96,981.04 L1315.22,983.60 L1312.87,982.56 L1310.52,983.60 L1310.78,981.04 L1309.07,979.13 L1311.58,978.58ZM1311.25,969.51 L1312.54,971.73 L1315.05,972.28 L1313.34,974.19 L1313.60,976.75 L1311.25,975.71 L1308.90,976.75 L1309.16,974.19 L1307.45,972.28 L1309.96,971.73ZM1309.72,962.65 L1311.01,964.87 L1313.53,965.41 L1311.81,967.33 L1312.07,969.88 L1309.72,968.85 L1307.37,969.88 L1307.63,967.33 L1305.92,965.41 L1308.43,964.87ZM1308.28,955.76 L1309.58,957.98 L1312.09,958.52 L1310.37,960.44 L1310.63,962.99 L1308.28,961.96 L1305.93,962.99 L1306.19,960.44 L1304.48,958.52 L1306.99,957.98ZM1306.93,948.85 L1308.23,951.07 L1310.74,951.62 L1309.03,953.53 L1309.28,956.09 L1306.93,955.05 L1304.58,956.09 L1304.84,953.53 L1303.13,951.62 L1305.64,951.07ZM1305.67,941.93 L1306.97,944.15 L1309.48,944.69 L1307.77,946.61 L1308.03,949.16 L1305.67,948.13 L1303.32,949.16 L1303.58,946.61 L1301.87,944.69 L1304.38,944.15ZM1304.51,934.99 L1305.80,937.21 L1308.31,937.75 L1306.60,939.67 L1306.86,942.23 L1304.51,941.19 L1302.15,942.23 L1302.41,939.67 L1300.70,937.75 L1303.21,937.21ZM1303.43,928.04 L1304.72,930.26 L1307.23,930.80 L1305.52,932.72 L1305.78,935.27 L1303.43,934.24 L1301.08,935.27 L1301.34,932.72 L1299.62,930.80 L1302.14,930.26ZM1302.44,921.07 L1303.73,923.29 L1306.25,923.83 L1304.53,925.75 L1304.79,928.30 L1302.44,927.27 L1300.09,928.30 L1300.35,925.75 L1298.64,923.83 L1301.15,923.29ZM1301.55,914.09 L1302.84,916.31 L1305.35,916.85 L1303.64,918.77 L1303.90,921.32 L1301.55,920.29 L1299.19,921.32 L1299.45,918.77 L1297.74,916.85 L1300.25,916.31ZM1300.74,907.10 L1302.03,909.32 L1304.55,909.86 L1302.83,911.78 L1303.09,914.33 L1300.74,913.30 L1298.39,914.33 L1298.65,911.78 L1296.94,909.86 L1299.45,909.32ZM1300.03,900.10 L1301.32,902.32 L1303.83,902.86 L1302.12,904.78 L1302.38,907.33 L1300.03,906.30 L1297.68,907.33 L1297.94,904.78 L1296.22,902.86 L1298.74,902.32ZM1299.41,893.09 L1300.70,895.31 L1303.21,895.85 L1301.50,897.77 L1301.76,900.32 L1299.41,899.29 L1297.06,900.32 L1297.31,897.77 L1295.60,895.85 L1298.11,895.31ZM1298.88,886.07 L1300.17,888.29 L1302.68,888.84 L1300.97,890.75 L1301.23,893.31 L1298.88,892.27 L1296.53,893.31 L1296.78,890.75 L1295.07,888.84 L1297.58,888.29ZM1298.44,879.05 L1299.73,881.27 L1302.24,881.81 L1300.53,883.73 L1300.79,886.28 L1298.44,885.25 L1296.09,886.28 L1296.35,883.73 L1294.63,881.81 L1297.15,881.27ZM1298.09,872.02 L1299.39,874.24 L1301.90,874.78 L1300.18,876.70 L1300.44,879.26 L1298.09,878.22 L1295.74,879.26 L1296.00,876.70 L1294.29,874.78 L1296.80,874.24ZM1297.84,864.99 L1299.13,867.21 L1301.64,867.75 L1299.93,869.67 L1300.19,872.22 L1297.84,871.19 L1295.49,872.22 L1295.74,869.67 L1294.03,867.75 L1296.54,867.21ZM1297.67,857.95 L1298.97,860.17 L1301.48,860.72 L1299.77,862.63 L1300.03,865.19 L1297.67,864.15 L1295.32,865.19 L1295.58,862.63 L1293.87,860.72 L1296.38,860.17ZM1297.60,850.92 L1298.90,853.14 L1301.41,853.68 L1299.70,855.60 L1299.95,858.15 L1297.60,857.12 L1295.25,858.15 L1295.51,855.60 L1293.80,853.68 L1296.31,853.14ZM1297.62,843.88 L1298.92,846.10 L1301.43,846.64 L1299.72,848.56 L1299.98,851.12 L1297.62,850.08 L1295.27,851.12 L1295.53,848.56 L1293.82,846.64 L1296.33,846.10ZM1297.74,836.84 L1299.03,839.06 L1301.54,839.61 L1299.83,841.52 L1300.09,844.08 L1297.74,843.04 L1295.39,844.08 L1295.64,841.52 L1293.93,839.61 L1296.44,839.06ZM1297.94,829.81 L1299.23,832.03 L1301.75,832.57 L1300.03,834.49 L1300.29,837.05 L1297.94,836.01 L1295.59,837.05 L1295.85,834.49 L1294.14,832.57 L1296.65,832.03ZM1298.24,822.78 L1299.53,825.00 L1302.04,825.54 L1300.33,827.46 L1300.59,830.02 L1298.24,828.98 L1295.89,830.02 L1296.15,827.46 L1294.43,825.54 L1296.95,825.00ZM1298.63,815.75 L1299.92,817.97 L1302.43,818.52 L1300.72,820.43 L1300.98,822.99 L1298.63,821.95 L1296.28,822.99 L1296.53,820.43 L1294.82,818.52 L1297.33,817.97ZM1299.11,808.73 L1300.40,810.95 L1302.91,811.50 L1301.20,813.41 L1301.46,815.97 L1299.11,814.93 L1296.76,815.97 L1297.01,813.41 L1295.30,811.50 L1297.81,810.95ZM1299.68,801.72 L1300.97,803.94 L1303.48,804.48 L1301.77,806.40 L1302.03,808.96 L1299.68,807.92 L1297.33,808.96 L1297.59,806.40 L1295.87,804.48 L1298.39,803.94ZM1300.34,794.71 L1301.63,796.93 L1304.15,797.48 L1302.43,799.39 L1302.69,801.95 L1300.34,800.91 L1297.99,801.95 L1298.25,799.39 L1296.54,797.48 L1299.05,796.93ZM1301.10,787.72 L1302.39,789.94 L1304.90,790.48 L1303.19,792.40 L1303.45,794.95 L1301.10,793.92 L1298.75,794.95 L1299.00,792.40 L1297.29,790.48 L1299.80,789.94ZM1301.94,780.73 L1303.24,782.95 L1305.75,783.50 L1304.03,785.41 L1304.29,787.97 L1301.94,786.93 L1299.59,787.97 L1299.85,785.41 L1298.14,783.50 L1300.65,782.95ZM1302.88,773.76 L1304.17,775.98 L1306.68,776.52 L1304.97,778.44 L1305.23,780.99 L1302.88,779.96 L1300.53,780.99 L1300.79,778.44 L1299.08,776.52 L1301.59,775.98ZM1303.91,766.80 L1305.20,769.02 L1307.71,769.56 L1306.00,771.48 L1306.26,774.03 L1303.91,773.00 L1301.56,774.03 L1301.82,771.48 L1300.10,769.56 L1302.61,769.02ZM1305.03,759.85 L1306.32,762.07 L1308.83,762.61 L1307.12,764.53 L1307.38,767.09 L1305.03,766.05 L1302.68,767.09 L1302.93,764.53 L1301.22,762.61 L1303.73,762.07ZM1306.24,752.92 L1307.53,755.14 L1310.04,755.68 L1308.33,757.60 L1308.59,760.15 L1306.24,759.12 L1303.88,760.15 L1304.14,757.60 L1302.43,755.68 L1304.94,755.14ZM1307.54,746.00 L1308.83,748.22 L1311.34,748.77 L1309.63,750.68 L1309.89,753.24 L1307.54,752.20 L1305.18,753.24 L1305.44,750.68 L1303.73,748.77 L1306.24,748.22ZM1308.93,739.10 L1310.22,741.32 L1312.73,741.87 L1311.02,743.78 L1311.28,746.34 L1308.93,745.30 L1306.58,746.34 L1306.83,743.78 L1305.12,741.87 L1307.63,741.32Z" fill="#0000ff"/>
<path d="M1737.5,1387.9L1734.5,1377.6L1743.9,1379.4ZM1628.7,1355.8L1627.9,1345.1L1636.8,1348.7ZM1615.6,1350.2L1615.1,1339.5L1623.9,1343.3ZM1565.0,1324.4L1565.6,1313.7L1573.9,1318.5ZM1505.9,1285.1L1507.9,1274.5L1515.5,1280.4ZM1305.3,735.1L1315.7,732.5L1313.7,741.9ZM1306.9,728.2L1317.4,725.7L1315.2,735.0ZM1308.6,721.3L1319.1,718.9L1316.7,728.3ZM1310.4,714.4L1320.9,712.2L1318.4,721.5ZM1312.2,707.5L1322.7,705.5L1320.2,714.7ZM1314.2,700.7L1324.7,698.8L1322.0,708.0ZM1316.2,693.9L1326.8,692.1L1324.0,701.3ZM1318.3,687.1L1328.9,685.5L1326.0,694.6ZM1320.5,680.4L1331.1,678.9L1328.1,688.0ZM1322.8,673.6L1333.5,672.3L1330.3,681.3ZM1325.2,666.9L1335.9,665.7L1332.6,674.7Z" fill="#ffff00"/>
<path d="M1364.9,585.2a3.9,3.9 0 1 0 7.8,0a3.9,3.9 0 1 0 -7.8,0zM1368.5,579.1a3.9,3.9 0 1 0 7.8,0a3.9,3.9 0 1 0 -7.8,0zM1372.1,573.1a3.9,3.9 0 1 0 7.8,0a3.9,3.9 0 1 0 -7.8,0zM1375.8,567.1a3.9,3.9 0 1 0 7.8,0a3.9,3.9 0 1 0 -7.8,0zM1379.6,561.2a3.9,3.9 0 1 0 7.8,0a3.9,3.9 0 1 0 -7.8,0zM1383.4,555.3a3.9,3.9 0 1 0 7.8,0a3.9,3.9 0 1 0 -7.8,0zM1387.3,549.5a3.9,3.9 0 1 0 7.8,0a3.9,3.9 0 1 0 -7.8,0zM1391.3,543.7a3.9,3.9 0 1 0 7.8,0a3.9,3.9 0 1 0 -7.8,0zM1395.4,537.9a3.9,3.9 0 1 0 7.8,0a3.9,3.9 0 1 0 -7.8,0zM1399.6,532.2a3.9,3.9 0 1 0 7.8,0a3.9,3.9 0 1 0 -7.8,0zM1403.8,526.6a3.9,3.9 0 1 0 7.8,0a3.9,3.9 0 1 0 -7.8,0zM1412.5,515.5a3.9,3.9 0 1 0 7.8,0a3.9,3.9 0 1 0 -7.8,0zM1416.9,510.1a3.9,3.9 0 1 0 7.8,0a3.9,3.9 0 1 0 -7.8,0zM1421.4,504.7a3.9,3.9 0 1 0 7.8,0a3.9,3.9 0 1 0 -7.8,0zM1430.7,494.1a3.9,3.9 0 1 0 7.8,0a3.9,3.9 0 1 0 -7.8,0zM1435.4,488.8a3.9,3.9 0 1 0 7.8,0a3.9,3.9 0 1 0 -7.8,0zM1440.2,483.7a3.9,3.9 0 1 0 7.8,0a3.9,3.9 0 1 0 -7.8,0zM1445.0,478.6a3.9,3.9 0 1 0 7.8,0a3.9,3.9 0 1 0 -7.8,0zM1450.0,473.6a3.9,3.9 0 1 0 7.8,0a3.9,3.9 0 1 0 -7.8,0zM1454.9,468.6a3.9,3.9 0 1 0 7.8,0a3.9,3.9 0 1 0 -7.8,0zM1465.1,458.9a3.9,3.9 0 1 0 7.8,0a3.9,3.9 0 1 0 -7.8,0zM1470.3,454.1a3.9,3.9 0 1 0 7.8,0a3.9,3.9 0 1 0 -7.8,0zM1475.5,449.4a3.9,3.9 0 1 0 7.8,0a3.9,3.9 0 1 0 -7.8,0zM1480.8,444.8a3.9,3.9 0 1 0 7.8,0a3.9,3.9 0 1 0 -7.8,0zM1486.2,440.2a3.9,3.9 0 1 0 7.8,0a3.9,3.9 0 1 0 -7.8,0zM1491.6,435.7a3.9,3.9 0 1 0 7.8,0a3.9,3.9 0 1 0 -7.8,0zM1497.1,431.3a3.9,3.9 0 1 0 7.8,0a3.9,3.9 0 1 0 -7.8,0zM1502.6,427.0a3.9,3.9 0 1 0 7.8,0a3.9,3.9 0 1 0 -7.8,0zM1508.2,422.7a3.9,3.9 0 1 0 7.8,0a3.9,3.9 0 1 0 -7.8,0zM1513.9,418.5a3.9,3.9 0 1 0 7.8,0a3.9,3.9 0 1 0 -7.8,0zM1519.6,414.4a3.9,3.9 0 1 0 7.8,0a3.9,3.9 0 1 0 -7.8,0zM1525.3,410.3a3.9,3.9 0 1 0 7.8,0a3.9,3.9 0 1 0 -7.8,0zM1531.1,406.4a3.9,3.9 0 1 0 7.8,0a3.9,3.9 0 1 0 -7.8,0zM1537.0,402.5a3.9,3.9 0 1 0 7.8,0a3.9,3.9 0 1 0 -7.8,0zM1542.9,398.6a3.9,3.9 0 1 0 7.8,0a3.9,3.9 0 1 0 -7.8,0zM1548.9,394.9a3.9,3.9 0 1 0 7.8,0a3.9,3.9 0 1 0 -7.8,0zM1554.9,391.2a3.9,3.9 0 1 0 7.8,0a3.9,3.9 0 1 0 -7.8,0zM1560.9,387.7a3.9,3.9 0 1 0 7.8,0a3.9,3.9 0 1 0 -7.8,0zM1567.0,384.1a3.9,3.9 0 1 0 7.8,0a3.9,3.9 0 1 0 -7.8,0zM1573.2,380.7a3.9,3.9 0 1 0 7.8,0a3.9,3.9 0 1 0 -7.8,0zM1579.4,377.4a3.9,3.9 0 1 0 7.8,0a3.9,3.9 0 1 0 -7.8,0zM1585.6,374.1a3.9,3.9 0 1 0 7.8,0a3.9,3.9 0 1 0 -7.8,0zM1591.9,370.9a3.9,3.9 0 1 0 7.8,0a3.9,3.9 0 1 0 -7.8,0zM1598.2,367.8a3.9,3.9 0 1 0 7.8,0a3.9,3.9 0 1 0 -7.8,0zM1604.5,364.8a3.9,3.9 0 1 0 7.8,0a3.9,3.9 0 1 0 -7.8,0zM1610.9,361.9a3.9,3.9 0 1 0 7.8,0a3.9,3.9 0 1 0 -7.8,0zM1617.4,359.0a3.9,3.9 0 1 0 7.8,0a3.9,3.9 0 1 0 -7.8,0zM1623.8,356.2a3.9,3.9 0 1 0 7.8,0a3.9,3.9 0 1 0 -7.8,0zM1630.3,353.6a3.9,3.9 0 1 0 7.8,0a3.9,3.9 0 1 0 -7.8,0zM1636.9,351.0a3.9,3.9 0 1 0 7.8,0a3.9,3.9 0 1 0 -7.8,0zM1643.5,348.5a3.9,3.9 0 1 0 7.8,0a3.9,3.9 0 1 0 -7.8,0zM1650.1,346.0a3.9,3.9 0 1 0 7.8,0a3.9,3.9 0 1 0 -7.8,0zM1656.7,343.7a3.9,3.9 0 1 0 7.8,0a3.9,3.9 0 1 0 -7.8,0zM1663.4,341.4a3.9,3.9 0 1 0 7.8,0a3.9,3.9 0 1 0 -7.8,0zM1670.1,339.3a3.9,3.9 0 1 0 7.8,0a3.9,3.9 0 1 0 -7.8,0zM1676.8,337.2a3.9,3.9 0 1 0 7.8,0a3.9,3.9 0 1 0 -7.8,0zM1683.5,335.2a3.9,3.9 0 1 0 7.8,0a3.9,3.9 0 1 0 -7.8,0zM1690.3,333.3a3.9,3.9 0 1 0 7.8,0a3.9,3.9 0 1 0 -7.8,0zM1697.1,331.5a3.9,3.9 0 1 0 7.8,0a3.9,3.9 0 1 0 -7.8,0zM1703.9,329.8a3.9,3.9 0 1 0 7.8,0a3.9,3.9 0 1 0 -7.8,0zM1710.8,328.1a3.9,3.9 0 1 0 7.8,0a3.9,3.9 0 1 0 -7.8,0zM1717.6,326.6a3.9,3.9 0 1 0 7.8,0a3.9,3.9 0 1 0 -7.8,0zM1724.5,325.1a3.9,3.9 0 1 0 7.8,0a3.9,3.9 0 1 0 -7.8,0zM1731.4,323.8a3.9,3.9 0 1 0 7.8,0a3.9,3.9 0 1 0 -7.8,0zM1738.3,322.5a3.9,3.9 0 1 0 7.8,0a3.9,3.9 0 1 0 -7.8,0zM1745.3,321.3a3.9,3.9 0 1 0 7.8,0a3.9,3.9 0 1 0 -7.8,0zM1752.2,320.2a3.9,3.9 0 1 0 7.8,0a3.9,3.9 0 1 0 -7.8,0zM1759.2,319.2a3.9,3.9 0 1 0 7.8,0a3.9,3.9 0 1 0 -7.8,0zM1766.2,318.3a3.9,3.9 0 1 0 7.8,0a3.9,3.9 0 1 0 -7.8,0zM1773.2,317.5a3.9,3.9 0 1 0 7.8,0a3.9,3.9 0 1 0 -7.8,0zM1780.2,316.7a3.9,3.9 0 1 0 7.8,0a3.9,3.9 0 1 0 -7.8,0zM1787.2,316.1a3.9,3.9 0 1 0 7.8,0a3.9,3.9 0 1 0 -7.8,0zM1794.2,315.6a3.9,3.9 0 1 0 7.8,0a3.9,3.9 0 1 0 -7.8,0zM1801.2,315.1a3.9,3.9 0 1 0 7.8,0a3.9,3.9 0 1 0 -7.8,0zM1808.2,314.7a3.9,3.9 0 1 0 7.8,0a3.9,3.9 0 1 0 -7.8,0zM1815.3,314.5a3.9,3.9 0 1 0 7.8,0a3.9,3.9 0 1 0 -7.8,0zM1822.3,314.3a3.9,3.9 0 1 0 7.8,0a3.9,3.9 0 1 0 -7.8,0zM1829.3,314.2a3.9,3.9 0 1 0 7.8,0a3.9,3.9 0 1 0 -7.8,0zM1836.4,314.2a3.9,3.9 0 1 0 7.8,0a3.9,3.9 0 1 0 -7.8,0zM1843.4,314.3a3.9,3.9 0 1 0 7.8,0a3.9,3.9 0 1 0 -7.8,0zM1850.4,314.5a3.9,3.9 0 1 0 7.8,0a3.9,3.9 0 1 0 -7.8,0zM1857.5,314.8a3.9,3.9 0 1 0 7.8,0a3.9,3.9 0 1 0 -7.8,0zM1864.5,315.2a3.9,3.9 0 1 0 7.8,0a3.9,3.9 0 1 0 -7.8,0zM1871.5,315.6a3.9,3.9 0 1 0 7.8,0a3.9,3.9 0 1 0 -7.8,0zM1878.5,316.2a3.9,3.9 0 1 0 7.8,0a3.9,3.9 0 1 0 -7.8,0zM1885.5,316.8a3.9,3.9 0 1 0 7.8,0a3.9,3.9 0 1 0 -7.8,0zM1892.5,317.6a3.9,3.9 0 1 0 7.8,0a3.9,3.9 0 1 0 -7.8,0zM1899.5,318.4a3.9,3.9 0 1 0 7.8,0a3.9,3.9 0 1 0 -7.8,0zM1906.5,319.3a3.9,3.9 0 1 0 7.8,0a3.9,3.9 0 1 0 -7.8,0zM1913.5,320.3a3.9,3.9 0 1 0 7.8,0a3.9,3.9 0 1 0 -7.8,0zM1920.4,321.4a3.9,3.9 0 1 0 7.8,0a3.9,3.9 0 1 0 -7.8,0zM1927.4,322.6a3.9,3.9 0 1 0 7.8,0a3.9,3.9 0 1 0 -7.8,0zM1934.3,323.9a3.9,3.9 0 1 0 7.8,0a3.9,3.9 0 1 0 -7.8,0zM1941.2,325.3a3.9,3.9 0 1 0 7.8,0a3.9,3.9 0 1 0 -7.8,0zM1948.1,326.7a3.9,3.9 0 1 0 7.8,0a3.9,3.9 0 1 0 -7.8,0zM1954.9,328.3a3.9,3.9 0 1 0 7.8,0a3.9,3.9 0 1 0 -7.8,0zM1961.8,329.9a3.9,3.9 0 1 0 7.8,0a3.9,3.9 0 1 0 -7.8,0zM1968.6,331.7a3.9,3.9 0 1 0 7.8,0a3.9,3.9 0 1 0 -7.8,0zM1975.4,333.5a3.9,3.9 0 1 0 7.8,0a3.9,3.9 0 1 0 -7.8,0zM1982.1,335.4a3.9,3.9 0 1 0 7.8,0a3.9,3.9 0 1 0 -7.8,0zM1988.9,337.4a3.9,3.9 0 1 0 7.8,0a3.9,3.9 0 1 0 -7.8,0zM1995.6,339.5a3.9,3.9 0 1 0 7.8,0a3.9,3.9 0 1 0 -7.8,0zM2002.3,341.7a3.9,3.9 0 1 0 7.8,0a3.9,3.9 0 1 0 -7.8,0zM2009.0,343.9a3.9,3.9 0 1 0 7.8,0a3.9,3.9 0 1 0 -7.8,0zM2015.6,346.3a3.9,3.9 0 1 0 7.8,0a3.9,3.9 0 1 0 -7.8,0zM2022.2,348.7a3.9,3.9 0 1 0 7.8,0a3.9,3.9 0 1 0 -7.8,0zM2028.8,351.2a3.9,3.9 0 1 0 7.8,0a3.9,3.9 0 1 0 -7.8,0zM2035.3,353.8a3.9,3.9 0 1 0 7.8,0a3.9,3.9 0 1 0 -7.8,0zM2041.8,356.5a3.9,3.9 0 1 0 7.8,0a3.9,3.9 0 1 0 -7.8,0zM2048.3,359.3a3.9,3.9 0 1 0 7.8,0a3.9,3.9 0 1 0 -7.8,0zM2054.7,362.2a3.9,3.9 0 1 0 7.8,0a3.9,3.9 0 1 0 -7.8,0zM2061.1,365.1a3.9,3.9 0 1 0 7.8,0a3.9,3.9 0 1 0 -7.8,0zM2067.5,368.1a3.9,3.9 0 1 0 7.8,0a3.9,3.9 0 1 0 -7.8,0zM2073.8,371.2a3.9,3.9 0 1 0 7.8,0a3.9,3.9 0 1 0 -7.8,0zM2080.0,374.4a3.9,3.9 0 1 0 7.8,0a3.9,3.9 0 1 0 -7.8,0zM2086.3,377.7a3.9,3.9 0 1 0 7.8,0a3.9,3.9 0 1 0 -7.8,0zM2092.5,381.1a3.9,3.9 0 1 0 7.8,0a3.9,3.9 0 1 0 -7.8,0zM2098.6,384.5a3.9,3.9 0 1 0 7.8,0a3.9,3.9 0 1 0 -7.8,0zM2104.7,388.0a3.9,3.9 0 1 0 7.8,0a3.9,3.9 0 1 0 -7.8,0zM2110.7,391.6a3.9,3.9 0 1 0 7.8,0a3.9,3.9 0 1 0 -7.8,0zM2116.7,395.3a3.9,3.9 0 1 0 7.8,0a3.9,3.9 0 1 0 -7.8,0zM2122.7,399.0a3.9,3.9 0 1 0 7.8,0a3.9,3.9 0 1 0 -7.8,0zM2128.6,402.9a3.9,3.9 0 1 0 7.8,0a3.9,3.9 0 1 0 -7.8,0zM2134.5,406.8a3.9,3.9 0 1 0 7.8,0a3.9,3.9 0 1 0 -7.8,0zM2140.3,410.7a3.9,3.9 0 1 0 7.8,0a3.9,3.9 0 1 0 -7.8,0zM2146.0,414.8a3.9,3.9 0 1 0 7.8,0a3.9,3.9 0 1 0 -7.8,0zM2151.7,418.9a3.9,3.9 0 1 0 7.8,0a3.9,3.9 0 1 0 -7.8,0zM2157.3,423.1a3.9,3.9 0 1 0 7.8,0a3.9,3.9 0 1 0 -7.8,0zM2162.9,427.4a3.9,3.9 0 1 0 7.8,0a3.9,3.9 0 1 0 -7.8,0zM2168.5,431.8a3.9,3.9 0 1 0 7.8,0a3.9,3.9 0 1 0 -7.8,0zM2173.9,436.2a3.9,3.9 0 1 0 7.8,0a3.9,3.9 0 1 0 -7.8,0zM2179.3,440.7a3.9,3.9 0 1 0 7.8,0a3.9,3.9 0 1 0 -7.8,0zM2184.7,445.2a3.9,3.9 0 1 0 7.8,0a3.9,3.9 0 1 0 -7.8,0zM2190.0,449.9a3.9,3.9 0 1 0 7.8,0a3.9,3.9 0 1 0 -7.8,0zM2195.2,454.6a3.9,3.9 0 1 0 7.8,0a3.9,3.9 0 1 0 -7.8,0zM2200.4,459.4a3.9,3.9 0 1 0 7.8,0a3.9,3.9 0 1 0 -7.8,0zM2205.5,464.2a3.9,3.9 0 1 0 7.8,0a3.9,3.9 0 1 0 -7.8,0zM2210.6,469.1a3.9,3.9 0 1 0 7.8,0a3.9,3.9 0 1 0 -7.8,0zM2215.5,474.1a3.9,3.9 0 1 0 7.8,0a3.9,3.9 0 1 0 -7.8,0zM2220.5,479.1a3.9,3.9 0 1 0 7.8,0a3.9,3.9 0 1 0 -7.8,0zM2225.3,484.2a3.9,3.9 0 1 0 7.8,0a3.9,3.9 0 1 0 -7.8,0zM2230.1,489.4a3.9,3.9 0 1 0 7.8,0a3.9,3.9 0 1 0 -7.8,0zM2234.8,494.6a3.9,3.9 0 1 0 7.8,0a3.9,3.9 0 1 0 -7.8,0zM2239.4,499.9a3.9,3.9 0 1 0 7.8,0a3.9,3.9 0 1 0 -7.8,0zM2244.0,505.2a3.9,3.9 0 1 0 7.8,0a3.9,3.9 0 1 0 -7.8,0zM2282.0,555.9a3.9,3.9 0 1 0 7.8,0a3.9,3.9 0 1 0 -7.8,0zM2285.8,561.8a3.9,3.9 0 1 0 7.8,0a3.9,3.9 0 1 0 -7.8,0zM2289.6,567.7a3.9,3.9 0 1 0 7.8,0a3.9,3.9 0 1 0 -7.8,0zM2331.2,649.1a3.9,3.9 0 1 0 7.8,0a3.9,3.9 0 1 0 -7.8,0zM2333.8,655.6a3.9,3.9 0 1 0 7.8,0a3.9,3.9 0 1 0 -7.8,0zM2336.4,662.1a3.9,3.9 0 1 0 7.8,0a3.9,3.9 0 1 0 -7.8,0zM2338.8,668.7a3.9,3.9 0 1 0 7.8,0a3.9,3.9 0 1 0 -7.8,0zM2341.2,675.4a3.9,3.9 0 1 0 7.8,0a3.9,3.9 0 1 0 -7.8,0zM2343.5,682.0a3.9,3.9 0 1 0 7.8,0a3.9,3.9 0 1 0 -7.8,0zM2345.6,688.7a3.9,3.9 0 1 0 7.8,0a3.9,3.9 0 1 0 -7.8,0zM2366.5,925.1a3.9,3.9 0 1 0 7.8,0a3.9,3.9 0 1 0 -7.8,0zM2365.5,932.1a3.9,3.9 0 1 0 7.8,0a3.9,3.9 0 1 0 -7.8,0zM2360.6,959.8a3.9,3.9 0 1 0 7.8,0a3.9,3.9 0 1 0 -7.8,0zM2294.9,1129.6a3.9,3.9 0 1 0 7.8,0a3.9,3.9 0 1 0 -7.8,0zM2279.8,1153.4a3.9,3.9 0 1 0 7.8,0a3.9,3.9 0 1 0 -7.8,0zM2271.8,1164.9a3.9,3.9 0 1 0 7.8,0a3.9,3.9 0 1 0 -7.8,0zM2267.7,1170.6a3.9,3.9 0 1 0 7.8,0a3.9,3.9 0 1 0 -7.8,0zM2259.3,1181.9a3.9,3.9 0 1 0 7.8,0a3.9,3.9 0 1 0 -7.8,0zM2254.9,1187.4a3.9,3.9 0 1 0 7.8,0a3.9,3.9 0 1 0 -7.8,0zM2236.9,1209.0a3.9,3.9 0 1 0 7.8,0a3.9,3.9 0 1 0 -7.8,0zM2222.6,1224.6a3.9,3.9 0 1 0 7.8,0a3.9,3.9 0 1 0 -7.8,0zM2217.8,1229.7a3.9,3.9 0 1 0 7.8,0a3.9,3.9 0 1 0 -7.8,0zM2187.1,1258.7a3.9,3.9 0 1 0 7.8,0a3.9,3.9 0 1 0 -7.8,0z" fill="#f44336"/>
<rect x="2010.8" y="43.2" width="283.8" height="219.2" fill="#fff" stroke="#ececec" stroke-width="1.8"/>
<circle cx="2038.6" cy="74" r="18.2" fill="#ff0000" stroke="#8a2a2a" stroke-width="1"/>
<rect x="2019.5" y="109" width="37.8" height="34.6" fill="#00ff00" stroke="#3a8a3a" stroke-width="1"/>
<path d="M2038.20,162.80 L2042.31,175.14 L2055.32,175.24 L2044.86,182.96 L2048.78,195.36 L2038.20,187.80 L2027.62,195.36 L2031.54,182.96 L2021.08,175.24 L2034.09,175.14Z" fill="#0000ff" stroke="#22228a" stroke-width="0.8"/>
<path d="M2019.3,213 L2057.6,230.3 L2019.3,247.6 Z" fill="#ffff00" stroke="#77772a" stroke-width="1.2"/>
<text x="2076.3" y="82.0" font-size="25.8" font-weight="normal" fill="#1a1a1a" textLength="136.5" lengthAdjust="spacingAndGlyphs" stroke="#1a1a1a" stroke-width="0.25" stroke-linejoin="round">Blocky fruit</text>
<text x="2076.3" y="134.0" font-size="25.8" font-weight="normal" fill="#1a1a1a" textLength="183.5" lengthAdjust="spacingAndGlyphs" stroke="#1a1a1a" stroke-width="0.25" stroke-linejoin="round">Wide-horn fruit</text>
<text x="2076.3" y="185.7" font-size="25.8" font-weight="normal" fill="#1a1a1a" textLength="209.5" lengthAdjust="spacingAndGlyphs" stroke="#1a1a1a" stroke-width="0.25" stroke-linejoin="round">Narrow-horn fruit</text>
<text x="2076.3" y="238.0" font-size="25.8" font-weight="normal" fill="#1a1a1a" textLength="131.5" lengthAdjust="spacingAndGlyphs" stroke="#1a1a1a" stroke-width="0.25" stroke-linejoin="round">Linear fruit</text>
</g>
</svg>
</body>
</html>
